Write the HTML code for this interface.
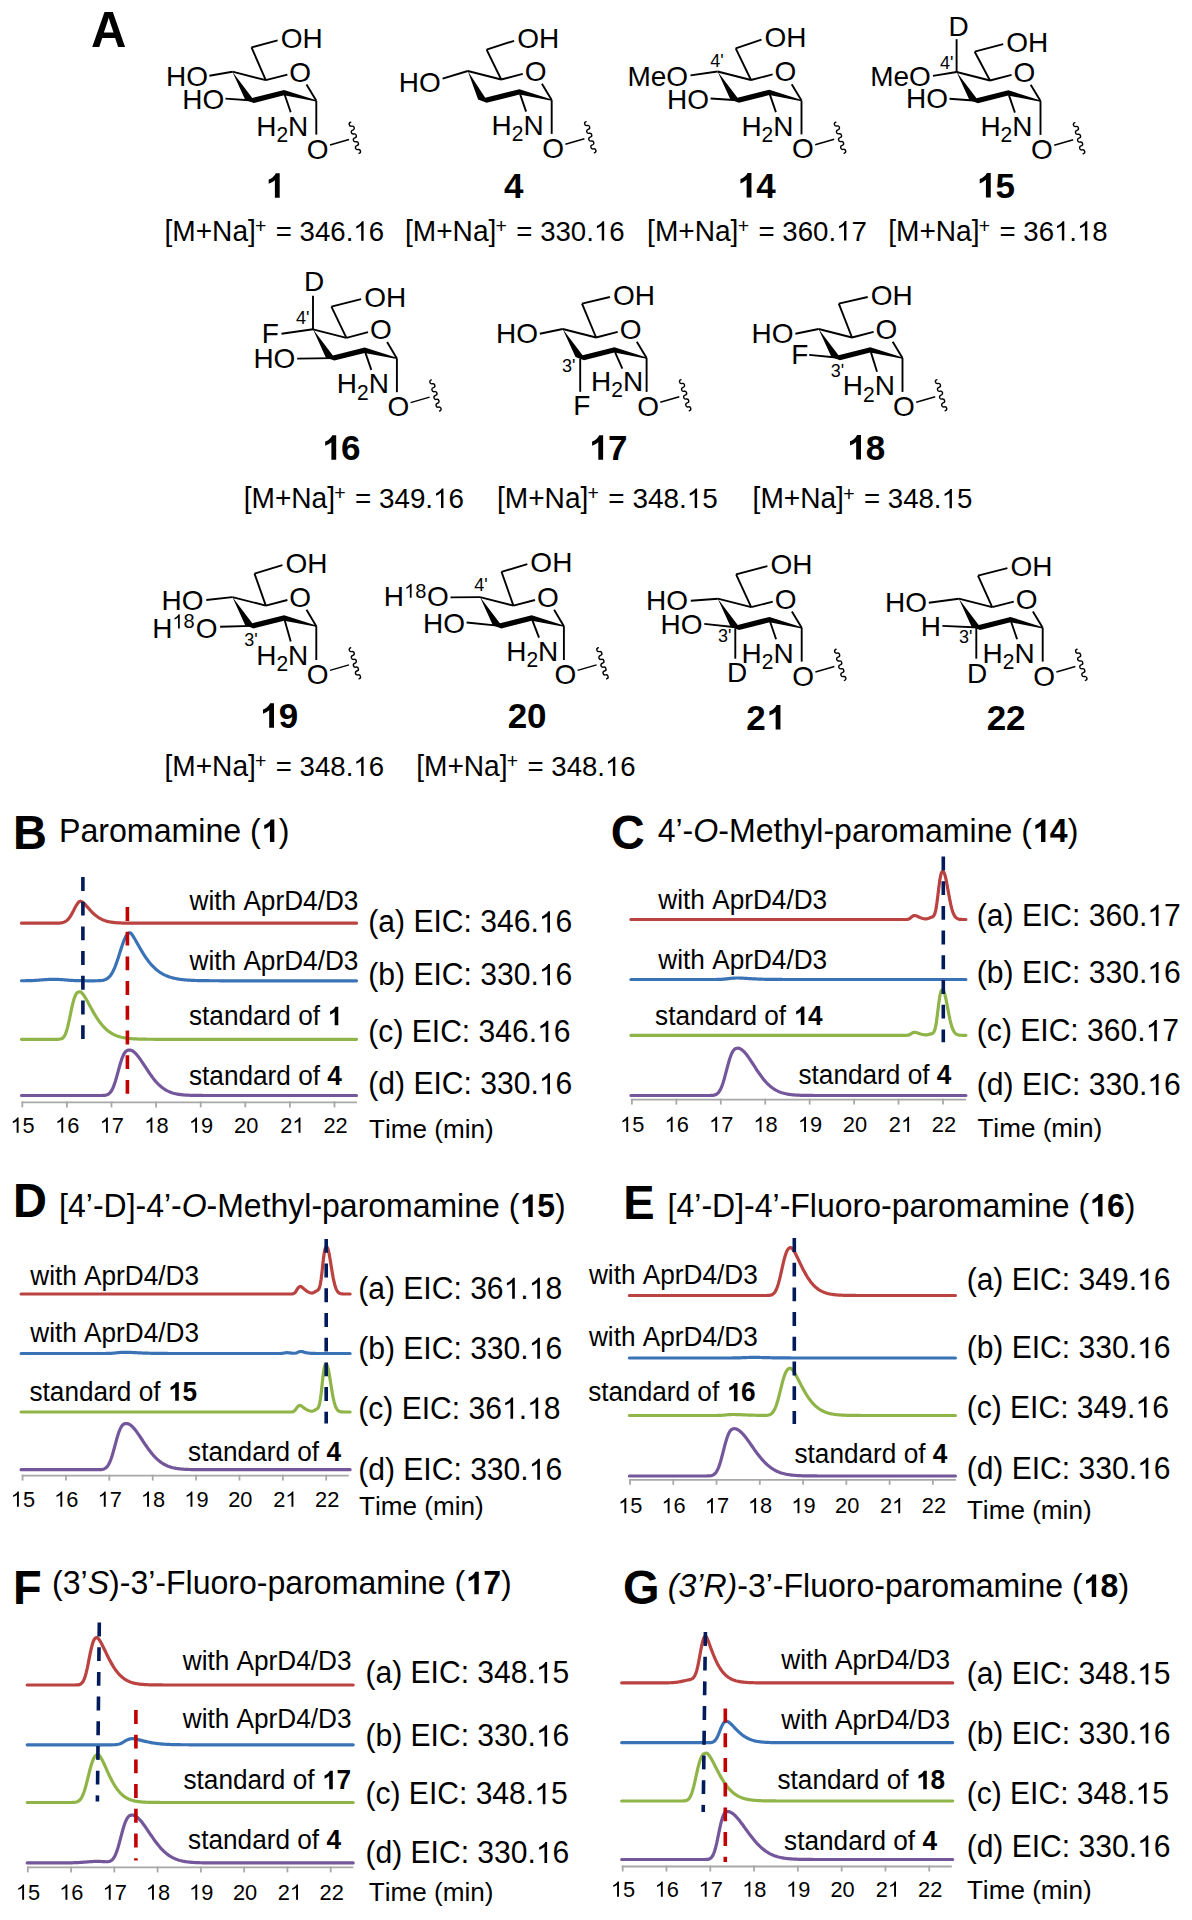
<!DOCTYPE html>
<html><head><meta charset="utf-8"><title>Figure</title>
<style>html,body{margin:0;padding:0;background:#fff;}svg{display:block;}
text{font-family:"Liberation Sans", sans-serif;font-kerning:none;}</style></head>
<body><svg width="1192" height="1920" viewBox="0 0 1192 1920">
<rect width="1192" height="1920" fill="#fff"/>
<text transform="translate(90.88,46.60) scale(1,1.02)" font-size="49.00" font-weight="bold">A</text>
<polygon points="232.40,71.70 245.20,99.80 253.70,103.00 284.10,95.30 316.30,101.40 316.30,100.20 284.10,89.90 252.30,97.90" fill="#000"/>
<line x1="232.40" y1="71.70" x2="265.80" y2="80.20" stroke="#000" stroke-width="1.9" stroke-linecap="butt" />
<line x1="265.80" y1="80.20" x2="251.50" y2="47.40" stroke="#000" stroke-width="1.9" stroke-linecap="butt" />
<line x1="251.50" y1="47.40" x2="277.60" y2="40.30" stroke="#000" stroke-width="1.9" stroke-linecap="butt" />
<line x1="265.80" y1="80.20" x2="287.40" y2="74.60" stroke="#000" stroke-width="1.9" stroke-linecap="butt" />
<line x1="306.50" y1="84.40" x2="316.30" y2="100.80" stroke="#000" stroke-width="1.9" stroke-linecap="butt" />
<line x1="316.30" y1="100.80" x2="316.30" y2="134.60" stroke="#000" stroke-width="1.9" stroke-linecap="butt" />
<line x1="284.70" y1="94.80" x2="290.70" y2="112.30" stroke="#000" stroke-width="1.9" stroke-linecap="butt" />
<line x1="330.00" y1="145.00" x2="349.00" y2="139.50" stroke="#000" stroke-width="1.5" stroke-linecap="butt" />
<path d="M350.70,122.30 a2.01,2.01 0 0 0 1.04,3.89 a2.01,2.01 0 0 1 1.04,3.89 a2.01,2.01 0 0 0 1.04,3.89 a2.01,2.01 0 0 1 1.04,3.89 a2.01,2.01 0 0 0 1.04,3.89 a2.01,2.01 0 0 1 1.04,3.89 a2.01,2.01 0 0 0 1.04,3.89 a2.01,2.01 0 0 1 1.04,3.89" fill="none" stroke="#000" stroke-width="1.4" stroke-linejoin="round" stroke-linecap="round" />
<text transform="translate(280.67,47.90) scale(1,1.02)" font-size="28.00">OH</text>
<text transform="translate(289.37,81.50) scale(1,1.02)" font-size="28.00">O</text>
<text transform="translate(306.87,158.60) scale(1,1.02)" font-size="28.00">O</text>
<text transform="translate(256.20,135.70) scale(1,1.02)" font-size="28.00">H</text>
<text transform="translate(276.42,142.14) scale(1,1.02)" font-size="21.00">2</text>
<text transform="translate(288.10,135.70) scale(1,1.02)" font-size="28.00">N</text>
<line x1="232.40" y1="71.70" x2="209.40" y2="75.80" stroke="#000" stroke-width="1.9" stroke-linecap="butt" />
<text transform="translate(166.00,85.70) scale(1,1.02)" font-size="28.00">HO</text>
<line x1="252.50" y1="100.50" x2="225.50" y2="98.60" stroke="#000" stroke-width="1.9" stroke-linecap="butt" />
<text transform="translate(182.20,108.60) scale(1,1.02)" font-size="28.00">HO</text>
<polygon points="467.80,71.00 478.10,99.60 486.60,102.80 519.50,94.60 551.70,100.70 551.70,99.50 519.50,89.20 485.20,97.70" fill="#000"/>
<line x1="467.80" y1="71.00" x2="501.20" y2="79.50" stroke="#000" stroke-width="1.9" stroke-linecap="butt" />
<line x1="501.20" y1="79.50" x2="486.60" y2="49.60" stroke="#000" stroke-width="1.9" stroke-linecap="butt" />
<line x1="486.60" y1="49.60" x2="514.10" y2="40.80" stroke="#000" stroke-width="1.9" stroke-linecap="butt" />
<line x1="501.20" y1="79.50" x2="522.80" y2="73.90" stroke="#000" stroke-width="1.9" stroke-linecap="butt" />
<line x1="541.90" y1="83.70" x2="551.70" y2="100.10" stroke="#000" stroke-width="1.9" stroke-linecap="butt" />
<line x1="551.70" y1="100.10" x2="551.70" y2="133.90" stroke="#000" stroke-width="1.9" stroke-linecap="butt" />
<line x1="520.10" y1="94.10" x2="526.10" y2="111.60" stroke="#000" stroke-width="1.9" stroke-linecap="butt" />
<line x1="565.40" y1="144.30" x2="584.40" y2="138.80" stroke="#000" stroke-width="1.5" stroke-linecap="butt" />
<path d="M586.10,121.60 a2.01,2.01 0 0 0 1.04,3.89 a2.01,2.01 0 0 1 1.04,3.89 a2.01,2.01 0 0 0 1.04,3.89 a2.01,2.01 0 0 1 1.04,3.89 a2.01,2.01 0 0 0 1.04,3.89 a2.01,2.01 0 0 1 1.04,3.89 a2.01,2.01 0 0 0 1.04,3.89 a2.01,2.01 0 0 1 1.04,3.89" fill="none" stroke="#000" stroke-width="1.4" stroke-linejoin="round" stroke-linecap="round" />
<text transform="translate(517.17,48.40) scale(1,1.02)" font-size="28.00">OH</text>
<text transform="translate(524.77,80.80) scale(1,1.02)" font-size="28.00">O</text>
<text transform="translate(542.27,157.90) scale(1,1.02)" font-size="28.00">O</text>
<text transform="translate(491.60,135.00) scale(1,1.02)" font-size="28.00">H</text>
<text transform="translate(511.82,141.44) scale(1,1.02)" font-size="21.00">2</text>
<text transform="translate(523.50,135.00) scale(1,1.02)" font-size="28.00">N</text>
<line x1="467.80" y1="71.00" x2="442.60" y2="78.70" stroke="#000" stroke-width="1.9" stroke-linecap="butt" />
<text transform="translate(398.70,92.00) scale(1,1.02)" font-size="28.00">HO</text>
<polygon points="717.60,71.50 730.40,99.60 738.90,102.80 769.30,95.10 801.50,101.20 801.50,100.00 769.30,89.70 737.50,97.70" fill="#000"/>
<line x1="717.60" y1="71.50" x2="751.00" y2="80.00" stroke="#000" stroke-width="1.9" stroke-linecap="butt" />
<line x1="751.00" y1="80.00" x2="735.70" y2="48.30" stroke="#000" stroke-width="1.9" stroke-linecap="butt" />
<line x1="735.70" y1="48.30" x2="761.50" y2="39.70" stroke="#000" stroke-width="1.9" stroke-linecap="butt" />
<line x1="751.00" y1="80.00" x2="772.60" y2="74.40" stroke="#000" stroke-width="1.9" stroke-linecap="butt" />
<line x1="791.70" y1="84.20" x2="801.50" y2="100.60" stroke="#000" stroke-width="1.9" stroke-linecap="butt" />
<line x1="801.50" y1="100.60" x2="801.50" y2="134.40" stroke="#000" stroke-width="1.9" stroke-linecap="butt" />
<line x1="769.90" y1="94.60" x2="775.90" y2="112.10" stroke="#000" stroke-width="1.9" stroke-linecap="butt" />
<line x1="815.20" y1="144.80" x2="834.20" y2="139.30" stroke="#000" stroke-width="1.5" stroke-linecap="butt" />
<path d="M835.90,122.10 a2.01,2.01 0 0 0 1.04,3.89 a2.01,2.01 0 0 1 1.04,3.89 a2.01,2.01 0 0 0 1.04,3.89 a2.01,2.01 0 0 1 1.04,3.89 a2.01,2.01 0 0 0 1.04,3.89 a2.01,2.01 0 0 1 1.04,3.89 a2.01,2.01 0 0 0 1.04,3.89 a2.01,2.01 0 0 1 1.04,3.89" fill="none" stroke="#000" stroke-width="1.4" stroke-linejoin="round" stroke-linecap="round" />
<text transform="translate(764.57,47.30) scale(1,1.02)" font-size="28.00">OH</text>
<text transform="translate(774.57,81.30) scale(1,1.02)" font-size="28.00">O</text>
<text transform="translate(792.07,158.40) scale(1,1.02)" font-size="28.00">O</text>
<text transform="translate(741.40,135.50) scale(1,1.02)" font-size="28.00">H</text>
<text transform="translate(761.62,141.94) scale(1,1.02)" font-size="21.00">2</text>
<text transform="translate(773.30,135.50) scale(1,1.02)" font-size="28.00">N</text>
<line x1="717.60" y1="71.50" x2="690.50" y2="75.40" stroke="#000" stroke-width="1.9" stroke-linecap="butt" />
<text transform="translate(627.40,85.50) scale(1,1.02)" font-size="28.00">MeO</text>
<text transform="translate(710.19,67.30) scale(1,1.02)" font-size="18.00">4'</text>
<line x1="737.70" y1="100.30" x2="710.60" y2="98.50" stroke="#000" stroke-width="1.9" stroke-linecap="butt" />
<text transform="translate(667.00,108.60) scale(1,1.02)" font-size="28.00">HO</text>
<polygon points="956.60,72.00 969.40,100.10 977.90,103.30 1008.30,95.60 1040.50,101.70 1040.50,100.50 1008.30,90.20 976.50,98.20" fill="#000"/>
<line x1="956.60" y1="72.00" x2="990.00" y2="80.50" stroke="#000" stroke-width="1.9" stroke-linecap="butt" />
<line x1="990.00" y1="80.50" x2="974.70" y2="51.70" stroke="#000" stroke-width="1.9" stroke-linecap="butt" />
<line x1="974.70" y1="51.70" x2="1003.20" y2="44.10" stroke="#000" stroke-width="1.9" stroke-linecap="butt" />
<line x1="990.00" y1="80.50" x2="1011.60" y2="74.90" stroke="#000" stroke-width="1.9" stroke-linecap="butt" />
<line x1="1030.70" y1="84.70" x2="1040.50" y2="101.10" stroke="#000" stroke-width="1.9" stroke-linecap="butt" />
<line x1="1040.50" y1="101.10" x2="1040.50" y2="134.90" stroke="#000" stroke-width="1.9" stroke-linecap="butt" />
<line x1="1008.90" y1="95.10" x2="1014.90" y2="112.60" stroke="#000" stroke-width="1.9" stroke-linecap="butt" />
<line x1="1054.20" y1="145.30" x2="1073.20" y2="139.80" stroke="#000" stroke-width="1.5" stroke-linecap="butt" />
<path d="M1074.90,122.60 a2.01,2.01 0 0 0 1.04,3.89 a2.01,2.01 0 0 1 1.04,3.89 a2.01,2.01 0 0 0 1.04,3.89 a2.01,2.01 0 0 1 1.04,3.89 a2.01,2.01 0 0 0 1.04,3.89 a2.01,2.01 0 0 1 1.04,3.89 a2.01,2.01 0 0 0 1.04,3.89 a2.01,2.01 0 0 1 1.04,3.89" fill="none" stroke="#000" stroke-width="1.4" stroke-linejoin="round" stroke-linecap="round" />
<text transform="translate(1006.27,51.70) scale(1,1.02)" font-size="28.00">OH</text>
<text transform="translate(1013.57,81.80) scale(1,1.02)" font-size="28.00">O</text>
<text transform="translate(1031.07,158.90) scale(1,1.02)" font-size="28.00">O</text>
<text transform="translate(980.40,136.00) scale(1,1.02)" font-size="28.00">H</text>
<text transform="translate(1000.62,142.44) scale(1,1.02)" font-size="21.00">2</text>
<text transform="translate(1012.30,136.00) scale(1,1.02)" font-size="28.00">N</text>
<line x1="956.60" y1="39.20" x2="956.60" y2="72.00" stroke="#000" stroke-width="1.9" stroke-linecap="butt" />
<text transform="translate(948.40,35.70) scale(1,1.02)" font-size="28.00">D</text>
<text transform="translate(939.99,68.60) scale(1,1.02)" font-size="18.00">4'</text>
<line x1="956.60" y1="72.00" x2="933.00" y2="75.90" stroke="#000" stroke-width="1.9" stroke-linecap="butt" />
<text transform="translate(870.20,85.50) scale(1,1.02)" font-size="28.00">MeO</text>
<line x1="976.70" y1="100.80" x2="949.50" y2="98.80" stroke="#000" stroke-width="1.9" stroke-linecap="butt" />
<text transform="translate(906.00,107.80) scale(1,1.02)" font-size="28.00">HO</text>
<polygon points="313.00,329.30 325.80,357.40 334.30,360.60 364.70,352.90 396.90,359.00 396.90,357.80 364.70,347.50 332.90,355.50" fill="#000"/>
<line x1="313.00" y1="329.30" x2="346.40" y2="337.80" stroke="#000" stroke-width="1.9" stroke-linecap="butt" />
<line x1="346.40" y1="337.80" x2="331.40" y2="306.70" stroke="#000" stroke-width="1.9" stroke-linecap="butt" />
<line x1="331.40" y1="306.70" x2="361.10" y2="299.10" stroke="#000" stroke-width="1.9" stroke-linecap="butt" />
<line x1="346.40" y1="337.80" x2="368.00" y2="332.20" stroke="#000" stroke-width="1.9" stroke-linecap="butt" />
<line x1="387.10" y1="342.00" x2="396.90" y2="358.40" stroke="#000" stroke-width="1.9" stroke-linecap="butt" />
<line x1="396.90" y1="358.40" x2="396.90" y2="392.20" stroke="#000" stroke-width="1.9" stroke-linecap="butt" />
<line x1="365.30" y1="352.40" x2="371.30" y2="369.90" stroke="#000" stroke-width="1.9" stroke-linecap="butt" />
<line x1="410.60" y1="402.60" x2="429.60" y2="397.10" stroke="#000" stroke-width="1.5" stroke-linecap="butt" />
<path d="M431.30,379.90 a2.01,2.01 0 0 0 1.04,3.89 a2.01,2.01 0 0 1 1.04,3.89 a2.01,2.01 0 0 0 1.04,3.89 a2.01,2.01 0 0 1 1.04,3.89 a2.01,2.01 0 0 0 1.04,3.89 a2.01,2.01 0 0 1 1.04,3.89 a2.01,2.01 0 0 0 1.04,3.89 a2.01,2.01 0 0 1 1.04,3.89" fill="none" stroke="#000" stroke-width="1.4" stroke-linejoin="round" stroke-linecap="round" />
<text transform="translate(364.17,306.70) scale(1,1.02)" font-size="28.00">OH</text>
<text transform="translate(369.97,339.10) scale(1,1.02)" font-size="28.00">O</text>
<text transform="translate(387.47,416.20) scale(1,1.02)" font-size="28.00">O</text>
<text transform="translate(336.80,393.30) scale(1,1.02)" font-size="28.00">H</text>
<text transform="translate(357.02,399.74) scale(1,1.02)" font-size="21.00">2</text>
<text transform="translate(368.70,393.30) scale(1,1.02)" font-size="28.00">N</text>
<line x1="313.00" y1="295.80" x2="313.00" y2="329.30" stroke="#000" stroke-width="1.9" stroke-linecap="butt" />
<text transform="translate(304.10,291.20) scale(1,1.02)" font-size="28.00">D</text>
<text transform="translate(295.89,324.40) scale(1,1.02)" font-size="18.00">4'</text>
<line x1="313.00" y1="329.30" x2="281.50" y2="333.70" stroke="#000" stroke-width="1.9" stroke-linecap="butt" />
<text transform="translate(261.70,342.90) scale(1,1.02)" font-size="28.00">F</text>
<line x1="297.20" y1="358.60" x2="333.10" y2="358.10" stroke="#000" stroke-width="1.9" stroke-linecap="butt" />
<text transform="translate(253.40,367.80) scale(1,1.02)" font-size="28.00">HO</text>
<polygon points="562.70,329.00 575.50,357.10 584.00,360.30 614.40,352.60 646.60,358.70 646.60,357.50 614.40,347.20 582.60,355.20" fill="#000"/>
<line x1="562.70" y1="329.00" x2="596.10" y2="337.50" stroke="#000" stroke-width="1.9" stroke-linecap="butt" />
<line x1="596.10" y1="337.50" x2="582.00" y2="303.60" stroke="#000" stroke-width="1.9" stroke-linecap="butt" />
<line x1="582.00" y1="303.60" x2="609.90" y2="297.00" stroke="#000" stroke-width="1.9" stroke-linecap="butt" />
<line x1="596.10" y1="337.50" x2="617.70" y2="331.90" stroke="#000" stroke-width="1.9" stroke-linecap="butt" />
<line x1="636.80" y1="341.70" x2="646.60" y2="358.10" stroke="#000" stroke-width="1.9" stroke-linecap="butt" />
<line x1="646.60" y1="358.10" x2="646.60" y2="391.90" stroke="#000" stroke-width="1.9" stroke-linecap="butt" />
<line x1="615.00" y1="352.10" x2="622.35" y2="368.60" stroke="#000" stroke-width="1.9" stroke-linecap="butt" />
<line x1="660.30" y1="402.30" x2="679.30" y2="396.80" stroke="#000" stroke-width="1.5" stroke-linecap="butt" />
<path d="M681.00,379.60 a2.01,2.01 0 0 0 1.04,3.89 a2.01,2.01 0 0 1 1.04,3.89 a2.01,2.01 0 0 0 1.04,3.89 a2.01,2.01 0 0 1 1.04,3.89 a2.01,2.01 0 0 0 1.04,3.89 a2.01,2.01 0 0 1 1.04,3.89 a2.01,2.01 0 0 0 1.04,3.89 a2.01,2.01 0 0 1 1.04,3.89" fill="none" stroke="#000" stroke-width="1.4" stroke-linejoin="round" stroke-linecap="round" />
<text transform="translate(612.97,304.60) scale(1,1.02)" font-size="28.00">OH</text>
<text transform="translate(619.67,338.80) scale(1,1.02)" font-size="28.00">O</text>
<text transform="translate(637.17,415.90) scale(1,1.02)" font-size="28.00">O</text>
<text transform="translate(591.00,390.80) scale(1,1.02)" font-size="28.00">H</text>
<text transform="translate(611.22,397.24) scale(1,1.02)" font-size="21.00">2</text>
<text transform="translate(622.90,390.80) scale(1,1.02)" font-size="28.00">N</text>
<line x1="562.70" y1="329.00" x2="539.80" y2="333.70" stroke="#000" stroke-width="1.9" stroke-linecap="butt" />
<text transform="translate(496.00,342.90) scale(1,1.02)" font-size="28.00">HO</text>
<line x1="580.20" y1="358.60" x2="580.20" y2="391.80" stroke="#000" stroke-width="1.9" stroke-linecap="butt" />
<text transform="translate(573.30,414.50) scale(1,1.02)" font-size="28.00">F</text>
<text transform="translate(561.91,372.20) scale(1,1.02)" font-size="18.00">3'</text>
<polygon points="818.60,329.00 831.40,357.10 839.90,360.30 870.30,352.60 902.50,358.70 902.50,357.50 870.30,347.20 838.50,355.20" fill="#000"/>
<line x1="818.60" y1="329.00" x2="852.00" y2="337.50" stroke="#000" stroke-width="1.9" stroke-linecap="butt" />
<line x1="852.00" y1="337.50" x2="838.80" y2="303.60" stroke="#000" stroke-width="1.9" stroke-linecap="butt" />
<line x1="838.80" y1="303.60" x2="867.70" y2="297.00" stroke="#000" stroke-width="1.9" stroke-linecap="butt" />
<line x1="852.00" y1="337.50" x2="873.60" y2="331.90" stroke="#000" stroke-width="1.9" stroke-linecap="butt" />
<line x1="892.70" y1="341.70" x2="902.50" y2="358.10" stroke="#000" stroke-width="1.9" stroke-linecap="butt" />
<line x1="902.50" y1="358.10" x2="902.50" y2="391.90" stroke="#000" stroke-width="1.9" stroke-linecap="butt" />
<line x1="870.90" y1="352.10" x2="877.02" y2="371.70" stroke="#000" stroke-width="1.9" stroke-linecap="butt" />
<line x1="916.20" y1="402.30" x2="935.20" y2="396.80" stroke="#000" stroke-width="1.5" stroke-linecap="butt" />
<path d="M936.90,379.60 a2.01,2.01 0 0 0 1.04,3.89 a2.01,2.01 0 0 1 1.04,3.89 a2.01,2.01 0 0 0 1.04,3.89 a2.01,2.01 0 0 1 1.04,3.89 a2.01,2.01 0 0 0 1.04,3.89 a2.01,2.01 0 0 1 1.04,3.89 a2.01,2.01 0 0 0 1.04,3.89 a2.01,2.01 0 0 1 1.04,3.89" fill="none" stroke="#000" stroke-width="1.4" stroke-linejoin="round" stroke-linecap="round" />
<text transform="translate(870.77,304.60) scale(1,1.02)" font-size="28.00">OH</text>
<text transform="translate(875.57,338.80) scale(1,1.02)" font-size="28.00">O</text>
<text transform="translate(893.07,415.90) scale(1,1.02)" font-size="28.00">O</text>
<text transform="translate(842.80,395.40) scale(1,1.02)" font-size="28.00">H</text>
<text transform="translate(863.02,401.84) scale(1,1.02)" font-size="21.00">2</text>
<text transform="translate(874.70,395.40) scale(1,1.02)" font-size="28.00">N</text>
<line x1="818.60" y1="329.00" x2="795.40" y2="333.70" stroke="#000" stroke-width="1.9" stroke-linecap="butt" />
<text transform="translate(751.50,342.90) scale(1,1.02)" font-size="28.00">HO</text>
<line x1="809.20" y1="354.90" x2="838.70" y2="357.80" stroke="#000" stroke-width="1.9" stroke-linecap="butt" />
<text transform="translate(791.20,364.10) scale(1,1.02)" font-size="28.00">F</text>
<text transform="translate(830.81,376.70) scale(1,1.02)" font-size="18.00">3'</text>
<polygon points="232.40,597.10 245.20,625.20 253.70,628.40 284.10,620.70 316.30,626.80 316.30,625.60 284.10,615.30 252.30,623.30" fill="#000"/>
<line x1="232.40" y1="597.10" x2="265.80" y2="605.60" stroke="#000" stroke-width="1.9" stroke-linecap="butt" />
<line x1="265.80" y1="605.60" x2="254.50" y2="573.60" stroke="#000" stroke-width="1.9" stroke-linecap="butt" />
<line x1="254.50" y1="573.60" x2="282.40" y2="565.10" stroke="#000" stroke-width="1.9" stroke-linecap="butt" />
<line x1="265.80" y1="605.60" x2="287.40" y2="600.00" stroke="#000" stroke-width="1.9" stroke-linecap="butt" />
<line x1="306.50" y1="609.80" x2="316.30" y2="626.20" stroke="#000" stroke-width="1.9" stroke-linecap="butt" />
<line x1="316.30" y1="626.20" x2="316.30" y2="660.00" stroke="#000" stroke-width="1.9" stroke-linecap="butt" />
<line x1="284.70" y1="620.20" x2="290.70" y2="641.40" stroke="#000" stroke-width="1.9" stroke-linecap="butt" />
<line x1="330.00" y1="670.40" x2="349.00" y2="664.90" stroke="#000" stroke-width="1.5" stroke-linecap="butt" />
<path d="M350.70,647.70 a2.01,2.01 0 0 0 1.04,3.89 a2.01,2.01 0 0 1 1.04,3.89 a2.01,2.01 0 0 0 1.04,3.89 a2.01,2.01 0 0 1 1.04,3.89 a2.01,2.01 0 0 0 1.04,3.89 a2.01,2.01 0 0 1 1.04,3.89 a2.01,2.01 0 0 0 1.04,3.89 a2.01,2.01 0 0 1 1.04,3.89" fill="none" stroke="#000" stroke-width="1.4" stroke-linejoin="round" stroke-linecap="round" />
<text transform="translate(285.47,572.70) scale(1,1.02)" font-size="28.00">OH</text>
<text transform="translate(289.37,606.90) scale(1,1.02)" font-size="28.00">O</text>
<text transform="translate(306.87,684.00) scale(1,1.02)" font-size="28.00">O</text>
<text transform="translate(256.20,664.90) scale(1,1.02)" font-size="28.00">H</text>
<text transform="translate(276.42,671.34) scale(1,1.02)" font-size="21.00">2</text>
<text transform="translate(288.10,664.90) scale(1,1.02)" font-size="28.00">N</text>
<line x1="232.40" y1="597.10" x2="206.30" y2="600.00" stroke="#000" stroke-width="1.9" stroke-linecap="butt" />
<text transform="translate(161.50,610.10) scale(1,1.02)" font-size="28.00">HO</text>
<line x1="220.10" y1="626.70" x2="252.50" y2="625.90" stroke="#000" stroke-width="1.9" stroke-linecap="butt" />
<text transform="translate(152.30,637.80) scale(1,1.02)" font-size="28.00">H</text>
<path d="M763,0L583,0L583,1147Q518,1085 412,1023Q306,961 221,930L221,1104Q372,1175 485,1276Q598,1377 645,1472L763,1472Z" transform="translate(172.34,628.40) scale(0.00977,-0.00953)"/>
<text transform="translate(183.46,628.40) scale(1,1.02)" font-size="20.00">8</text>
<text transform="translate(195.67,637.80) scale(1,1.02)" font-size="28.00">O</text>
<text transform="translate(244.21,645.80) scale(1,1.02)" font-size="18.00">3'</text>
<polygon points="480.00,597.10 492.80,625.20 501.30,628.40 531.70,620.70 563.90,626.80 563.90,625.60 531.70,615.30 499.90,623.30" fill="#000"/>
<line x1="480.00" y1="597.10" x2="513.40" y2="605.60" stroke="#000" stroke-width="1.9" stroke-linecap="butt" />
<line x1="513.40" y1="605.60" x2="501.50" y2="571.80" stroke="#000" stroke-width="1.9" stroke-linecap="butt" />
<line x1="501.50" y1="571.80" x2="527.30" y2="564.20" stroke="#000" stroke-width="1.9" stroke-linecap="butt" />
<line x1="513.40" y1="605.60" x2="535.00" y2="600.00" stroke="#000" stroke-width="1.9" stroke-linecap="butt" />
<line x1="554.10" y1="609.80" x2="563.90" y2="626.20" stroke="#000" stroke-width="1.9" stroke-linecap="butt" />
<line x1="563.90" y1="626.20" x2="563.90" y2="660.00" stroke="#000" stroke-width="1.9" stroke-linecap="butt" />
<line x1="532.30" y1="620.20" x2="539.02" y2="637.70" stroke="#000" stroke-width="1.9" stroke-linecap="butt" />
<line x1="577.60" y1="670.40" x2="596.60" y2="664.90" stroke="#000" stroke-width="1.5" stroke-linecap="butt" />
<path d="M598.30,647.70 a2.01,2.01 0 0 0 1.04,3.89 a2.01,2.01 0 0 1 1.04,3.89 a2.01,2.01 0 0 0 1.04,3.89 a2.01,2.01 0 0 1 1.04,3.89 a2.01,2.01 0 0 0 1.04,3.89 a2.01,2.01 0 0 1 1.04,3.89 a2.01,2.01 0 0 0 1.04,3.89 a2.01,2.01 0 0 1 1.04,3.89" fill="none" stroke="#000" stroke-width="1.4" stroke-linejoin="round" stroke-linecap="round" />
<text transform="translate(530.37,571.80) scale(1,1.02)" font-size="28.00">OH</text>
<text transform="translate(536.97,606.90) scale(1,1.02)" font-size="28.00">O</text>
<text transform="translate(554.47,684.00) scale(1,1.02)" font-size="28.00">O</text>
<text transform="translate(506.20,660.50) scale(1,1.02)" font-size="28.00">H</text>
<text transform="translate(526.42,666.94) scale(1,1.02)" font-size="21.00">2</text>
<text transform="translate(538.10,660.50) scale(1,1.02)" font-size="28.00">N</text>
<line x1="450.50" y1="597.40" x2="480.00" y2="597.10" stroke="#000" stroke-width="1.9" stroke-linecap="butt" />
<text transform="translate(383.70,606.40) scale(1,1.02)" font-size="28.00">H</text>
<path d="M763,0L583,0L583,1147Q518,1085 412,1023Q306,961 221,930L221,1104Q372,1175 485,1276Q598,1377 645,1472L763,1472Z" transform="translate(404.14,597.70) scale(0.00977,-0.00953)"/>
<text transform="translate(415.26,597.70) scale(1,1.02)" font-size="20.00">8</text>
<text transform="translate(426.97,606.40) scale(1,1.02)" font-size="28.00">O</text>
<text transform="translate(474.19,591.30) scale(1,1.02)" font-size="18.00">4'</text>
<line x1="466.60" y1="622.50" x2="500.10" y2="625.90" stroke="#000" stroke-width="1.9" stroke-linecap="butt" />
<text transform="translate(423.00,632.60) scale(1,1.02)" font-size="28.00">HO</text>
<polygon points="717.80,598.70 730.60,626.80 739.10,630.00 769.50,622.30 801.70,628.40 801.70,627.20 769.50,616.90 737.70,624.90" fill="#000"/>
<line x1="717.80" y1="598.70" x2="751.20" y2="607.20" stroke="#000" stroke-width="1.9" stroke-linecap="butt" />
<line x1="751.20" y1="607.20" x2="736.10" y2="574.30" stroke="#000" stroke-width="1.9" stroke-linecap="butt" />
<line x1="736.10" y1="574.30" x2="767.40" y2="566.20" stroke="#000" stroke-width="1.9" stroke-linecap="butt" />
<line x1="751.20" y1="607.20" x2="772.80" y2="601.60" stroke="#000" stroke-width="1.9" stroke-linecap="butt" />
<line x1="791.90" y1="611.40" x2="801.70" y2="627.80" stroke="#000" stroke-width="1.9" stroke-linecap="butt" />
<line x1="801.70" y1="627.80" x2="801.70" y2="661.60" stroke="#000" stroke-width="1.9" stroke-linecap="butt" />
<line x1="770.10" y1="621.80" x2="776.10" y2="639.30" stroke="#000" stroke-width="1.9" stroke-linecap="butt" />
<line x1="815.40" y1="672.00" x2="834.40" y2="666.50" stroke="#000" stroke-width="1.5" stroke-linecap="butt" />
<path d="M836.10,649.30 a2.01,2.01 0 0 0 1.04,3.89 a2.01,2.01 0 0 1 1.04,3.89 a2.01,2.01 0 0 0 1.04,3.89 a2.01,2.01 0 0 1 1.04,3.89 a2.01,2.01 0 0 0 1.04,3.89 a2.01,2.01 0 0 1 1.04,3.89 a2.01,2.01 0 0 0 1.04,3.89 a2.01,2.01 0 0 1 1.04,3.89" fill="none" stroke="#000" stroke-width="1.4" stroke-linejoin="round" stroke-linecap="round" />
<text transform="translate(770.47,573.80) scale(1,1.02)" font-size="28.00">OH</text>
<text transform="translate(774.77,608.50) scale(1,1.02)" font-size="28.00">O</text>
<text transform="translate(792.27,685.60) scale(1,1.02)" font-size="28.00">O</text>
<text transform="translate(741.60,662.70) scale(1,1.02)" font-size="28.00">H</text>
<text transform="translate(761.82,669.14) scale(1,1.02)" font-size="21.00">2</text>
<text transform="translate(773.50,662.70) scale(1,1.02)" font-size="28.00">N</text>
<line x1="690.80" y1="600.80" x2="717.80" y2="598.70" stroke="#000" stroke-width="1.9" stroke-linecap="butt" />
<text transform="translate(646.00,610.40) scale(1,1.02)" font-size="28.00">HO</text>
<line x1="704.30" y1="623.90" x2="737.90" y2="627.50" stroke="#000" stroke-width="1.9" stroke-linecap="butt" />
<text transform="translate(660.50,633.60) scale(1,1.02)" font-size="28.00">HO</text>
<text transform="translate(718.11,642.30) scale(1,1.02)" font-size="18.00">3'</text>
<line x1="735.30" y1="628.30" x2="735.30" y2="658.70" stroke="#000" stroke-width="1.9" stroke-linecap="butt" />
<text transform="translate(727.10,681.80) scale(1,1.02)" font-size="28.00">D</text>
<polygon points="958.80,598.70 971.60,626.80 980.10,630.00 1010.50,622.30 1042.70,628.40 1042.70,627.20 1010.50,616.90 978.70,624.90" fill="#000"/>
<line x1="958.80" y1="598.70" x2="992.20" y2="607.20" stroke="#000" stroke-width="1.9" stroke-linecap="butt" />
<line x1="992.20" y1="607.20" x2="978.00" y2="575.70" stroke="#000" stroke-width="1.9" stroke-linecap="butt" />
<line x1="978.00" y1="575.70" x2="1007.40" y2="568.10" stroke="#000" stroke-width="1.9" stroke-linecap="butt" />
<line x1="992.20" y1="607.20" x2="1013.80" y2="601.60" stroke="#000" stroke-width="1.9" stroke-linecap="butt" />
<line x1="1032.90" y1="611.40" x2="1042.70" y2="627.80" stroke="#000" stroke-width="1.9" stroke-linecap="butt" />
<line x1="1042.70" y1="627.80" x2="1042.70" y2="661.60" stroke="#000" stroke-width="1.9" stroke-linecap="butt" />
<line x1="1011.10" y1="621.80" x2="1017.10" y2="639.30" stroke="#000" stroke-width="1.9" stroke-linecap="butt" />
<line x1="1056.40" y1="672.00" x2="1075.40" y2="666.50" stroke="#000" stroke-width="1.5" stroke-linecap="butt" />
<path d="M1077.10,649.30 a2.01,2.01 0 0 0 1.04,3.89 a2.01,2.01 0 0 1 1.04,3.89 a2.01,2.01 0 0 0 1.04,3.89 a2.01,2.01 0 0 1 1.04,3.89 a2.01,2.01 0 0 0 1.04,3.89 a2.01,2.01 0 0 1 1.04,3.89 a2.01,2.01 0 0 0 1.04,3.89 a2.01,2.01 0 0 1 1.04,3.89" fill="none" stroke="#000" stroke-width="1.4" stroke-linejoin="round" stroke-linecap="round" />
<text transform="translate(1010.47,575.70) scale(1,1.02)" font-size="28.00">OH</text>
<text transform="translate(1015.77,608.50) scale(1,1.02)" font-size="28.00">O</text>
<text transform="translate(1033.27,685.60) scale(1,1.02)" font-size="28.00">O</text>
<text transform="translate(982.60,662.70) scale(1,1.02)" font-size="28.00">H</text>
<text transform="translate(1002.82,669.14) scale(1,1.02)" font-size="21.00">2</text>
<text transform="translate(1014.50,662.70) scale(1,1.02)" font-size="28.00">N</text>
<line x1="928.80" y1="602.70" x2="958.80" y2="598.70" stroke="#000" stroke-width="1.9" stroke-linecap="butt" />
<text transform="translate(885.10,612.40) scale(1,1.02)" font-size="28.00">HO</text>
<line x1="942.40" y1="625.90" x2="978.90" y2="627.50" stroke="#000" stroke-width="1.9" stroke-linecap="butt" />
<text transform="translate(920.70,635.50) scale(1,1.02)" font-size="28.00">H</text>
<text transform="translate(959.01,643.20) scale(1,1.02)" font-size="18.00">3'</text>
<line x1="976.30" y1="628.30" x2="976.30" y2="658.70" stroke="#000" stroke-width="1.9" stroke-linecap="butt" />
<text transform="translate(967.10,682.80) scale(1,1.02)" font-size="28.00">D</text>
<path d="M856,0L575,0L575,1059Q421,915 212,846L212,1101Q322,1137 451,1238Q580,1339 628,1472L856,1472Z" transform="translate(265.07,197.80) scale(0.01709,-0.01669)"/>
<text transform="translate(503.90,197.50) scale(1,1.02)" font-size="35.00" font-weight="bold">4</text>
<path d="M856,0L575,0L575,1059Q421,915 212,846L212,1101Q322,1137 451,1238Q580,1339 628,1472L856,1472Z" transform="translate(736.82,197.50) scale(0.01709,-0.01669)"/>
<text transform="translate(756.28,197.50) scale(1,1.02)" font-size="35.00" font-weight="bold">4</text>
<path d="M856,0L575,0L575,1059Q421,915 212,846L212,1101Q322,1137 451,1238Q580,1339 628,1472L856,1472Z" transform="translate(976.11,197.50) scale(0.01709,-0.01669)"/>
<text transform="translate(995.58,197.50) scale(1,1.02)" font-size="35.00" font-weight="bold">5</text>
<path d="M856,0L575,0L575,1059Q421,915 212,846L212,1101Q322,1137 451,1238Q580,1339 628,1472L856,1472Z" transform="translate(321.56,459.80) scale(0.01709,-0.01669)"/>
<text transform="translate(341.02,459.80) scale(1,1.02)" font-size="35.00" font-weight="bold">6</text>
<path d="M856,0L575,0L575,1059Q421,915 212,846L212,1101Q322,1137 451,1238Q580,1339 628,1472L856,1472Z" transform="translate(588.49,459.80) scale(0.01709,-0.01669)"/>
<text transform="translate(607.96,459.80) scale(1,1.02)" font-size="35.00" font-weight="bold">7</text>
<path d="M856,0L575,0L575,1059Q421,915 212,846L212,1101Q322,1137 451,1238Q580,1339 628,1472L856,1472Z" transform="translate(846.36,459.60) scale(0.01709,-0.01669)"/>
<text transform="translate(865.83,459.60) scale(1,1.02)" font-size="35.00" font-weight="bold">8</text>
<path d="M856,0L575,0L575,1059Q421,915 212,846L212,1101Q322,1137 451,1238Q580,1339 628,1472L856,1472Z" transform="translate(259.37,727.80) scale(0.01709,-0.01669)"/>
<text transform="translate(278.84,727.80) scale(1,1.02)" font-size="35.00" font-weight="bold">9</text>
<text transform="translate(507.65,727.80) scale(1,1.02)" font-size="35.00" font-weight="bold">20</text>
<text transform="translate(746.35,729.60) scale(1,1.02)" font-size="35.00" font-weight="bold">2</text>
<path d="M856,0L575,0L575,1059Q421,915 212,846L212,1101Q322,1137 451,1238Q580,1339 628,1472L856,1472Z" transform="translate(765.81,729.60) scale(0.01709,-0.01669)"/>
<text transform="translate(986.63,729.60) scale(1,1.02)" font-size="35.00" font-weight="bold">22</text>
<text transform="translate(164.50,240.70) scale(1,1.02)" font-size="28.10">[M+Na]</text>
<text transform="translate(255.05,233.00) scale(1,1.02)" font-size="19.50">+</text>
<text transform="translate(275.85,240.70) scale(1,1.02)" font-size="27.59">= 346.</text>
<path d="M763,0L583,0L583,1147Q518,1085 412,1023Q306,961 221,930L221,1104Q372,1175 485,1276Q598,1377 645,1472L763,1472Z" transform="translate(353.33,240.70) scale(0.01347,-0.01315)"/>
<text transform="translate(368.67,240.70) scale(1,1.02)" font-size="27.59">6</text>
<text transform="translate(405.00,240.50) scale(1,1.02)" font-size="28.10">[M+Na]</text>
<text transform="translate(495.55,232.80) scale(1,1.02)" font-size="19.50">+</text>
<text transform="translate(516.35,240.50) scale(1,1.02)" font-size="27.61">= 330.</text>
<path d="M763,0L583,0L583,1147Q518,1085 412,1023Q306,961 221,930L221,1104Q372,1175 485,1276Q598,1377 645,1472L763,1472Z" transform="translate(593.90,240.50) scale(0.01348,-0.01316)"/>
<text transform="translate(609.26,240.50) scale(1,1.02)" font-size="27.61">6</text>
<text transform="translate(647.10,240.50) scale(1,1.02)" font-size="28.10">[M+Na]</text>
<text transform="translate(737.65,232.80) scale(1,1.02)" font-size="19.50">+</text>
<text transform="translate(758.45,240.50) scale(1,1.02)" font-size="27.66">= 360.</text>
<path d="M763,0L583,0L583,1147Q518,1085 412,1023Q306,961 221,930L221,1104Q372,1175 485,1276Q598,1377 645,1472L763,1472Z" transform="translate(836.12,240.50) scale(0.01351,-0.01319)"/>
<text transform="translate(851.51,240.50) scale(1,1.02)" font-size="27.66">7</text>
<text transform="translate(888.20,240.50) scale(1,1.02)" font-size="28.10">[M+Na]</text>
<text transform="translate(978.75,232.80) scale(1,1.02)" font-size="19.50">+</text>
<text transform="translate(999.55,240.50) scale(1,1.02)" font-size="27.59">= 36</text>
<path d="M763,0L583,0L583,1147Q518,1085 412,1023Q306,961 221,930L221,1104Q372,1175 485,1276Q598,1377 645,1472L763,1472Z" transform="translate(1054.01,240.50) scale(0.01347,-0.01315)"/>
<text transform="translate(1069.35,240.50) scale(1,1.02)" font-size="27.59">.</text>
<path d="M763,0L583,0L583,1147Q518,1085 412,1023Q306,961 221,930L221,1104Q372,1175 485,1276Q598,1377 645,1472L763,1472Z" transform="translate(1077.02,240.50) scale(0.01347,-0.01315)"/>
<text transform="translate(1092.36,240.50) scale(1,1.02)" font-size="27.59">8</text>
<text transform="translate(243.70,508.00) scale(1,1.02)" font-size="28.10">[M+Na]</text>
<text transform="translate(334.25,500.30) scale(1,1.02)" font-size="19.50">+</text>
<text transform="translate(355.04,508.00) scale(1,1.02)" font-size="27.80">= 349.</text>
<path d="M763,0L583,0L583,1147Q518,1085 412,1023Q306,961 221,930L221,1104Q372,1175 485,1276Q598,1377 645,1472L763,1472Z" transform="translate(433.10,508.00) scale(0.01357,-0.01325)"/>
<text transform="translate(448.56,508.00) scale(1,1.02)" font-size="27.80">6</text>
<text transform="translate(497.00,508.00) scale(1,1.02)" font-size="28.10">[M+Na]</text>
<text transform="translate(587.55,500.30) scale(1,1.02)" font-size="19.50">+</text>
<text transform="translate(608.34,508.00) scale(1,1.02)" font-size="27.91">= 348.</text>
<path d="M763,0L583,0L583,1147Q518,1085 412,1023Q306,961 221,930L221,1104Q372,1175 485,1276Q598,1377 645,1472L763,1472Z" transform="translate(686.72,508.00) scale(0.01363,-0.01331)"/>
<text transform="translate(702.25,508.00) scale(1,1.02)" font-size="27.91">5</text>
<text transform="translate(752.60,508.30) scale(1,1.02)" font-size="28.10">[M+Na]</text>
<text transform="translate(843.15,500.60) scale(1,1.02)" font-size="19.50">+</text>
<text transform="translate(863.95,508.30) scale(1,1.02)" font-size="27.65">= 348.</text>
<path d="M763,0L583,0L583,1147Q518,1085 412,1023Q306,961 221,930L221,1104Q372,1175 485,1276Q598,1377 645,1472L763,1472Z" transform="translate(941.60,508.30) scale(0.01350,-0.01318)"/>
<text transform="translate(956.98,508.30) scale(1,1.02)" font-size="27.65">5</text>
<text transform="translate(164.50,776.00) scale(1,1.02)" font-size="28.10">[M+Na]</text>
<text transform="translate(255.05,768.30) scale(1,1.02)" font-size="19.50">+</text>
<text transform="translate(275.85,776.00) scale(1,1.02)" font-size="27.59">= 348.</text>
<path d="M763,0L583,0L583,1147Q518,1085 412,1023Q306,961 221,930L221,1104Q372,1175 485,1276Q598,1377 645,1472L763,1472Z" transform="translate(353.33,776.00) scale(0.01347,-0.01315)"/>
<text transform="translate(368.67,776.00) scale(1,1.02)" font-size="27.59">6</text>
<text transform="translate(416.20,776.00) scale(1,1.02)" font-size="28.10">[M+Na]</text>
<text transform="translate(506.75,768.30) scale(1,1.02)" font-size="19.50">+</text>
<text transform="translate(527.55,776.00) scale(1,1.02)" font-size="27.59">= 348.</text>
<path d="M763,0L583,0L583,1147Q518,1085 412,1023Q306,961 221,930L221,1104Q372,1175 485,1276Q598,1377 645,1472L763,1472Z" transform="translate(605.03,776.00) scale(0.01347,-0.01315)"/>
<text transform="translate(620.37,776.00) scale(1,1.02)" font-size="27.59">6</text>
<line x1="21.70" y1="1102.40" x2="357.00" y2="1102.40" stroke="#A8A8A8" stroke-width="1.8" stroke-linecap="butt" />
<line x1="22.30" y1="1101.50" x2="22.30" y2="1107.40" stroke="#A8A8A8" stroke-width="1.8" stroke-linecap="butt" />
<path d="M763,0L583,0L583,1147Q518,1085 412,1023Q306,961 221,930L221,1104Q372,1175 485,1276Q598,1377 645,1472L763,1472Z" transform="translate(10.46,1132.80) scale(0.01064,-0.01039)"/>
<text transform="translate(22.58,1132.80) scale(1,1.02)" font-size="21.80">5</text>
<line x1="66.90" y1="1101.50" x2="66.90" y2="1107.40" stroke="#A8A8A8" stroke-width="1.8" stroke-linecap="butt" />
<path d="M763,0L583,0L583,1147Q518,1085 412,1023Q306,961 221,930L221,1104Q372,1175 485,1276Q598,1377 645,1472L763,1472Z" transform="translate(55.08,1132.80) scale(0.01064,-0.01039)"/>
<text transform="translate(67.20,1132.80) scale(1,1.02)" font-size="21.80">6</text>
<line x1="111.50" y1="1101.50" x2="111.50" y2="1107.40" stroke="#A8A8A8" stroke-width="1.8" stroke-linecap="butt" />
<path d="M763,0L583,0L583,1147Q518,1085 412,1023Q306,961 221,930L221,1104Q372,1175 485,1276Q598,1377 645,1472L763,1472Z" transform="translate(99.75,1132.80) scale(0.01064,-0.01039)"/>
<text transform="translate(111.87,1132.80) scale(1,1.02)" font-size="21.80">7</text>
<line x1="156.10" y1="1101.50" x2="156.10" y2="1107.40" stroke="#A8A8A8" stroke-width="1.8" stroke-linecap="butt" />
<path d="M763,0L583,0L583,1147Q518,1085 412,1023Q306,961 221,930L221,1104Q372,1175 485,1276Q598,1377 645,1472L763,1472Z" transform="translate(144.27,1132.80) scale(0.01064,-0.01039)"/>
<text transform="translate(156.40,1132.80) scale(1,1.02)" font-size="21.80">8</text>
<line x1="200.70" y1="1101.50" x2="200.70" y2="1107.40" stroke="#A8A8A8" stroke-width="1.8" stroke-linecap="butt" />
<path d="M763,0L583,0L583,1147Q518,1085 412,1023Q306,961 221,930L221,1104Q372,1175 485,1276Q598,1377 645,1472L763,1472Z" transform="translate(188.92,1132.80) scale(0.01064,-0.01039)"/>
<text transform="translate(201.04,1132.80) scale(1,1.02)" font-size="21.80">9</text>
<line x1="245.30" y1="1101.50" x2="245.30" y2="1107.40" stroke="#A8A8A8" stroke-width="1.8" stroke-linecap="butt" />
<text transform="translate(234.05,1132.80) scale(1,1.02)" font-size="21.80">20</text>
<line x1="289.90" y1="1101.50" x2="289.90" y2="1107.40" stroke="#A8A8A8" stroke-width="1.8" stroke-linecap="butt" />
<text transform="translate(280.23,1132.80) scale(1,1.02)" font-size="21.80">2</text>
<path d="M763,0L583,0L583,1147Q518,1085 412,1023Q306,961 221,930L221,1104Q372,1175 485,1276Q598,1377 645,1472L763,1472Z" transform="translate(292.35,1132.80) scale(0.01064,-0.01039)"/>
<line x1="334.50" y1="1101.50" x2="334.50" y2="1107.40" stroke="#A8A8A8" stroke-width="1.8" stroke-linecap="butt" />
<text transform="translate(323.38,1132.80) scale(1,1.02)" font-size="21.80">22</text>
<path d="M21.5,923.20 L22.5,923.20 L23.5,923.20 L24.5,923.20 L25.5,923.20 L26.5,923.20 L27.5,923.20 L28.5,923.20 L29.5,923.20 L30.5,923.20 L31.5,923.20 L32.5,923.20 L33.5,923.20 L34.5,923.20 L35.5,923.20 L36.5,923.20 L37.5,923.20 L38.5,923.20 L39.5,923.20 L40.5,923.20 L41.5,923.20 L42.5,923.20 L43.5,923.20 L44.5,923.20 L45.5,923.20 L46.5,923.20 L47.5,923.20 L48.5,923.20 L49.5,923.20 L50.5,923.20 L51.5,923.20 L52.5,923.20 L53.5,923.19 L54.5,923.19 L55.5,923.18 L56.5,923.16 L57.5,923.14 L58.5,923.10 L59.5,923.03 L60.5,922.94 L61.5,922.80 L62.5,922.60 L63.5,922.32 L64.5,921.93 L65.5,921.41 L66.5,920.74 L67.5,919.89 L68.5,918.84 L69.5,917.58 L70.5,916.11 L71.5,914.45 L72.5,912.63 L73.5,910.70 L74.5,908.74 L75.5,906.83 L76.5,905.07 L77.5,903.54 L78.5,902.35 L79.5,901.56 L80.5,901.21 L81.5,901.47 L82.5,902.12 L83.5,902.96 L84.5,903.92 L85.5,904.97 L86.5,906.06 L87.5,907.18 L88.5,908.31 L89.5,909.42 L90.5,910.51 L91.5,911.56 L92.5,912.57 L93.5,913.53 L94.5,914.44 L95.5,915.29 L96.5,916.08 L97.5,916.81 L98.5,917.49 L99.5,918.12 L100.5,918.68 L101.5,919.20 L102.5,919.67 L103.5,920.09 L104.5,920.47 L105.5,920.81 L106.5,921.11 L107.5,921.38 L108.5,921.62 L109.5,921.83 L110.5,922.02 L111.5,922.18 L112.5,922.33 L113.5,922.45 L114.5,922.56 L115.5,922.65 L116.5,922.73 L117.5,922.80 L118.5,922.86 L119.5,922.92 L120.5,922.96 L121.5,923.00 L122.5,923.03 L123.5,923.06 L124.5,923.08 L125.5,923.10 L126.5,923.12 L127.5,923.13 L128.5,923.14 L129.5,923.15 L130.5,923.16 L131.5,923.17 L132.5,923.17 L133.5,923.18 L134.5,923.18 L135.5,923.19 L136.5,923.19 L137.5,923.19 L138.5,923.19 L139.5,923.19 L140.5,923.19 L141.5,923.20 L142.5,923.20 L143.5,923.20 L144.5,923.20 L145.5,923.20 L146.5,923.20 L147.5,923.20 L148.5,923.20 L149.5,923.20 L150.5,923.20 L151.5,923.20 L152.5,923.20 L153.5,923.20 L154.5,923.20 L155.5,923.20 L156.5,923.20 L157.5,923.20 L158.5,923.20 L159.5,923.20 L160.5,923.20 L161.5,923.20 L162.5,923.20 L163.5,923.20 L164.5,923.20 L165.5,923.20 L166.5,923.20 L167.5,923.20 L168.5,923.20 L169.5,923.20 L170.5,923.20 L171.5,923.20 L172.5,923.20 L173.5,923.20 L174.5,923.20 L175.5,923.20 L176.5,923.20 L177.5,923.20 L178.5,923.20 L179.5,923.20 L180.5,923.20 L181.5,923.20 L182.5,923.20 L183.5,923.20 L184.5,923.20 L185.5,923.20 L186.5,923.20 L187.5,923.20 L188.5,923.20 L189.5,923.20 L190.5,923.20 L191.5,923.20 L192.5,923.20 L193.5,923.20 L194.5,923.20 L195.5,923.20 L196.5,923.20 L197.5,923.20 L198.5,923.20 L199.5,923.20 L200.5,923.20 L201.5,923.20 L202.5,923.20 L203.5,923.20 L204.5,923.20 L205.5,923.20 L206.5,923.20 L207.5,923.20 L208.5,923.20 L209.5,923.20 L210.5,923.20 L211.5,923.20 L212.5,923.20 L213.5,923.20 L214.5,923.20 L215.5,923.20 L216.5,923.20 L217.5,923.20 L218.5,923.20 L219.5,923.20 L220.5,923.20 L221.5,923.20 L222.5,923.20 L223.5,923.20 L224.5,923.20 L225.5,923.20 L226.5,923.20 L227.5,923.20 L228.5,923.20 L229.5,923.20 L230.5,923.20 L231.5,923.20 L232.5,923.20 L233.5,923.20 L234.5,923.20 L235.5,923.20 L236.5,923.20 L237.5,923.20 L238.5,923.20 L239.5,923.20 L240.5,923.20 L241.5,923.20 L242.5,923.20 L243.5,923.20 L244.5,923.20 L245.5,923.20 L246.5,923.20 L247.5,923.20 L248.5,923.20 L249.5,923.20 L250.5,923.20 L251.5,923.20 L252.5,923.20 L253.5,923.20 L254.5,923.20 L255.5,923.20 L256.5,923.20 L257.5,923.20 L258.5,923.20 L259.5,923.20 L260.5,923.20 L261.5,923.20 L262.5,923.20 L263.5,923.20 L264.5,923.20 L265.5,923.20 L266.5,923.20 L267.5,923.20 L268.5,923.20 L269.5,923.20 L270.5,923.20 L271.5,923.20 L272.5,923.20 L273.5,923.20 L274.5,923.20 L275.5,923.20 L276.5,923.20 L277.5,923.20 L278.5,923.20 L279.5,923.20 L280.5,923.20 L281.5,923.20 L282.5,923.20 L283.5,923.20 L284.5,923.20 L285.5,923.20 L286.5,923.20 L287.5,923.20 L288.5,923.20 L289.5,923.20 L290.5,923.20 L291.5,923.20 L292.5,923.20 L293.5,923.20 L294.5,923.20 L295.5,923.20 L296.5,923.20 L297.5,923.20 L298.5,923.20 L299.5,923.20 L300.5,923.20 L301.5,923.20 L302.5,923.20 L303.5,923.20 L304.5,923.20 L305.5,923.20 L306.5,923.20 L307.5,923.20 L308.5,923.20 L309.5,923.20 L310.5,923.20 L311.5,923.20 L312.5,923.20 L313.5,923.20 L314.5,923.20 L315.5,923.20 L316.5,923.20 L317.5,923.20 L318.5,923.20 L319.5,923.20 L320.5,923.20 L321.5,923.20 L322.5,923.20 L323.5,923.20 L324.5,923.20 L325.5,923.20 L326.5,923.20 L327.5,923.20 L328.5,923.20 L329.5,923.20 L330.5,923.20 L331.5,923.20 L332.5,923.20 L333.5,923.20 L334.5,923.20 L335.5,923.20 L336.5,923.20 L337.5,923.20 L338.5,923.20 L339.5,923.20 L340.5,923.20 L341.5,923.20 L342.5,923.20 L343.5,923.20 L344.5,923.20 L345.5,923.20 L346.5,923.20 L347.5,923.20 L348.5,923.20 L349.5,923.20 L350.5,923.20 L351.5,923.20 L352.5,923.20 L353.5,923.20 L354.5,923.20 L355.5,923.20 L356.5,923.20" fill="none" stroke="#BA4240" stroke-width="3.2" stroke-linejoin="round" stroke-linecap="round" />
<path d="M21.5,980.77 L22.5,980.76 L23.5,980.75 L24.5,980.74 L25.5,980.73 L26.5,980.71 L27.5,980.69 L28.5,980.67 L29.5,980.64 L30.5,980.61 L31.5,980.57 L32.5,980.53 L33.5,980.48 L34.5,980.43 L35.5,980.37 L36.5,980.31 L37.5,980.24 L38.5,980.17 L39.5,980.10 L40.5,980.02 L41.5,979.94 L42.5,979.86 L43.5,979.78 L44.5,979.71 L45.5,979.63 L46.5,979.56 L47.5,979.50 L48.5,979.44 L49.5,979.39 L50.5,979.35 L51.5,979.32 L52.5,979.31 L53.5,979.30 L54.5,979.31 L55.5,979.32 L56.5,979.35 L57.5,979.39 L58.5,979.44 L59.5,979.49 L60.5,979.56 L61.5,979.63 L62.5,979.70 L63.5,979.78 L64.5,979.86 L65.5,979.94 L66.5,980.02 L67.5,980.10 L68.5,980.17 L69.5,980.24 L70.5,980.31 L71.5,980.37 L72.5,980.43 L73.5,980.48 L74.5,980.53 L75.5,980.57 L76.5,980.61 L77.5,980.64 L78.5,980.67 L79.5,980.69 L80.5,980.71 L81.5,980.73 L82.5,980.74 L83.5,980.75 L84.5,980.76 L85.5,980.77 L86.5,980.78 L87.5,980.78 L88.5,980.79 L89.5,980.79 L90.5,980.79 L91.5,980.79 L92.5,980.79 L93.5,980.79 L94.5,980.78 L95.5,980.77 L96.5,980.76 L97.5,980.74 L98.5,980.70 L99.5,980.65 L100.5,980.58 L101.5,980.48 L102.5,980.33 L103.5,980.13 L104.5,979.85 L105.5,979.48 L106.5,979.00 L107.5,978.38 L108.5,977.59 L109.5,976.62 L110.5,975.42 L111.5,973.98 L112.5,972.29 L113.5,970.33 L114.5,968.10 L115.5,965.61 L116.5,962.89 L117.5,959.97 L118.5,956.90 L119.5,953.74 L120.5,950.57 L121.5,947.45 L122.5,944.47 L123.5,941.71 L124.5,939.25 L125.5,937.13 L126.5,935.42 L127.5,934.14 L128.5,933.29 L129.5,932.87 L130.5,932.94 L131.5,933.96 L132.5,935.31 L133.5,936.83 L134.5,938.48 L135.5,940.19 L136.5,941.95 L137.5,943.73 L138.5,945.50 L139.5,947.26 L140.5,949.00 L141.5,950.71 L142.5,952.37 L143.5,953.98 L144.5,955.54 L145.5,957.05 L146.5,958.50 L147.5,959.88 L148.5,961.21 L149.5,962.48 L150.5,963.69 L151.5,964.83 L152.5,965.92 L153.5,966.94 L154.5,967.92 L155.5,968.83 L156.5,969.69 L157.5,970.50 L158.5,971.26 L159.5,971.97 L160.5,972.64 L161.5,973.27 L162.5,973.85 L163.5,974.39 L164.5,974.90 L165.5,975.37 L166.5,975.80 L167.5,976.21 L168.5,976.58 L169.5,976.93 L170.5,977.25 L171.5,977.55 L172.5,977.83 L173.5,978.08 L174.5,978.31 L175.5,978.53 L176.5,978.73 L177.5,978.91 L178.5,979.08 L179.5,979.23 L180.5,979.37 L181.5,979.50 L182.5,979.62 L183.5,979.73 L184.5,979.83 L185.5,979.92 L186.5,980.00 L187.5,980.07 L188.5,980.14 L189.5,980.20 L190.5,980.26 L191.5,980.31 L192.5,980.36 L193.5,980.40 L194.5,980.44 L195.5,980.48 L196.5,980.51 L197.5,980.54 L198.5,980.56 L199.5,980.59 L200.5,980.61 L201.5,980.63 L202.5,980.65 L203.5,980.66 L204.5,980.68 L205.5,980.69 L206.5,980.70 L207.5,980.71 L208.5,980.72 L209.5,980.73 L210.5,980.74 L211.5,980.74 L212.5,980.75 L213.5,980.75 L214.5,980.76 L215.5,980.76 L216.5,980.77 L217.5,980.77 L218.5,980.77 L219.5,980.78 L220.5,980.78 L221.5,980.78 L222.5,980.78 L223.5,980.79 L224.5,980.79 L225.5,980.79 L226.5,980.79 L227.5,980.79 L228.5,980.79 L229.5,980.79 L230.5,980.79 L231.5,980.79 L232.5,980.79 L233.5,980.80 L234.5,980.80 L235.5,980.80 L236.5,980.80 L237.5,980.80 L238.5,980.80 L239.5,980.80 L240.5,980.80 L241.5,980.80 L242.5,980.80 L243.5,980.80 L244.5,980.80 L245.5,980.80 L246.5,980.80 L247.5,980.80 L248.5,980.80 L249.5,980.80 L250.5,980.80 L251.5,980.80 L252.5,980.80 L253.5,980.80 L254.5,980.80 L255.5,980.80 L256.5,980.80 L257.5,980.80 L258.5,980.80 L259.5,980.80 L260.5,980.80 L261.5,980.80 L262.5,980.80 L263.5,980.80 L264.5,980.80 L265.5,980.80 L266.5,980.80 L267.5,980.80 L268.5,980.80 L269.5,980.80 L270.5,980.80 L271.5,980.80 L272.5,980.80 L273.5,980.80 L274.5,980.80 L275.5,980.80 L276.5,980.80 L277.5,980.80 L278.5,980.80 L279.5,980.80 L280.5,980.80 L281.5,980.80 L282.5,980.80 L283.5,980.80 L284.5,980.80 L285.5,980.80 L286.5,980.80 L287.5,980.80 L288.5,980.80 L289.5,980.80 L290.5,980.80 L291.5,980.80 L292.5,980.80 L293.5,980.80 L294.5,980.80 L295.5,980.80 L296.5,980.80 L297.5,980.80 L298.5,980.80 L299.5,980.80 L300.5,980.80 L301.5,980.80 L302.5,980.80 L303.5,980.80 L304.5,980.80 L305.5,980.80 L306.5,980.80 L307.5,980.80 L308.5,980.80 L309.5,980.80 L310.5,980.80 L311.5,980.80 L312.5,980.80 L313.5,980.80 L314.5,980.80 L315.5,980.80 L316.5,980.80 L317.5,980.80 L318.5,980.80 L319.5,980.80 L320.5,980.80 L321.5,980.80 L322.5,980.80 L323.5,980.80 L324.5,980.80 L325.5,980.80 L326.5,980.80 L327.5,980.80 L328.5,980.80 L329.5,980.80 L330.5,980.80 L331.5,980.80 L332.5,980.80 L333.5,980.80 L334.5,980.80 L335.5,980.80 L336.5,980.80 L337.5,980.80 L338.5,980.80 L339.5,980.80 L340.5,980.80 L341.5,980.80 L342.5,980.80 L343.5,980.80 L344.5,980.80 L345.5,980.80 L346.5,980.80 L347.5,980.80 L348.5,980.80 L349.5,980.80 L350.5,980.80 L351.5,980.80 L352.5,980.80 L353.5,980.80 L354.5,980.80 L355.5,980.80 L356.5,980.80" fill="none" stroke="#3A72B6" stroke-width="3.2" stroke-linejoin="round" stroke-linecap="round" />
<path d="M21.5,1039.30 L22.5,1039.30 L23.5,1039.30 L24.5,1039.30 L25.5,1039.30 L26.5,1039.30 L27.5,1039.30 L28.5,1039.30 L29.5,1039.30 L30.5,1039.30 L31.5,1039.30 L32.5,1039.30 L33.5,1039.30 L34.5,1039.30 L35.5,1039.30 L36.5,1039.30 L37.5,1039.30 L38.5,1039.30 L39.5,1039.30 L40.5,1039.30 L41.5,1039.30 L42.5,1039.30 L43.5,1039.30 L44.5,1039.30 L45.5,1039.30 L46.5,1039.30 L47.5,1039.30 L48.5,1039.30 L49.5,1039.30 L50.5,1039.30 L51.5,1039.30 L52.5,1039.30 L53.5,1039.30 L54.5,1039.30 L55.5,1039.30 L56.5,1039.29 L57.5,1039.28 L58.5,1039.25 L59.5,1039.19 L60.5,1039.04 L61.5,1038.75 L62.5,1038.22 L63.5,1037.32 L64.5,1035.92 L65.5,1033.89 L66.5,1031.13 L67.5,1027.64 L68.5,1023.48 L69.5,1018.85 L70.5,1013.98 L71.5,1009.17 L72.5,1004.70 L73.5,1000.78 L74.5,997.59 L75.5,995.16 L76.5,993.49 L77.5,992.48 L78.5,991.98 L79.5,991.82 L80.5,991.86 L81.5,992.55 L82.5,993.62 L83.5,994.93 L84.5,996.42 L85.5,998.04 L86.5,999.75 L87.5,1001.53 L88.5,1003.34 L89.5,1005.17 L90.5,1007.01 L91.5,1008.83 L92.5,1010.62 L93.5,1012.38 L94.5,1014.09 L95.5,1015.74 L96.5,1017.34 L97.5,1018.88 L98.5,1020.34 L99.5,1021.74 L100.5,1023.07 L101.5,1024.33 L102.5,1025.52 L103.5,1026.63 L104.5,1027.68 L105.5,1028.66 L106.5,1029.57 L107.5,1030.43 L108.5,1031.22 L109.5,1031.95 L110.5,1032.62 L111.5,1033.25 L112.5,1033.82 L113.5,1034.35 L114.5,1034.84 L115.5,1035.28 L116.5,1035.68 L117.5,1036.05 L118.5,1036.39 L119.5,1036.69 L120.5,1036.97 L121.5,1037.22 L122.5,1037.44 L123.5,1037.64 L124.5,1037.83 L125.5,1037.99 L126.5,1038.14 L127.5,1038.27 L128.5,1038.39 L129.5,1038.50 L130.5,1038.59 L131.5,1038.67 L132.5,1038.75 L133.5,1038.82 L134.5,1038.87 L135.5,1038.93 L136.5,1038.97 L137.5,1039.01 L138.5,1039.05 L139.5,1039.08 L140.5,1039.11 L141.5,1039.13 L142.5,1039.16 L143.5,1039.17 L144.5,1039.19 L145.5,1039.21 L146.5,1039.22 L147.5,1039.23 L148.5,1039.24 L149.5,1039.25 L150.5,1039.25 L151.5,1039.26 L152.5,1039.27 L153.5,1039.27 L154.5,1039.28 L155.5,1039.28 L156.5,1039.28 L157.5,1039.28 L158.5,1039.29 L159.5,1039.29 L160.5,1039.29 L161.5,1039.29 L162.5,1039.29 L163.5,1039.29 L164.5,1039.29 L165.5,1039.30 L166.5,1039.30 L167.5,1039.30 L168.5,1039.30 L169.5,1039.30 L170.5,1039.30 L171.5,1039.30 L172.5,1039.30 L173.5,1039.30 L174.5,1039.30 L175.5,1039.30 L176.5,1039.30 L177.5,1039.30 L178.5,1039.30 L179.5,1039.30 L180.5,1039.30 L181.5,1039.30 L182.5,1039.30 L183.5,1039.30 L184.5,1039.30 L185.5,1039.30 L186.5,1039.30 L187.5,1039.30 L188.5,1039.30 L189.5,1039.30 L190.5,1039.30 L191.5,1039.30 L192.5,1039.30 L193.5,1039.30 L194.5,1039.30 L195.5,1039.30 L196.5,1039.30 L197.5,1039.30 L198.5,1039.30 L199.5,1039.30 L200.5,1039.30 L201.5,1039.30 L202.5,1039.30 L203.5,1039.30 L204.5,1039.30 L205.5,1039.30 L206.5,1039.30 L207.5,1039.30 L208.5,1039.30 L209.5,1039.30 L210.5,1039.30 L211.5,1039.30 L212.5,1039.30 L213.5,1039.30 L214.5,1039.30 L215.5,1039.30 L216.5,1039.30 L217.5,1039.30 L218.5,1039.30 L219.5,1039.30 L220.5,1039.30 L221.5,1039.30 L222.5,1039.30 L223.5,1039.30 L224.5,1039.30 L225.5,1039.30 L226.5,1039.30 L227.5,1039.30 L228.5,1039.30 L229.5,1039.30 L230.5,1039.30 L231.5,1039.30 L232.5,1039.30 L233.5,1039.30 L234.5,1039.30 L235.5,1039.30 L236.5,1039.30 L237.5,1039.30 L238.5,1039.30 L239.5,1039.30 L240.5,1039.30 L241.5,1039.30 L242.5,1039.30 L243.5,1039.30 L244.5,1039.30 L245.5,1039.30 L246.5,1039.30 L247.5,1039.30 L248.5,1039.30 L249.5,1039.30 L250.5,1039.30 L251.5,1039.30 L252.5,1039.30 L253.5,1039.30 L254.5,1039.30 L255.5,1039.30 L256.5,1039.30 L257.5,1039.30 L258.5,1039.30 L259.5,1039.30 L260.5,1039.30 L261.5,1039.30 L262.5,1039.30 L263.5,1039.30 L264.5,1039.30 L265.5,1039.30 L266.5,1039.30 L267.5,1039.30 L268.5,1039.30 L269.5,1039.30 L270.5,1039.30 L271.5,1039.30 L272.5,1039.30 L273.5,1039.30 L274.5,1039.30 L275.5,1039.30 L276.5,1039.30 L277.5,1039.30 L278.5,1039.30 L279.5,1039.30 L280.5,1039.30 L281.5,1039.30 L282.5,1039.30 L283.5,1039.30 L284.5,1039.30 L285.5,1039.30 L286.5,1039.30 L287.5,1039.30 L288.5,1039.30 L289.5,1039.30 L290.5,1039.30 L291.5,1039.30 L292.5,1039.30 L293.5,1039.30 L294.5,1039.30 L295.5,1039.30 L296.5,1039.30 L297.5,1039.30 L298.5,1039.30 L299.5,1039.30 L300.5,1039.30 L301.5,1039.30 L302.5,1039.30 L303.5,1039.30 L304.5,1039.30 L305.5,1039.30 L306.5,1039.30 L307.5,1039.30 L308.5,1039.30 L309.5,1039.30 L310.5,1039.30 L311.5,1039.30 L312.5,1039.30 L313.5,1039.30 L314.5,1039.30 L315.5,1039.30 L316.5,1039.30 L317.5,1039.30 L318.5,1039.30 L319.5,1039.30 L320.5,1039.30 L321.5,1039.30 L322.5,1039.30 L323.5,1039.30 L324.5,1039.30 L325.5,1039.30 L326.5,1039.30 L327.5,1039.30 L328.5,1039.30 L329.5,1039.30 L330.5,1039.30 L331.5,1039.30 L332.5,1039.30 L333.5,1039.30 L334.5,1039.30 L335.5,1039.30 L336.5,1039.30 L337.5,1039.30 L338.5,1039.30 L339.5,1039.30 L340.5,1039.30 L341.5,1039.30 L342.5,1039.30 L343.5,1039.30 L344.5,1039.30 L345.5,1039.30 L346.5,1039.30 L347.5,1039.30 L348.5,1039.30 L349.5,1039.30 L350.5,1039.30 L351.5,1039.30 L352.5,1039.30 L353.5,1039.30 L354.5,1039.30 L355.5,1039.30 L356.5,1039.30" fill="none" stroke="#8FB447" stroke-width="3.2" stroke-linejoin="round" stroke-linecap="round" />
<path d="M21.5,1095.50 L22.5,1095.50 L23.5,1095.50 L24.5,1095.50 L25.5,1095.50 L26.5,1095.50 L27.5,1095.50 L28.5,1095.50 L29.5,1095.50 L30.5,1095.50 L31.5,1095.50 L32.5,1095.50 L33.5,1095.50 L34.5,1095.50 L35.5,1095.50 L36.5,1095.50 L37.5,1095.50 L38.5,1095.50 L39.5,1095.50 L40.5,1095.50 L41.5,1095.50 L42.5,1095.50 L43.5,1095.50 L44.5,1095.50 L45.5,1095.50 L46.5,1095.50 L47.5,1095.50 L48.5,1095.50 L49.5,1095.50 L50.5,1095.50 L51.5,1095.50 L52.5,1095.50 L53.5,1095.50 L54.5,1095.50 L55.5,1095.50 L56.5,1095.50 L57.5,1095.50 L58.5,1095.50 L59.5,1095.50 L60.5,1095.50 L61.5,1095.50 L62.5,1095.50 L63.5,1095.50 L64.5,1095.50 L65.5,1095.50 L66.5,1095.50 L67.5,1095.50 L68.5,1095.50 L69.5,1095.50 L70.5,1095.50 L71.5,1095.50 L72.5,1095.50 L73.5,1095.50 L74.5,1095.50 L75.5,1095.50 L76.5,1095.50 L77.5,1095.50 L78.5,1095.50 L79.5,1095.50 L80.5,1095.50 L81.5,1095.50 L82.5,1095.50 L83.5,1095.50 L84.5,1095.50 L85.5,1095.50 L86.5,1095.50 L87.5,1095.50 L88.5,1095.50 L89.5,1095.50 L90.5,1095.50 L91.5,1095.50 L92.5,1095.50 L93.5,1095.50 L94.5,1095.50 L95.5,1095.50 L96.5,1095.50 L97.5,1095.50 L98.5,1095.50 L99.5,1095.50 L100.5,1095.49 L101.5,1095.48 L102.5,1095.45 L103.5,1095.41 L104.5,1095.33 L105.5,1095.19 L106.5,1094.96 L107.5,1094.60 L108.5,1094.05 L109.5,1093.27 L110.5,1092.18 L111.5,1090.73 L112.5,1088.87 L113.5,1086.58 L114.5,1083.88 L115.5,1080.79 L116.5,1077.40 L117.5,1073.80 L118.5,1070.12 L119.5,1066.49 L120.5,1063.05 L121.5,1059.91 L122.5,1057.17 L123.5,1054.88 L124.5,1053.07 L125.5,1051.73 L126.5,1050.83 L127.5,1050.30 L128.5,1050.06 L129.5,1050.00 L130.5,1050.08 L131.5,1050.40 L132.5,1050.91 L133.5,1051.58 L134.5,1052.41 L135.5,1053.36 L136.5,1054.44 L137.5,1055.62 L138.5,1056.89 L139.5,1058.23 L140.5,1059.64 L141.5,1061.10 L142.5,1062.59 L143.5,1064.11 L144.5,1065.65 L145.5,1067.18 L146.5,1068.72 L147.5,1070.24 L148.5,1071.74 L149.5,1073.21 L150.5,1074.64 L151.5,1076.03 L152.5,1077.38 L153.5,1078.68 L154.5,1079.92 L155.5,1081.11 L156.5,1082.24 L157.5,1083.31 L158.5,1084.32 L159.5,1085.28 L160.5,1086.17 L161.5,1087.01 L162.5,1087.79 L163.5,1088.52 L164.5,1089.19 L165.5,1089.81 L166.5,1090.38 L167.5,1090.91 L168.5,1091.39 L169.5,1091.83 L170.5,1092.23 L171.5,1092.59 L172.5,1092.92 L173.5,1093.22 L174.5,1093.48 L175.5,1093.72 L176.5,1093.94 L177.5,1094.13 L178.5,1094.30 L179.5,1094.45 L180.5,1094.59 L181.5,1094.71 L182.5,1094.81 L183.5,1094.90 L184.5,1094.98 L185.5,1095.06 L186.5,1095.12 L187.5,1095.17 L188.5,1095.22 L189.5,1095.26 L190.5,1095.30 L191.5,1095.33 L192.5,1095.35 L193.5,1095.37 L194.5,1095.39 L195.5,1095.41 L196.5,1095.42 L197.5,1095.44 L198.5,1095.45 L199.5,1095.46 L200.5,1095.46 L201.5,1095.47 L202.5,1095.47 L203.5,1095.48 L204.5,1095.48 L205.5,1095.49 L206.5,1095.49 L207.5,1095.49 L208.5,1095.49 L209.5,1095.49 L210.5,1095.49 L211.5,1095.50 L212.5,1095.50 L213.5,1095.50 L214.5,1095.50 L215.5,1095.50 L216.5,1095.50 L217.5,1095.50 L218.5,1095.50 L219.5,1095.50 L220.5,1095.50 L221.5,1095.50 L222.5,1095.50 L223.5,1095.50 L224.5,1095.50 L225.5,1095.50 L226.5,1095.50 L227.5,1095.50 L228.5,1095.50 L229.5,1095.50 L230.5,1095.50 L231.5,1095.50 L232.5,1095.50 L233.5,1095.50 L234.5,1095.50 L235.5,1095.50 L236.5,1095.50 L237.5,1095.50 L238.5,1095.50 L239.5,1095.50 L240.5,1095.50 L241.5,1095.50 L242.5,1095.50 L243.5,1095.50 L244.5,1095.50 L245.5,1095.50 L246.5,1095.50 L247.5,1095.50 L248.5,1095.50 L249.5,1095.50 L250.5,1095.50 L251.5,1095.50 L252.5,1095.50 L253.5,1095.50 L254.5,1095.50 L255.5,1095.50 L256.5,1095.50 L257.5,1095.50 L258.5,1095.50 L259.5,1095.50 L260.5,1095.50 L261.5,1095.50 L262.5,1095.50 L263.5,1095.50 L264.5,1095.50 L265.5,1095.50 L266.5,1095.50 L267.5,1095.50 L268.5,1095.50 L269.5,1095.50 L270.5,1095.50 L271.5,1095.50 L272.5,1095.50 L273.5,1095.50 L274.5,1095.50 L275.5,1095.50 L276.5,1095.50 L277.5,1095.50 L278.5,1095.50 L279.5,1095.50 L280.5,1095.50 L281.5,1095.50 L282.5,1095.50 L283.5,1095.50 L284.5,1095.50 L285.5,1095.50 L286.5,1095.50 L287.5,1095.50 L288.5,1095.50 L289.5,1095.50 L290.5,1095.50 L291.5,1095.50 L292.5,1095.50 L293.5,1095.50 L294.5,1095.50 L295.5,1095.50 L296.5,1095.50 L297.5,1095.50 L298.5,1095.50 L299.5,1095.50 L300.5,1095.50 L301.5,1095.50 L302.5,1095.50 L303.5,1095.50 L304.5,1095.50 L305.5,1095.50 L306.5,1095.50 L307.5,1095.50 L308.5,1095.50 L309.5,1095.50 L310.5,1095.50 L311.5,1095.50 L312.5,1095.50 L313.5,1095.50 L314.5,1095.50 L315.5,1095.50 L316.5,1095.50 L317.5,1095.50 L318.5,1095.50 L319.5,1095.50 L320.5,1095.50 L321.5,1095.50 L322.5,1095.50 L323.5,1095.50 L324.5,1095.50 L325.5,1095.50 L326.5,1095.50 L327.5,1095.50 L328.5,1095.50 L329.5,1095.50 L330.5,1095.50 L331.5,1095.50 L332.5,1095.50 L333.5,1095.50 L334.5,1095.50 L335.5,1095.50 L336.5,1095.50 L337.5,1095.50 L338.5,1095.50 L339.5,1095.50 L340.5,1095.50 L341.5,1095.50 L342.5,1095.50 L343.5,1095.50 L344.5,1095.50 L345.5,1095.50 L346.5,1095.50 L347.5,1095.50 L348.5,1095.50 L349.5,1095.50 L350.5,1095.50 L351.5,1095.50 L352.5,1095.50 L353.5,1095.50 L354.5,1095.50 L355.5,1095.50 L356.5,1095.50" fill="none" stroke="#74569B" stroke-width="3.2" stroke-linejoin="round" stroke-linecap="round" />
<line x1="82.90" y1="877.00" x2="82.90" y2="1040.00" stroke="#001A5A" stroke-width="3.6" stroke-linecap="butt" stroke-dasharray="13.9 10.8"/>
<line x1="127.40" y1="907.00" x2="127.40" y2="1101.00" stroke="#C20000" stroke-width="3.6" stroke-linecap="butt" stroke-dasharray="13.9 10.8"/>
<text transform="translate(12.96,849.00) scale(1,1.02)" font-size="47.00" font-weight="bold">B</text>
<text transform="translate(58.96,842.00) scale(1,1.02)" font-size="32.16">Paromamine (</text>
<path d="M856,0L575,0L575,1059Q421,915 212,846L212,1101Q322,1137 451,1238Q580,1339 628,1472L856,1472Z" transform="translate(260.90,842.00) scale(0.01570,-0.01533)"/>
<text transform="translate(278.79,842.00) scale(1,1.02)" font-size="32.16">)</text>
<text transform="translate(189.54,910.20) scale(1,1.02)" font-size="26.20">with AprD4/D3</text>
<text transform="translate(189.54,969.90) scale(1,1.02)" font-size="26.20">with AprD4/D3</text>
<text transform="translate(188.97,1025.20) scale(1,1.02)" font-size="26.20">standard of </text>
<path d="M856,0L575,0L575,1059Q421,915 212,846L212,1101Q322,1137 451,1238Q580,1339 628,1472L856,1472Z" transform="translate(327.34,1025.20) scale(0.01279,-0.01249)"/>
<text transform="translate(188.97,1084.70) scale(1,1.02)" font-size="26.20">standard of </text>
<text transform="translate(327.34,1084.70) scale(1,1.02)" font-size="26.20" font-weight="bold">4</text>
<text transform="translate(368.34,932.40) scale(1,1.02)" font-size="30.07">(a) EIC: 346.</text>
<path d="M763,0L583,0L583,1147Q518,1085 412,1023Q306,961 221,930L221,1104Q372,1175 485,1276Q598,1377 645,1472L763,1472Z" transform="translate(538.80,932.40) scale(0.01468,-0.01434)"/>
<text transform="translate(555.52,932.40) scale(1,1.02)" font-size="30.07">6</text>
<text transform="translate(368.34,985.20) scale(1,1.02)" font-size="30.07">(b) EIC: 330.</text>
<path d="M763,0L583,0L583,1147Q518,1085 412,1023Q306,961 221,930L221,1104Q372,1175 485,1276Q598,1377 645,1472L763,1472Z" transform="translate(538.80,985.20) scale(0.01468,-0.01434)"/>
<text transform="translate(555.52,985.20) scale(1,1.02)" font-size="30.07">6</text>
<text transform="translate(368.34,1041.90) scale(1,1.02)" font-size="30.07">(c) EIC: 346.</text>
<path d="M763,0L583,0L583,1147Q518,1085 412,1023Q306,961 221,930L221,1104Q372,1175 485,1276Q598,1377 645,1472L763,1472Z" transform="translate(537.11,1041.90) scale(0.01468,-0.01434)"/>
<text transform="translate(553.84,1041.90) scale(1,1.02)" font-size="30.07">6</text>
<text transform="translate(368.34,1094.30) scale(1,1.02)" font-size="30.07">(d) EIC: 330.</text>
<path d="M763,0L583,0L583,1147Q518,1085 412,1023Q306,961 221,930L221,1104Q372,1175 485,1276Q598,1377 645,1472L763,1472Z" transform="translate(538.80,1094.30) scale(0.01468,-0.01434)"/>
<text transform="translate(555.52,1094.30) scale(1,1.02)" font-size="30.07">6</text>
<text transform="translate(369.01,1138.20) scale(1,1.02)" font-size="26.10">Time (min)</text>
<line x1="630.90" y1="1099.60" x2="966.00" y2="1099.60" stroke="#A8A8A8" stroke-width="1.8" stroke-linecap="butt" />
<line x1="631.90" y1="1098.70" x2="631.90" y2="1104.60" stroke="#A8A8A8" stroke-width="1.8" stroke-linecap="butt" />
<path d="M763,0L583,0L583,1147Q518,1085 412,1023Q306,961 221,930L221,1104Q372,1175 485,1276Q598,1377 645,1472L763,1472Z" transform="translate(620.06,1132.10) scale(0.01064,-0.01039)"/>
<text transform="translate(632.18,1132.10) scale(1,1.02)" font-size="21.80">5</text>
<line x1="676.34" y1="1098.70" x2="676.34" y2="1104.60" stroke="#A8A8A8" stroke-width="1.8" stroke-linecap="butt" />
<path d="M763,0L583,0L583,1147Q518,1085 412,1023Q306,961 221,930L221,1104Q372,1175 485,1276Q598,1377 645,1472L763,1472Z" transform="translate(664.52,1132.10) scale(0.01064,-0.01039)"/>
<text transform="translate(676.64,1132.10) scale(1,1.02)" font-size="21.80">6</text>
<line x1="720.78" y1="1098.70" x2="720.78" y2="1104.60" stroke="#A8A8A8" stroke-width="1.8" stroke-linecap="butt" />
<path d="M763,0L583,0L583,1147Q518,1085 412,1023Q306,961 221,930L221,1104Q372,1175 485,1276Q598,1377 645,1472L763,1472Z" transform="translate(709.03,1132.10) scale(0.01064,-0.01039)"/>
<text transform="translate(721.15,1132.10) scale(1,1.02)" font-size="21.80">7</text>
<line x1="765.22" y1="1098.70" x2="765.22" y2="1104.60" stroke="#A8A8A8" stroke-width="1.8" stroke-linecap="butt" />
<path d="M763,0L583,0L583,1147Q518,1085 412,1023Q306,961 221,930L221,1104Q372,1175 485,1276Q598,1377 645,1472L763,1472Z" transform="translate(753.39,1132.10) scale(0.01064,-0.01039)"/>
<text transform="translate(765.52,1132.10) scale(1,1.02)" font-size="21.80">8</text>
<line x1="809.66" y1="1098.70" x2="809.66" y2="1104.60" stroke="#A8A8A8" stroke-width="1.8" stroke-linecap="butt" />
<path d="M763,0L583,0L583,1147Q518,1085 412,1023Q306,961 221,930L221,1104Q372,1175 485,1276Q598,1377 645,1472L763,1472Z" transform="translate(797.88,1132.10) scale(0.01064,-0.01039)"/>
<text transform="translate(810.00,1132.10) scale(1,1.02)" font-size="21.80">9</text>
<line x1="854.10" y1="1098.70" x2="854.10" y2="1104.60" stroke="#A8A8A8" stroke-width="1.8" stroke-linecap="butt" />
<text transform="translate(842.85,1132.10) scale(1,1.02)" font-size="21.80">20</text>
<line x1="898.54" y1="1098.70" x2="898.54" y2="1104.60" stroke="#A8A8A8" stroke-width="1.8" stroke-linecap="butt" />
<text transform="translate(888.87,1132.10) scale(1,1.02)" font-size="21.80">2</text>
<path d="M763,0L583,0L583,1147Q518,1085 412,1023Q306,961 221,930L221,1104Q372,1175 485,1276Q598,1377 645,1472L763,1472Z" transform="translate(900.99,1132.10) scale(0.01064,-0.01039)"/>
<line x1="942.98" y1="1098.70" x2="942.98" y2="1104.60" stroke="#A8A8A8" stroke-width="1.8" stroke-linecap="butt" />
<text transform="translate(931.86,1132.10) scale(1,1.02)" font-size="21.80">22</text>
<path d="M630.9,919.50 L631.9,919.50 L632.9,919.50 L633.9,919.50 L634.9,919.50 L635.9,919.50 L636.9,919.50 L637.9,919.50 L638.9,919.50 L639.9,919.50 L640.9,919.50 L641.9,919.50 L642.9,919.50 L643.9,919.50 L644.9,919.50 L645.9,919.50 L646.9,919.50 L647.9,919.50 L648.9,919.50 L649.9,919.50 L650.9,919.50 L651.9,919.50 L652.9,919.50 L653.9,919.50 L654.9,919.50 L655.9,919.50 L656.9,919.50 L657.9,919.50 L658.9,919.50 L659.9,919.50 L660.9,919.50 L661.9,919.50 L662.9,919.50 L663.9,919.50 L664.9,919.50 L665.9,919.50 L666.9,919.50 L667.9,919.50 L668.9,919.50 L669.9,919.50 L670.9,919.50 L671.9,919.50 L672.9,919.50 L673.9,919.50 L674.9,919.50 L675.9,919.50 L676.9,919.50 L677.9,919.50 L678.9,919.50 L679.9,919.50 L680.9,919.50 L681.9,919.50 L682.9,919.50 L683.9,919.50 L684.9,919.50 L685.9,919.50 L686.9,919.50 L687.9,919.50 L688.9,919.50 L689.9,919.50 L690.9,919.50 L691.9,919.50 L692.9,919.50 L693.9,919.50 L694.9,919.50 L695.9,919.50 L696.9,919.50 L697.9,919.50 L698.9,919.50 L699.9,919.50 L700.9,919.50 L701.9,919.50 L702.9,919.50 L703.9,919.50 L704.9,919.50 L705.9,919.50 L706.9,919.50 L707.9,919.50 L708.9,919.50 L709.9,919.50 L710.9,919.50 L711.9,919.50 L712.9,919.50 L713.9,919.50 L714.9,919.50 L715.9,919.50 L716.9,919.50 L717.9,919.50 L718.9,919.50 L719.9,919.50 L720.9,919.50 L721.9,919.50 L722.9,919.50 L723.9,919.50 L724.9,919.50 L725.9,919.50 L726.9,919.50 L727.9,919.50 L728.9,919.50 L729.9,919.50 L730.9,919.50 L731.9,919.50 L732.9,919.50 L733.9,919.50 L734.9,919.50 L735.9,919.50 L736.9,919.50 L737.9,919.50 L738.9,919.50 L739.9,919.50 L740.9,919.50 L741.9,919.50 L742.9,919.50 L743.9,919.50 L744.9,919.50 L745.9,919.50 L746.9,919.50 L747.9,919.50 L748.9,919.50 L749.9,919.50 L750.9,919.50 L751.9,919.50 L752.9,919.50 L753.9,919.50 L754.9,919.50 L755.9,919.50 L756.9,919.50 L757.9,919.50 L758.9,919.50 L759.9,919.50 L760.9,919.50 L761.9,919.50 L762.9,919.50 L763.9,919.50 L764.9,919.50 L765.9,919.50 L766.9,919.50 L767.9,919.50 L768.9,919.50 L769.9,919.50 L770.9,919.50 L771.9,919.50 L772.9,919.50 L773.9,919.50 L774.9,919.50 L775.9,919.50 L776.9,919.50 L777.9,919.50 L778.9,919.50 L779.9,919.50 L780.9,919.50 L781.9,919.50 L782.9,919.50 L783.9,919.50 L784.9,919.50 L785.9,919.50 L786.9,919.50 L787.9,919.50 L788.9,919.50 L789.9,919.50 L790.9,919.50 L791.9,919.50 L792.9,919.50 L793.9,919.50 L794.9,919.50 L795.9,919.50 L796.9,919.50 L797.9,919.50 L798.9,919.50 L799.9,919.50 L800.9,919.50 L801.9,919.50 L802.9,919.50 L803.9,919.50 L804.9,919.50 L805.9,919.50 L806.9,919.50 L807.9,919.50 L808.9,919.50 L809.9,919.50 L810.9,919.50 L811.9,919.50 L812.9,919.50 L813.9,919.50 L814.9,919.50 L815.9,919.50 L816.9,919.50 L817.9,919.50 L818.9,919.50 L819.9,919.50 L820.9,919.50 L821.9,919.50 L822.9,919.50 L823.9,919.50 L824.9,919.50 L825.9,919.50 L826.9,919.50 L827.9,919.50 L828.9,919.50 L829.9,919.50 L830.9,919.50 L831.9,919.50 L832.9,919.50 L833.9,919.50 L834.9,919.50 L835.9,919.50 L836.9,919.50 L837.9,919.50 L838.9,919.50 L839.9,919.50 L840.9,919.50 L841.9,919.50 L842.9,919.50 L843.9,919.50 L844.9,919.50 L845.9,919.50 L846.9,919.50 L847.9,919.50 L848.9,919.50 L849.9,919.50 L850.9,919.50 L851.9,919.50 L852.9,919.50 L853.9,919.50 L854.9,919.50 L855.9,919.50 L856.9,919.50 L857.9,919.50 L858.9,919.50 L859.9,919.50 L860.9,919.50 L861.9,919.50 L862.9,919.50 L863.9,919.50 L864.9,919.50 L865.9,919.50 L866.9,919.50 L867.9,919.50 L868.9,919.50 L869.9,919.50 L870.9,919.50 L871.9,919.50 L872.9,919.50 L873.9,919.50 L874.9,919.50 L875.9,919.50 L876.9,919.50 L877.9,919.50 L878.9,919.50 L879.9,919.50 L880.9,919.50 L881.9,919.50 L882.9,919.50 L883.9,919.50 L884.9,919.50 L885.9,919.50 L886.9,919.50 L887.9,919.50 L888.9,919.50 L889.9,919.50 L890.9,919.50 L891.9,919.50 L892.9,919.50 L893.9,919.50 L894.9,919.50 L895.9,919.50 L896.9,919.50 L897.9,919.50 L898.9,919.50 L899.9,919.50 L900.9,919.50 L901.9,919.50 L902.9,919.50 L903.9,919.50 L904.9,919.50 L905.9,919.49 L906.9,919.45 L907.9,919.31 L908.9,918.99 L909.9,918.40 L910.9,917.57 L911.9,916.69 L912.9,915.98 L913.9,915.59 L914.9,915.50 L915.9,915.71 L916.9,916.11 L917.9,916.56 L918.9,917.03 L919.9,917.47 L920.9,917.86 L921.9,918.20 L922.9,918.49 L923.9,918.71 L924.9,918.86 L925.9,918.90 L926.9,918.79 L927.9,918.54 L928.9,918.18 L929.9,917.78 L930.9,917.43 L931.9,917.11 L932.9,916.61 L933.9,915.55 L934.9,913.33 L935.9,909.26 L936.9,903.06 L937.9,895.20 L938.9,886.86 L939.9,879.54 L940.9,874.42 L941.9,871.88 L942.9,871.36 L943.9,872.21 L944.9,874.77 L945.9,878.77 L946.9,883.82 L947.9,889.41 L948.9,895.08 L949.9,900.43 L950.9,905.17 L951.9,909.14 L952.9,912.29 L953.9,914.68 L954.9,916.39 L955.9,917.57 L956.9,918.35 L957.9,918.84 L958.9,919.14 L959.9,919.31 L960.9,919.40 L961.9,919.45 L962.9,919.48 L963.9,919.49 L964.9,919.50 L965.9,919.50" fill="none" stroke="#BA4240" stroke-width="3.2" stroke-linejoin="round" stroke-linecap="round" />
<path d="M630.9,979.50 L631.9,979.50 L632.9,979.50 L633.9,979.50 L634.9,979.50 L635.9,979.50 L636.9,979.50 L637.9,979.50 L638.9,979.50 L639.9,979.50 L640.9,979.50 L641.9,979.50 L642.9,979.50 L643.9,979.50 L644.9,979.50 L645.9,979.50 L646.9,979.50 L647.9,979.50 L648.9,979.50 L649.9,979.50 L650.9,979.50 L651.9,979.50 L652.9,979.50 L653.9,979.50 L654.9,979.50 L655.9,979.50 L656.9,979.50 L657.9,979.50 L658.9,979.50 L659.9,979.50 L660.9,979.50 L661.9,979.50 L662.9,979.50 L663.9,979.50 L664.9,979.50 L665.9,979.50 L666.9,979.50 L667.9,979.50 L668.9,979.50 L669.9,979.50 L670.9,979.50 L671.9,979.50 L672.9,979.50 L673.9,979.50 L674.9,979.50 L675.9,979.50 L676.9,979.50 L677.9,979.50 L678.9,979.50 L679.9,979.50 L680.9,979.50 L681.9,979.50 L682.9,979.50 L683.9,979.50 L684.9,979.50 L685.9,979.50 L686.9,979.50 L687.9,979.50 L688.9,979.50 L689.9,979.50 L690.9,979.50 L691.9,979.50 L692.9,979.50 L693.9,979.50 L694.9,979.50 L695.9,979.50 L696.9,979.50 L697.9,979.50 L698.9,979.50 L699.9,979.50 L700.9,979.50 L701.9,979.50 L702.9,979.50 L703.9,979.50 L704.9,979.50 L705.9,979.50 L706.9,979.50 L707.9,979.50 L708.9,979.50 L709.9,979.50 L710.9,979.50 L711.9,979.50 L712.9,979.50 L713.9,979.49 L714.9,979.49 L715.9,979.48 L716.9,979.47 L717.9,979.45 L718.9,979.43 L719.9,979.40 L720.9,979.35 L721.9,979.29 L722.9,979.22 L723.9,979.14 L724.9,979.04 L725.9,978.93 L726.9,978.82 L727.9,978.69 L728.9,978.57 L729.9,978.46 L730.9,978.35 L731.9,978.25 L732.9,978.17 L733.9,978.10 L734.9,978.06 L735.9,978.02 L736.9,978.01 L737.9,978.00 L738.9,978.00 L739.9,978.03 L740.9,978.07 L741.9,978.13 L742.9,978.18 L743.9,978.24 L744.9,978.31 L745.9,978.37 L746.9,978.44 L747.9,978.50 L748.9,978.57 L749.9,978.63 L750.9,978.69 L751.9,978.75 L752.9,978.81 L753.9,978.86 L754.9,978.91 L755.9,978.96 L756.9,979.01 L757.9,979.05 L758.9,979.09 L759.9,979.13 L760.9,979.17 L761.9,979.20 L762.9,979.23 L763.9,979.26 L764.9,979.28 L765.9,979.30 L766.9,979.33 L767.9,979.34 L768.9,979.36 L769.9,979.38 L770.9,979.39 L771.9,979.40 L772.9,979.41 L773.9,979.42 L774.9,979.43 L775.9,979.44 L776.9,979.45 L777.9,979.46 L778.9,979.46 L779.9,979.47 L780.9,979.47 L781.9,979.47 L782.9,979.48 L783.9,979.48 L784.9,979.48 L785.9,979.49 L786.9,979.49 L787.9,979.49 L788.9,979.49 L789.9,979.49 L790.9,979.49 L791.9,979.49 L792.9,979.50 L793.9,979.50 L794.9,979.50 L795.9,979.50 L796.9,979.50 L797.9,979.50 L798.9,979.50 L799.9,979.50 L800.9,979.50 L801.9,979.50 L802.9,979.50 L803.9,979.50 L804.9,979.50 L805.9,979.50 L806.9,979.50 L807.9,979.50 L808.9,979.50 L809.9,979.50 L810.9,979.50 L811.9,979.50 L812.9,979.50 L813.9,979.50 L814.9,979.50 L815.9,979.50 L816.9,979.50 L817.9,979.50 L818.9,979.50 L819.9,979.50 L820.9,979.50 L821.9,979.50 L822.9,979.50 L823.9,979.50 L824.9,979.50 L825.9,979.50 L826.9,979.50 L827.9,979.50 L828.9,979.50 L829.9,979.50 L830.9,979.50 L831.9,979.50 L832.9,979.50 L833.9,979.50 L834.9,979.50 L835.9,979.50 L836.9,979.50 L837.9,979.50 L838.9,979.50 L839.9,979.50 L840.9,979.50 L841.9,979.50 L842.9,979.50 L843.9,979.50 L844.9,979.50 L845.9,979.50 L846.9,979.50 L847.9,979.50 L848.9,979.50 L849.9,979.50 L850.9,979.50 L851.9,979.50 L852.9,979.50 L853.9,979.50 L854.9,979.50 L855.9,979.50 L856.9,979.50 L857.9,979.50 L858.9,979.50 L859.9,979.50 L860.9,979.50 L861.9,979.50 L862.9,979.50 L863.9,979.50 L864.9,979.50 L865.9,979.50 L866.9,979.50 L867.9,979.50 L868.9,979.50 L869.9,979.50 L870.9,979.50 L871.9,979.50 L872.9,979.50 L873.9,979.50 L874.9,979.50 L875.9,979.50 L876.9,979.50 L877.9,979.50 L878.9,979.50 L879.9,979.50 L880.9,979.50 L881.9,979.50 L882.9,979.50 L883.9,979.50 L884.9,979.50 L885.9,979.50 L886.9,979.50 L887.9,979.50 L888.9,979.50 L889.9,979.50 L890.9,979.50 L891.9,979.50 L892.9,979.50 L893.9,979.50 L894.9,979.50 L895.9,979.50 L896.9,979.50 L897.9,979.50 L898.9,979.50 L899.9,979.50 L900.9,979.50 L901.9,979.50 L902.9,979.50 L903.9,979.50 L904.9,979.50 L905.9,979.50 L906.9,979.50 L907.9,979.50 L908.9,979.50 L909.9,979.50 L910.9,979.50 L911.9,979.50 L912.9,979.50 L913.9,979.50 L914.9,979.50 L915.9,979.50 L916.9,979.50 L917.9,979.50 L918.9,979.50 L919.9,979.50 L920.9,979.50 L921.9,979.50 L922.9,979.50 L923.9,979.50 L924.9,979.50 L925.9,979.50 L926.9,979.50 L927.9,979.50 L928.9,979.50 L929.9,979.50 L930.9,979.50 L931.9,979.50 L932.9,979.50 L933.9,979.50 L934.9,979.50 L935.9,979.50 L936.9,979.50 L937.9,979.50 L938.9,979.50 L939.9,979.50 L940.9,979.50 L941.9,979.50 L942.9,979.50 L943.9,979.50 L944.9,979.50 L945.9,979.50 L946.9,979.50 L947.9,979.50 L948.9,979.50 L949.9,979.50 L950.9,979.50 L951.9,979.50 L952.9,979.50 L953.9,979.50 L954.9,979.50 L955.9,979.50 L956.9,979.50 L957.9,979.50 L958.9,979.50 L959.9,979.50 L960.9,979.50 L961.9,979.50 L962.9,979.50 L963.9,979.50 L964.9,979.50 L965.9,979.50" fill="none" stroke="#3A72B6" stroke-width="3.2" stroke-linejoin="round" stroke-linecap="round" />
<path d="M630.9,1035.30 L631.9,1035.30 L632.9,1035.30 L633.9,1035.30 L634.9,1035.30 L635.9,1035.30 L636.9,1035.30 L637.9,1035.30 L638.9,1035.30 L639.9,1035.30 L640.9,1035.30 L641.9,1035.30 L642.9,1035.30 L643.9,1035.30 L644.9,1035.30 L645.9,1035.30 L646.9,1035.30 L647.9,1035.30 L648.9,1035.30 L649.9,1035.30 L650.9,1035.30 L651.9,1035.30 L652.9,1035.30 L653.9,1035.30 L654.9,1035.30 L655.9,1035.30 L656.9,1035.30 L657.9,1035.30 L658.9,1035.30 L659.9,1035.30 L660.9,1035.30 L661.9,1035.30 L662.9,1035.30 L663.9,1035.30 L664.9,1035.30 L665.9,1035.30 L666.9,1035.30 L667.9,1035.30 L668.9,1035.30 L669.9,1035.30 L670.9,1035.30 L671.9,1035.30 L672.9,1035.30 L673.9,1035.30 L674.9,1035.30 L675.9,1035.30 L676.9,1035.30 L677.9,1035.30 L678.9,1035.30 L679.9,1035.30 L680.9,1035.30 L681.9,1035.30 L682.9,1035.30 L683.9,1035.30 L684.9,1035.30 L685.9,1035.30 L686.9,1035.30 L687.9,1035.30 L688.9,1035.30 L689.9,1035.30 L690.9,1035.30 L691.9,1035.30 L692.9,1035.30 L693.9,1035.30 L694.9,1035.30 L695.9,1035.30 L696.9,1035.30 L697.9,1035.30 L698.9,1035.30 L699.9,1035.30 L700.9,1035.30 L701.9,1035.30 L702.9,1035.30 L703.9,1035.30 L704.9,1035.30 L705.9,1035.30 L706.9,1035.30 L707.9,1035.30 L708.9,1035.30 L709.9,1035.30 L710.9,1035.30 L711.9,1035.30 L712.9,1035.30 L713.9,1035.30 L714.9,1035.30 L715.9,1035.30 L716.9,1035.30 L717.9,1035.30 L718.9,1035.30 L719.9,1035.30 L720.9,1035.30 L721.9,1035.30 L722.9,1035.30 L723.9,1035.30 L724.9,1035.30 L725.9,1035.30 L726.9,1035.30 L727.9,1035.30 L728.9,1035.30 L729.9,1035.30 L730.9,1035.30 L731.9,1035.30 L732.9,1035.30 L733.9,1035.30 L734.9,1035.30 L735.9,1035.30 L736.9,1035.30 L737.9,1035.30 L738.9,1035.30 L739.9,1035.30 L740.9,1035.30 L741.9,1035.30 L742.9,1035.30 L743.9,1035.30 L744.9,1035.30 L745.9,1035.30 L746.9,1035.30 L747.9,1035.30 L748.9,1035.30 L749.9,1035.30 L750.9,1035.30 L751.9,1035.30 L752.9,1035.30 L753.9,1035.30 L754.9,1035.30 L755.9,1035.30 L756.9,1035.30 L757.9,1035.30 L758.9,1035.30 L759.9,1035.30 L760.9,1035.30 L761.9,1035.30 L762.9,1035.30 L763.9,1035.30 L764.9,1035.30 L765.9,1035.30 L766.9,1035.30 L767.9,1035.30 L768.9,1035.30 L769.9,1035.30 L770.9,1035.30 L771.9,1035.30 L772.9,1035.30 L773.9,1035.30 L774.9,1035.30 L775.9,1035.30 L776.9,1035.30 L777.9,1035.30 L778.9,1035.30 L779.9,1035.30 L780.9,1035.30 L781.9,1035.30 L782.9,1035.30 L783.9,1035.30 L784.9,1035.30 L785.9,1035.30 L786.9,1035.30 L787.9,1035.30 L788.9,1035.30 L789.9,1035.30 L790.9,1035.30 L791.9,1035.30 L792.9,1035.30 L793.9,1035.30 L794.9,1035.30 L795.9,1035.30 L796.9,1035.30 L797.9,1035.30 L798.9,1035.30 L799.9,1035.30 L800.9,1035.30 L801.9,1035.30 L802.9,1035.30 L803.9,1035.30 L804.9,1035.30 L805.9,1035.30 L806.9,1035.30 L807.9,1035.30 L808.9,1035.30 L809.9,1035.30 L810.9,1035.30 L811.9,1035.30 L812.9,1035.30 L813.9,1035.30 L814.9,1035.30 L815.9,1035.30 L816.9,1035.30 L817.9,1035.30 L818.9,1035.30 L819.9,1035.30 L820.9,1035.30 L821.9,1035.30 L822.9,1035.30 L823.9,1035.30 L824.9,1035.30 L825.9,1035.30 L826.9,1035.30 L827.9,1035.30 L828.9,1035.30 L829.9,1035.30 L830.9,1035.30 L831.9,1035.30 L832.9,1035.30 L833.9,1035.30 L834.9,1035.30 L835.9,1035.30 L836.9,1035.30 L837.9,1035.30 L838.9,1035.30 L839.9,1035.30 L840.9,1035.30 L841.9,1035.30 L842.9,1035.30 L843.9,1035.30 L844.9,1035.30 L845.9,1035.30 L846.9,1035.30 L847.9,1035.30 L848.9,1035.30 L849.9,1035.30 L850.9,1035.30 L851.9,1035.30 L852.9,1035.30 L853.9,1035.30 L854.9,1035.30 L855.9,1035.30 L856.9,1035.30 L857.9,1035.30 L858.9,1035.30 L859.9,1035.30 L860.9,1035.30 L861.9,1035.30 L862.9,1035.30 L863.9,1035.30 L864.9,1035.30 L865.9,1035.30 L866.9,1035.30 L867.9,1035.30 L868.9,1035.30 L869.9,1035.30 L870.9,1035.30 L871.9,1035.30 L872.9,1035.30 L873.9,1035.30 L874.9,1035.30 L875.9,1035.30 L876.9,1035.30 L877.9,1035.30 L878.9,1035.30 L879.9,1035.30 L880.9,1035.30 L881.9,1035.30 L882.9,1035.30 L883.9,1035.30 L884.9,1035.30 L885.9,1035.30 L886.9,1035.30 L887.9,1035.30 L888.9,1035.30 L889.9,1035.30 L890.9,1035.30 L891.9,1035.30 L892.9,1035.30 L893.9,1035.30 L894.9,1035.30 L895.9,1035.30 L896.9,1035.30 L897.9,1035.30 L898.9,1035.30 L899.9,1035.30 L900.9,1035.30 L901.9,1035.30 L902.9,1035.30 L903.9,1035.30 L904.9,1035.30 L905.9,1035.29 L906.9,1035.26 L907.9,1035.16 L908.9,1034.92 L909.9,1034.48 L910.9,1033.86 L911.9,1033.19 L912.9,1032.66 L913.9,1032.37 L914.9,1032.30 L915.9,1032.46 L916.9,1032.76 L917.9,1033.10 L918.9,1033.44 L919.9,1033.77 L920.9,1034.07 L921.9,1034.33 L922.9,1034.54 L923.9,1034.71 L924.9,1034.82 L925.9,1034.86 L926.9,1034.80 L927.9,1034.63 L928.9,1034.39 L929.9,1034.12 L930.9,1033.87 L931.9,1033.61 L932.9,1033.12 L933.9,1031.98 L934.9,1029.55 L935.9,1025.14 L936.9,1018.59 L937.9,1010.54 L938.9,1002.40 L939.9,995.73 L940.9,991.56 L941.9,989.94 L942.9,989.95 L943.9,991.48 L944.9,994.54 L945.9,998.82 L946.9,1003.87 L947.9,1009.25 L948.9,1014.52 L949.9,1019.35 L950.9,1023.51 L951.9,1026.92 L952.9,1029.57 L953.9,1031.53 L954.9,1032.91 L955.9,1033.85 L956.9,1034.45 L957.9,1034.82 L958.9,1035.04 L959.9,1035.16 L960.9,1035.23 L961.9,1035.27 L962.9,1035.28 L963.9,1035.29 L964.9,1035.30 L965.9,1035.30" fill="none" stroke="#8FB447" stroke-width="3.2" stroke-linejoin="round" stroke-linecap="round" />
<path d="M630.9,1095.50 L631.9,1095.50 L632.9,1095.50 L633.9,1095.50 L634.9,1095.50 L635.9,1095.50 L636.9,1095.50 L637.9,1095.50 L638.9,1095.50 L639.9,1095.50 L640.9,1095.50 L641.9,1095.50 L642.9,1095.50 L643.9,1095.50 L644.9,1095.50 L645.9,1095.50 L646.9,1095.50 L647.9,1095.50 L648.9,1095.50 L649.9,1095.50 L650.9,1095.50 L651.9,1095.50 L652.9,1095.50 L653.9,1095.50 L654.9,1095.50 L655.9,1095.50 L656.9,1095.50 L657.9,1095.50 L658.9,1095.50 L659.9,1095.50 L660.9,1095.50 L661.9,1095.50 L662.9,1095.50 L663.9,1095.50 L664.9,1095.50 L665.9,1095.50 L666.9,1095.50 L667.9,1095.50 L668.9,1095.50 L669.9,1095.50 L670.9,1095.50 L671.9,1095.50 L672.9,1095.50 L673.9,1095.50 L674.9,1095.50 L675.9,1095.50 L676.9,1095.50 L677.9,1095.50 L678.9,1095.50 L679.9,1095.50 L680.9,1095.50 L681.9,1095.50 L682.9,1095.50 L683.9,1095.50 L684.9,1095.50 L685.9,1095.50 L686.9,1095.50 L687.9,1095.50 L688.9,1095.50 L689.9,1095.50 L690.9,1095.50 L691.9,1095.50 L692.9,1095.50 L693.9,1095.50 L694.9,1095.50 L695.9,1095.50 L696.9,1095.50 L697.9,1095.50 L698.9,1095.50 L699.9,1095.50 L700.9,1095.50 L701.9,1095.50 L702.9,1095.50 L703.9,1095.50 L704.9,1095.50 L705.9,1095.50 L706.9,1095.50 L707.9,1095.50 L708.9,1095.49 L709.9,1095.48 L710.9,1095.45 L711.9,1095.40 L712.9,1095.31 L713.9,1095.16 L714.9,1094.92 L715.9,1094.53 L716.9,1093.95 L717.9,1093.11 L718.9,1091.95 L719.9,1090.41 L720.9,1088.45 L721.9,1086.04 L722.9,1083.19 L723.9,1079.96 L724.9,1076.41 L725.9,1072.66 L726.9,1068.83 L727.9,1065.07 L728.9,1061.51 L729.9,1058.28 L730.9,1055.46 L731.9,1053.11 L732.9,1051.27 L733.9,1049.92 L734.9,1049.01 L735.9,1048.49 L736.9,1048.25 L737.9,1048.20 L738.9,1048.30 L739.9,1048.62 L740.9,1049.14 L741.9,1049.81 L742.9,1050.64 L743.9,1051.59 L744.9,1052.66 L745.9,1053.84 L746.9,1055.10 L747.9,1056.44 L748.9,1057.85 L749.9,1059.31 L750.9,1060.80 L751.9,1062.33 L752.9,1063.87 L753.9,1065.43 L754.9,1066.98 L755.9,1068.52 L756.9,1070.04 L757.9,1071.54 L758.9,1073.00 L759.9,1074.43 L760.9,1075.81 L761.9,1077.15 L762.9,1078.44 L763.9,1079.68 L764.9,1080.86 L765.9,1081.99 L766.9,1083.05 L767.9,1084.06 L768.9,1085.02 L769.9,1085.91 L770.9,1086.75 L771.9,1087.53 L772.9,1088.26 L773.9,1088.94 L774.9,1089.57 L775.9,1090.15 L776.9,1090.68 L777.9,1091.17 L778.9,1091.62 L779.9,1092.03 L780.9,1092.40 L781.9,1092.74 L782.9,1093.04 L783.9,1093.32 L784.9,1093.57 L785.9,1093.80 L786.9,1094.00 L787.9,1094.18 L788.9,1094.34 L789.9,1094.49 L790.9,1094.61 L791.9,1094.73 L792.9,1094.83 L793.9,1094.91 L794.9,1094.99 L795.9,1095.06 L796.9,1095.12 L797.9,1095.17 L798.9,1095.22 L799.9,1095.26 L800.9,1095.29 L801.9,1095.32 L802.9,1095.35 L803.9,1095.37 L804.9,1095.39 L805.9,1095.41 L806.9,1095.42 L807.9,1095.43 L808.9,1095.44 L809.9,1095.45 L810.9,1095.46 L811.9,1095.47 L812.9,1095.47 L813.9,1095.48 L814.9,1095.48 L815.9,1095.48 L816.9,1095.49 L817.9,1095.49 L818.9,1095.49 L819.9,1095.49 L820.9,1095.49 L821.9,1095.49 L822.9,1095.50 L823.9,1095.50 L824.9,1095.50 L825.9,1095.50 L826.9,1095.50 L827.9,1095.50 L828.9,1095.50 L829.9,1095.50 L830.9,1095.50 L831.9,1095.50 L832.9,1095.50 L833.9,1095.50 L834.9,1095.50 L835.9,1095.50 L836.9,1095.50 L837.9,1095.50 L838.9,1095.50 L839.9,1095.50 L840.9,1095.50 L841.9,1095.50 L842.9,1095.50 L843.9,1095.50 L844.9,1095.50 L845.9,1095.50 L846.9,1095.50 L847.9,1095.50 L848.9,1095.50 L849.9,1095.50 L850.9,1095.50 L851.9,1095.50 L852.9,1095.50 L853.9,1095.50 L854.9,1095.50 L855.9,1095.50 L856.9,1095.50 L857.9,1095.50 L858.9,1095.50 L859.9,1095.50 L860.9,1095.50 L861.9,1095.50 L862.9,1095.50 L863.9,1095.50 L864.9,1095.50 L865.9,1095.50 L866.9,1095.50 L867.9,1095.50 L868.9,1095.50 L869.9,1095.50 L870.9,1095.50 L871.9,1095.50 L872.9,1095.50 L873.9,1095.50 L874.9,1095.50 L875.9,1095.50 L876.9,1095.50 L877.9,1095.50 L878.9,1095.50 L879.9,1095.50 L880.9,1095.50 L881.9,1095.50 L882.9,1095.50 L883.9,1095.50 L884.9,1095.50 L885.9,1095.50 L886.9,1095.50 L887.9,1095.50 L888.9,1095.50 L889.9,1095.50 L890.9,1095.50 L891.9,1095.50 L892.9,1095.50 L893.9,1095.50 L894.9,1095.50 L895.9,1095.50 L896.9,1095.50 L897.9,1095.50 L898.9,1095.50 L899.9,1095.50 L900.9,1095.50 L901.9,1095.50 L902.9,1095.50 L903.9,1095.50 L904.9,1095.50 L905.9,1095.50 L906.9,1095.50 L907.9,1095.50 L908.9,1095.50 L909.9,1095.50 L910.9,1095.50 L911.9,1095.50 L912.9,1095.50 L913.9,1095.50 L914.9,1095.50 L915.9,1095.50 L916.9,1095.50 L917.9,1095.50 L918.9,1095.50 L919.9,1095.50 L920.9,1095.50 L921.9,1095.50 L922.9,1095.50 L923.9,1095.50 L924.9,1095.50 L925.9,1095.50 L926.9,1095.50 L927.9,1095.50 L928.9,1095.50 L929.9,1095.50 L930.9,1095.50 L931.9,1095.50 L932.9,1095.50 L933.9,1095.50 L934.9,1095.50 L935.9,1095.50 L936.9,1095.50 L937.9,1095.50 L938.9,1095.50 L939.9,1095.50 L940.9,1095.50 L941.9,1095.50 L942.9,1095.50 L943.9,1095.50 L944.9,1095.50 L945.9,1095.50 L946.9,1095.50 L947.9,1095.50 L948.9,1095.50 L949.9,1095.50 L950.9,1095.50 L951.9,1095.50 L952.9,1095.50 L953.9,1095.50 L954.9,1095.50 L955.9,1095.50 L956.9,1095.50 L957.9,1095.50 L958.9,1095.50 L959.9,1095.50 L960.9,1095.50 L961.9,1095.50 L962.9,1095.50 L963.9,1095.50 L964.9,1095.50 L965.9,1095.50" fill="none" stroke="#74569B" stroke-width="3.2" stroke-linejoin="round" stroke-linecap="round" />
<line x1="943.30" y1="856.50" x2="943.30" y2="1042.20" stroke="#001A5A" stroke-width="3.6" stroke-linecap="butt" stroke-dasharray="13.9 10.8"/>
<text transform="translate(610.87,848.80) scale(1,1.02)" font-size="47.00" font-weight="bold">C</text>
<text transform="translate(657.66,841.90) scale(1,1.02)" font-size="32.08">4’-</text>
<text transform="translate(693.32,841.90) scale(1,1.02)" font-size="32.08" font-style="italic">O</text>
<text transform="translate(718.27,841.90) scale(1,1.02)" font-size="32.08">-Methyl-paromamine (</text>
<path d="M856,0L575,0L575,1059Q421,915 212,846L212,1101Q322,1137 451,1238Q580,1339 628,1472L856,1472Z" transform="translate(1032.02,841.90) scale(0.01566,-0.01529)"/>
<text transform="translate(1049.86,841.90) scale(1,1.02)" font-size="32.08" font-weight="bold">4</text>
<text transform="translate(1067.71,841.90) scale(1,1.02)" font-size="32.08">)</text>
<text transform="translate(658.34,908.90) scale(1,1.02)" font-size="26.20">with AprD4/D3</text>
<text transform="translate(658.34,968.60) scale(1,1.02)" font-size="26.20">with AprD4/D3</text>
<text transform="translate(655.07,1025.00) scale(1,1.02)" font-size="26.20">standard of </text>
<path d="M856,0L575,0L575,1059Q421,915 212,846L212,1101Q322,1137 451,1238Q580,1339 628,1472L856,1472Z" transform="translate(793.44,1025.00) scale(0.01279,-0.01249)"/>
<text transform="translate(808.01,1025.00) scale(1,1.02)" font-size="26.20" font-weight="bold">4</text>
<text transform="translate(798.47,1083.90) scale(1,1.02)" font-size="26.20">standard of </text>
<text transform="translate(936.84,1083.90) scale(1,1.02)" font-size="26.20" font-weight="bold">4</text>
<text transform="translate(976.84,925.90) scale(1,1.02)" font-size="30.07">(a) EIC: 360.</text>
<path d="M763,0L583,0L583,1147Q518,1085 412,1023Q306,961 221,930L221,1104Q372,1175 485,1276Q598,1377 645,1472L763,1472Z" transform="translate(1147.30,925.90) scale(0.01468,-0.01434)"/>
<text transform="translate(1164.02,925.90) scale(1,1.02)" font-size="30.07">7</text>
<text transform="translate(976.84,983.00) scale(1,1.02)" font-size="30.07">(b) EIC: 330.</text>
<path d="M763,0L583,0L583,1147Q518,1085 412,1023Q306,961 221,930L221,1104Q372,1175 485,1276Q598,1377 645,1472L763,1472Z" transform="translate(1147.30,983.00) scale(0.01468,-0.01434)"/>
<text transform="translate(1164.02,983.00) scale(1,1.02)" font-size="30.07">6</text>
<text transform="translate(976.84,1041.20) scale(1,1.02)" font-size="30.07">(c) EIC: 360.</text>
<path d="M763,0L583,0L583,1147Q518,1085 412,1023Q306,961 221,930L221,1104Q372,1175 485,1276Q598,1377 645,1472L763,1472Z" transform="translate(1145.61,1041.20) scale(0.01468,-0.01434)"/>
<text transform="translate(1162.34,1041.20) scale(1,1.02)" font-size="30.07">7</text>
<text transform="translate(976.84,1095.10) scale(1,1.02)" font-size="30.07">(d) EIC: 330.</text>
<path d="M763,0L583,0L583,1147Q518,1085 412,1023Q306,961 221,930L221,1104Q372,1175 485,1276Q598,1377 645,1472L763,1472Z" transform="translate(1147.30,1095.10) scale(0.01468,-0.01434)"/>
<text transform="translate(1164.02,1095.10) scale(1,1.02)" font-size="30.07">6</text>
<text transform="translate(977.41,1137.40) scale(1,1.02)" font-size="26.10">Time (min)</text>
<line x1="21.70" y1="1475.60" x2="348.80" y2="1475.60" stroke="#A8A8A8" stroke-width="1.8" stroke-linecap="butt" />
<line x1="22.60" y1="1474.70" x2="22.60" y2="1480.60" stroke="#A8A8A8" stroke-width="1.8" stroke-linecap="butt" />
<path d="M763,0L583,0L583,1147Q518,1085 412,1023Q306,961 221,930L221,1104Q372,1175 485,1276Q598,1377 645,1472L763,1472Z" transform="translate(10.76,1506.70) scale(0.01064,-0.01039)"/>
<text transform="translate(22.88,1506.70) scale(1,1.02)" font-size="21.80">5</text>
<line x1="65.97" y1="1474.70" x2="65.97" y2="1480.60" stroke="#A8A8A8" stroke-width="1.8" stroke-linecap="butt" />
<path d="M763,0L583,0L583,1147Q518,1085 412,1023Q306,961 221,930L221,1104Q372,1175 485,1276Q598,1377 645,1472L763,1472Z" transform="translate(54.15,1506.70) scale(0.01064,-0.01039)"/>
<text transform="translate(66.27,1506.70) scale(1,1.02)" font-size="21.80">6</text>
<line x1="109.34" y1="1474.70" x2="109.34" y2="1480.60" stroke="#A8A8A8" stroke-width="1.8" stroke-linecap="butt" />
<path d="M763,0L583,0L583,1147Q518,1085 412,1023Q306,961 221,930L221,1104Q372,1175 485,1276Q598,1377 645,1472L763,1472Z" transform="translate(97.59,1506.70) scale(0.01064,-0.01039)"/>
<text transform="translate(109.71,1506.70) scale(1,1.02)" font-size="21.80">7</text>
<line x1="152.71" y1="1474.70" x2="152.71" y2="1480.60" stroke="#A8A8A8" stroke-width="1.8" stroke-linecap="butt" />
<path d="M763,0L583,0L583,1147Q518,1085 412,1023Q306,961 221,930L221,1104Q372,1175 485,1276Q598,1377 645,1472L763,1472Z" transform="translate(140.88,1506.70) scale(0.01064,-0.01039)"/>
<text transform="translate(153.01,1506.70) scale(1,1.02)" font-size="21.80">8</text>
<line x1="196.08" y1="1474.70" x2="196.08" y2="1480.60" stroke="#A8A8A8" stroke-width="1.8" stroke-linecap="butt" />
<path d="M763,0L583,0L583,1147Q518,1085 412,1023Q306,961 221,930L221,1104Q372,1175 485,1276Q598,1377 645,1472L763,1472Z" transform="translate(184.30,1506.70) scale(0.01064,-0.01039)"/>
<text transform="translate(196.42,1506.70) scale(1,1.02)" font-size="21.80">9</text>
<line x1="239.45" y1="1474.70" x2="239.45" y2="1480.60" stroke="#A8A8A8" stroke-width="1.8" stroke-linecap="butt" />
<text transform="translate(228.20,1506.70) scale(1,1.02)" font-size="21.80">20</text>
<line x1="282.82" y1="1474.70" x2="282.82" y2="1480.60" stroke="#A8A8A8" stroke-width="1.8" stroke-linecap="butt" />
<text transform="translate(273.15,1506.70) scale(1,1.02)" font-size="21.80">2</text>
<path d="M763,0L583,0L583,1147Q518,1085 412,1023Q306,961 221,930L221,1104Q372,1175 485,1276Q598,1377 645,1472L763,1472Z" transform="translate(285.27,1506.70) scale(0.01064,-0.01039)"/>
<line x1="326.19" y1="1474.70" x2="326.19" y2="1480.60" stroke="#A8A8A8" stroke-width="1.8" stroke-linecap="butt" />
<text transform="translate(315.07,1506.70) scale(1,1.02)" font-size="21.80">22</text>
<path d="M21.1,1294.00 L22.1,1294.00 L23.1,1294.00 L24.1,1294.00 L25.1,1294.00 L26.1,1294.00 L27.1,1294.00 L28.1,1294.00 L29.1,1294.00 L30.1,1294.00 L31.1,1294.00 L32.1,1294.00 L33.1,1294.00 L34.1,1294.00 L35.1,1294.00 L36.1,1294.00 L37.1,1294.00 L38.1,1294.00 L39.1,1294.00 L40.1,1294.00 L41.1,1294.00 L42.1,1294.00 L43.1,1294.00 L44.1,1294.00 L45.1,1294.00 L46.1,1294.00 L47.1,1294.00 L48.1,1294.00 L49.1,1294.00 L50.1,1294.00 L51.1,1294.00 L52.1,1294.00 L53.1,1294.00 L54.1,1294.00 L55.1,1294.00 L56.1,1294.00 L57.1,1294.00 L58.1,1294.00 L59.1,1294.00 L60.1,1294.00 L61.1,1294.00 L62.1,1294.00 L63.1,1294.00 L64.1,1294.00 L65.1,1294.00 L66.1,1294.00 L67.1,1294.00 L68.1,1294.00 L69.1,1294.00 L70.1,1294.00 L71.1,1294.00 L72.1,1294.00 L73.1,1294.00 L74.1,1294.00 L75.1,1294.00 L76.1,1294.00 L77.1,1294.00 L78.1,1294.00 L79.1,1294.00 L80.1,1294.00 L81.1,1294.00 L82.1,1294.00 L83.1,1294.00 L84.1,1294.00 L85.1,1294.00 L86.1,1294.00 L87.1,1294.00 L88.1,1294.00 L89.1,1294.00 L90.1,1294.00 L91.1,1294.00 L92.1,1294.00 L93.1,1294.00 L94.1,1294.00 L95.1,1294.00 L96.1,1294.00 L97.1,1294.00 L98.1,1294.00 L99.1,1294.00 L100.1,1294.00 L101.1,1294.00 L102.1,1294.00 L103.1,1294.00 L104.1,1294.00 L105.1,1294.00 L106.1,1294.00 L107.1,1294.00 L108.1,1294.00 L109.1,1294.00 L110.1,1294.00 L111.1,1294.00 L112.1,1294.00 L113.1,1294.00 L114.1,1294.00 L115.1,1294.00 L116.1,1294.00 L117.1,1294.00 L118.1,1294.00 L119.1,1294.00 L120.1,1294.00 L121.1,1294.00 L122.1,1294.00 L123.1,1294.00 L124.1,1294.00 L125.1,1294.00 L126.1,1294.00 L127.1,1294.00 L128.1,1294.00 L129.1,1294.00 L130.1,1294.00 L131.1,1294.00 L132.1,1294.00 L133.1,1294.00 L134.1,1294.00 L135.1,1294.00 L136.1,1294.00 L137.1,1294.00 L138.1,1294.00 L139.1,1294.00 L140.1,1294.00 L141.1,1294.00 L142.1,1294.00 L143.1,1294.00 L144.1,1294.00 L145.1,1294.00 L146.1,1294.00 L147.1,1294.00 L148.1,1294.00 L149.1,1294.00 L150.1,1294.00 L151.1,1294.00 L152.1,1294.00 L153.1,1294.00 L154.1,1294.00 L155.1,1294.00 L156.1,1294.00 L157.1,1294.00 L158.1,1294.00 L159.1,1294.00 L160.1,1294.00 L161.1,1294.00 L162.1,1294.00 L163.1,1294.00 L164.1,1294.00 L165.1,1294.00 L166.1,1294.00 L167.1,1294.00 L168.1,1294.00 L169.1,1294.00 L170.1,1294.00 L171.1,1294.00 L172.1,1294.00 L173.1,1294.00 L174.1,1294.00 L175.1,1294.00 L176.1,1294.00 L177.1,1294.00 L178.1,1294.00 L179.1,1294.00 L180.1,1294.00 L181.1,1294.00 L182.1,1294.00 L183.1,1294.00 L184.1,1294.00 L185.1,1294.00 L186.1,1294.00 L187.1,1294.00 L188.1,1294.00 L189.1,1294.00 L190.1,1294.00 L191.1,1294.00 L192.1,1294.00 L193.1,1294.00 L194.1,1294.00 L195.1,1294.00 L196.1,1294.00 L197.1,1294.00 L198.1,1294.00 L199.1,1294.00 L200.1,1294.00 L201.1,1294.00 L202.1,1294.00 L203.1,1294.00 L204.1,1294.00 L205.1,1294.00 L206.1,1294.00 L207.1,1294.00 L208.1,1294.00 L209.1,1294.00 L210.1,1294.00 L211.1,1294.00 L212.1,1294.00 L213.1,1294.00 L214.1,1294.00 L215.1,1294.00 L216.1,1294.00 L217.1,1294.00 L218.1,1294.00 L219.1,1294.00 L220.1,1294.00 L221.1,1294.00 L222.1,1294.00 L223.1,1294.00 L224.1,1294.00 L225.1,1294.00 L226.1,1294.00 L227.1,1294.00 L228.1,1294.00 L229.1,1294.00 L230.1,1294.00 L231.1,1294.00 L232.1,1294.00 L233.1,1294.00 L234.1,1294.00 L235.1,1294.00 L236.1,1294.00 L237.1,1294.00 L238.1,1294.00 L239.1,1294.00 L240.1,1294.00 L241.1,1294.00 L242.1,1294.00 L243.1,1294.00 L244.1,1294.00 L245.1,1294.00 L246.1,1294.00 L247.1,1294.00 L248.1,1294.00 L249.1,1294.00 L250.1,1294.00 L251.1,1294.00 L252.1,1294.00 L253.1,1294.00 L254.1,1294.00 L255.1,1294.00 L256.1,1294.00 L257.1,1294.00 L258.1,1294.00 L259.1,1294.00 L260.1,1294.00 L261.1,1294.00 L262.1,1294.00 L263.1,1294.00 L264.1,1294.00 L265.1,1294.00 L266.1,1294.00 L267.1,1294.00 L268.1,1294.00 L269.1,1294.00 L270.1,1294.00 L271.1,1294.00 L272.1,1294.00 L273.1,1294.00 L274.1,1294.00 L275.1,1294.00 L276.1,1294.00 L277.1,1294.00 L278.1,1294.00 L279.1,1294.00 L280.1,1294.00 L281.1,1294.00 L282.1,1294.00 L283.1,1294.00 L284.1,1294.00 L285.1,1294.00 L286.1,1294.00 L287.1,1294.00 L288.1,1294.00 L289.1,1294.00 L290.1,1294.00 L291.1,1293.99 L292.1,1293.95 L293.1,1293.79 L294.1,1293.35 L295.1,1292.47 L296.1,1291.08 L297.1,1289.41 L298.1,1287.89 L299.1,1286.90 L300.1,1286.52 L301.1,1286.66 L302.1,1287.31 L303.1,1288.13 L304.1,1289.00 L305.1,1289.85 L306.1,1290.63 L307.1,1291.31 L308.1,1291.90 L309.1,1292.38 L310.1,1292.75 L311.1,1292.99 L312.1,1293.04 L313.1,1292.82 L314.1,1292.33 L315.1,1291.69 L316.1,1291.10 L317.1,1290.61 L318.1,1289.95 L319.1,1288.51 L320.1,1285.32 L321.1,1279.45 L322.1,1271.08 L323.1,1261.75 L324.1,1253.71 L325.1,1248.66 L326.1,1246.87 L327.1,1247.14 L328.1,1249.44 L329.1,1253.63 L330.1,1259.18 L331.1,1265.40 L332.1,1271.64 L333.1,1277.35 L334.1,1282.20 L335.1,1286.04 L336.1,1288.89 L337.1,1290.88 L338.1,1292.18 L339.1,1292.99 L340.1,1293.47 L341.1,1293.73 L342.1,1293.87 L343.1,1293.94 L344.1,1293.98 L345.1,1293.99 L346.1,1294.00 L347.1,1294.00 L348.1,1294.00 L349.1,1294.00 L350.1,1294.00" fill="none" stroke="#BA4240" stroke-width="3.2" stroke-linejoin="round" stroke-linecap="round" />
<path d="M21.1,1353.50 L22.1,1353.50 L23.1,1353.50 L24.1,1353.50 L25.1,1353.50 L26.1,1353.50 L27.1,1353.50 L28.1,1353.50 L29.1,1353.50 L30.1,1353.50 L31.1,1353.50 L32.1,1353.50 L33.1,1353.50 L34.1,1353.50 L35.1,1353.50 L36.1,1353.50 L37.1,1353.50 L38.1,1353.50 L39.1,1353.50 L40.1,1353.50 L41.1,1353.50 L42.1,1353.50 L43.1,1353.50 L44.1,1353.50 L45.1,1353.50 L46.1,1353.50 L47.1,1353.50 L48.1,1353.50 L49.1,1353.50 L50.1,1353.50 L51.1,1353.50 L52.1,1353.50 L53.1,1353.50 L54.1,1353.50 L55.1,1353.50 L56.1,1353.50 L57.1,1353.50 L58.1,1353.50 L59.1,1353.50 L60.1,1353.50 L61.1,1353.50 L62.1,1353.50 L63.1,1353.50 L64.1,1353.50 L65.1,1353.50 L66.1,1353.50 L67.1,1353.50 L68.1,1353.50 L69.1,1353.50 L70.1,1353.50 L71.1,1353.50 L72.1,1353.50 L73.1,1353.50 L74.1,1353.50 L75.1,1353.50 L76.1,1353.50 L77.1,1353.50 L78.1,1353.50 L79.1,1353.50 L80.1,1353.50 L81.1,1353.50 L82.1,1353.50 L83.1,1353.50 L84.1,1353.50 L85.1,1353.50 L86.1,1353.50 L87.1,1353.50 L88.1,1353.50 L89.1,1353.50 L90.1,1353.50 L91.1,1353.50 L92.1,1353.50 L93.1,1353.50 L94.1,1353.50 L95.1,1353.50 L96.1,1353.50 L97.1,1353.50 L98.1,1353.50 L99.1,1353.50 L100.1,1353.50 L101.1,1353.50 L102.1,1353.50 L103.1,1353.49 L104.1,1353.49 L105.1,1353.48 L106.1,1353.47 L107.1,1353.45 L108.1,1353.43 L109.1,1353.40 L110.1,1353.35 L111.1,1353.30 L112.1,1353.23 L113.1,1353.15 L114.1,1353.07 L115.1,1352.97 L116.1,1352.87 L117.1,1352.77 L118.1,1352.68 L119.1,1352.59 L120.1,1352.51 L121.1,1352.44 L122.1,1352.39 L123.1,1352.35 L124.1,1352.32 L125.1,1352.31 L126.1,1352.30 L127.1,1352.30 L128.1,1352.33 L129.1,1352.36 L130.1,1352.41 L131.1,1352.45 L132.1,1352.50 L133.1,1352.56 L134.1,1352.61 L135.1,1352.66 L136.1,1352.72 L137.1,1352.77 L138.1,1352.82 L139.1,1352.87 L140.1,1352.92 L141.1,1352.97 L142.1,1353.01 L143.1,1353.05 L144.1,1353.09 L145.1,1353.13 L146.1,1353.16 L147.1,1353.19 L148.1,1353.22 L149.1,1353.25 L150.1,1353.27 L151.1,1353.30 L152.1,1353.32 L153.1,1353.34 L154.1,1353.36 L155.1,1353.37 L156.1,1353.39 L157.1,1353.40 L158.1,1353.41 L159.1,1353.42 L160.1,1353.43 L161.1,1353.44 L162.1,1353.45 L163.1,1353.45 L164.1,1353.46 L165.1,1353.46 L166.1,1353.47 L167.1,1353.47 L168.1,1353.48 L169.1,1353.48 L170.1,1353.48 L171.1,1353.48 L172.1,1353.49 L173.1,1353.49 L174.1,1353.49 L175.1,1353.49 L176.1,1353.49 L177.1,1353.49 L178.1,1353.49 L179.1,1353.50 L180.1,1353.50 L181.1,1353.50 L182.1,1353.50 L183.1,1353.50 L184.1,1353.50 L185.1,1353.50 L186.1,1353.50 L187.1,1353.50 L188.1,1353.50 L189.1,1353.50 L190.1,1353.50 L191.1,1353.50 L192.1,1353.50 L193.1,1353.50 L194.1,1353.50 L195.1,1353.50 L196.1,1353.50 L197.1,1353.50 L198.1,1353.50 L199.1,1353.50 L200.1,1353.50 L201.1,1353.50 L202.1,1353.50 L203.1,1353.50 L204.1,1353.50 L205.1,1353.50 L206.1,1353.50 L207.1,1353.50 L208.1,1353.50 L209.1,1353.50 L210.1,1353.50 L211.1,1353.50 L212.1,1353.50 L213.1,1353.50 L214.1,1353.50 L215.1,1353.50 L216.1,1353.50 L217.1,1353.50 L218.1,1353.50 L219.1,1353.50 L220.1,1353.50 L221.1,1353.50 L222.1,1353.50 L223.1,1353.50 L224.1,1353.50 L225.1,1353.50 L226.1,1353.50 L227.1,1353.50 L228.1,1353.50 L229.1,1353.50 L230.1,1353.50 L231.1,1353.50 L232.1,1353.50 L233.1,1353.50 L234.1,1353.50 L235.1,1353.50 L236.1,1353.50 L237.1,1353.50 L238.1,1353.50 L239.1,1353.50 L240.1,1353.50 L241.1,1353.50 L242.1,1353.50 L243.1,1353.50 L244.1,1353.50 L245.1,1353.50 L246.1,1353.50 L247.1,1353.50 L248.1,1353.50 L249.1,1353.50 L250.1,1353.50 L251.1,1353.50 L252.1,1353.50 L253.1,1353.50 L254.1,1353.50 L255.1,1353.50 L256.1,1353.50 L257.1,1353.50 L258.1,1353.50 L259.1,1353.50 L260.1,1353.50 L261.1,1353.50 L262.1,1353.50 L263.1,1353.50 L264.1,1353.50 L265.1,1353.50 L266.1,1353.50 L267.1,1353.50 L268.1,1353.50 L269.1,1353.50 L270.1,1353.50 L271.1,1353.50 L272.1,1353.50 L273.1,1353.50 L274.1,1353.50 L275.1,1353.50 L276.1,1353.50 L277.1,1353.50 L278.1,1353.50 L279.1,1353.50 L280.1,1353.49 L281.1,1353.46 L282.1,1353.37 L283.1,1353.22 L284.1,1353.01 L285.1,1352.83 L286.1,1352.72 L287.1,1352.70 L288.1,1352.75 L289.1,1352.85 L290.1,1352.96 L291.1,1353.06 L292.1,1353.16 L293.1,1353.23 L294.1,1353.27 L295.1,1353.23 L296.1,1353.04 L297.1,1352.66 L298.1,1352.17 L299.1,1351.75 L300.1,1351.52 L301.1,1351.49 L302.1,1351.65 L303.1,1351.90 L304.1,1352.17 L305.1,1352.43 L306.1,1352.66 L307.1,1352.86 L308.1,1353.03 L309.1,1353.15 L310.1,1353.25 L311.1,1353.33 L312.1,1353.38 L313.1,1353.42 L314.1,1353.45 L315.1,1353.47 L316.1,1353.48 L317.1,1353.49 L318.1,1353.49 L319.1,1353.49 L320.1,1353.50 L321.1,1353.50 L322.1,1353.50 L323.1,1353.50 L324.1,1353.50 L325.1,1353.50 L326.1,1353.50 L327.1,1353.50 L328.1,1353.50 L329.1,1353.50 L330.1,1353.50 L331.1,1353.50 L332.1,1353.50 L333.1,1353.50 L334.1,1353.50 L335.1,1353.50 L336.1,1353.50 L337.1,1353.50 L338.1,1353.50 L339.1,1353.50 L340.1,1353.50 L341.1,1353.50 L342.1,1353.50 L343.1,1353.50 L344.1,1353.50 L345.1,1353.50 L346.1,1353.50 L347.1,1353.50 L348.1,1353.50 L349.1,1353.50 L350.1,1353.50" fill="none" stroke="#3A72B6" stroke-width="3.2" stroke-linejoin="round" stroke-linecap="round" />
<path d="M21.1,1412.00 L22.1,1412.00 L23.1,1412.00 L24.1,1412.00 L25.1,1412.00 L26.1,1412.00 L27.1,1412.00 L28.1,1412.00 L29.1,1412.00 L30.1,1412.00 L31.1,1412.00 L32.1,1412.00 L33.1,1412.00 L34.1,1412.00 L35.1,1412.00 L36.1,1412.00 L37.1,1412.00 L38.1,1412.00 L39.1,1412.00 L40.1,1412.00 L41.1,1412.00 L42.1,1412.00 L43.1,1412.00 L44.1,1412.00 L45.1,1412.00 L46.1,1412.00 L47.1,1412.00 L48.1,1412.00 L49.1,1412.00 L50.1,1412.00 L51.1,1412.00 L52.1,1412.00 L53.1,1412.00 L54.1,1412.00 L55.1,1412.00 L56.1,1412.00 L57.1,1412.00 L58.1,1412.00 L59.1,1412.00 L60.1,1412.00 L61.1,1412.00 L62.1,1412.00 L63.1,1412.00 L64.1,1412.00 L65.1,1412.00 L66.1,1412.00 L67.1,1412.00 L68.1,1412.00 L69.1,1412.00 L70.1,1412.00 L71.1,1412.00 L72.1,1412.00 L73.1,1412.00 L74.1,1412.00 L75.1,1412.00 L76.1,1412.00 L77.1,1412.00 L78.1,1412.00 L79.1,1412.00 L80.1,1412.00 L81.1,1412.00 L82.1,1412.00 L83.1,1412.00 L84.1,1412.00 L85.1,1412.00 L86.1,1412.00 L87.1,1412.00 L88.1,1412.00 L89.1,1412.00 L90.1,1412.00 L91.1,1412.00 L92.1,1412.00 L93.1,1412.00 L94.1,1412.00 L95.1,1412.00 L96.1,1412.00 L97.1,1412.00 L98.1,1412.00 L99.1,1412.00 L100.1,1412.00 L101.1,1412.00 L102.1,1412.00 L103.1,1412.00 L104.1,1412.00 L105.1,1412.00 L106.1,1412.00 L107.1,1412.00 L108.1,1412.00 L109.1,1412.00 L110.1,1412.00 L111.1,1412.00 L112.1,1412.00 L113.1,1412.00 L114.1,1412.00 L115.1,1412.00 L116.1,1412.00 L117.1,1412.00 L118.1,1412.00 L119.1,1412.00 L120.1,1412.00 L121.1,1412.00 L122.1,1412.00 L123.1,1412.00 L124.1,1412.00 L125.1,1412.00 L126.1,1412.00 L127.1,1412.00 L128.1,1412.00 L129.1,1412.00 L130.1,1412.00 L131.1,1412.00 L132.1,1412.00 L133.1,1412.00 L134.1,1412.00 L135.1,1412.00 L136.1,1412.00 L137.1,1412.00 L138.1,1412.00 L139.1,1412.00 L140.1,1412.00 L141.1,1412.00 L142.1,1412.00 L143.1,1412.00 L144.1,1412.00 L145.1,1412.00 L146.1,1412.00 L147.1,1412.00 L148.1,1412.00 L149.1,1412.00 L150.1,1412.00 L151.1,1412.00 L152.1,1412.00 L153.1,1412.00 L154.1,1412.00 L155.1,1412.00 L156.1,1412.00 L157.1,1412.00 L158.1,1412.00 L159.1,1412.00 L160.1,1412.00 L161.1,1412.00 L162.1,1412.00 L163.1,1412.00 L164.1,1412.00 L165.1,1412.00 L166.1,1412.00 L167.1,1412.00 L168.1,1412.00 L169.1,1412.00 L170.1,1412.00 L171.1,1412.00 L172.1,1412.00 L173.1,1412.00 L174.1,1412.00 L175.1,1412.00 L176.1,1412.00 L177.1,1412.00 L178.1,1412.00 L179.1,1412.00 L180.1,1412.00 L181.1,1412.00 L182.1,1412.00 L183.1,1412.00 L184.1,1412.00 L185.1,1412.00 L186.1,1412.00 L187.1,1412.00 L188.1,1412.00 L189.1,1412.00 L190.1,1412.00 L191.1,1412.00 L192.1,1412.00 L193.1,1412.00 L194.1,1412.00 L195.1,1412.00 L196.1,1412.00 L197.1,1412.00 L198.1,1412.00 L199.1,1412.00 L200.1,1412.00 L201.1,1412.00 L202.1,1412.00 L203.1,1412.00 L204.1,1412.00 L205.1,1412.00 L206.1,1412.00 L207.1,1412.00 L208.1,1412.00 L209.1,1412.00 L210.1,1412.00 L211.1,1412.00 L212.1,1412.00 L213.1,1412.00 L214.1,1412.00 L215.1,1412.00 L216.1,1412.00 L217.1,1412.00 L218.1,1412.00 L219.1,1412.00 L220.1,1412.00 L221.1,1412.00 L222.1,1412.00 L223.1,1412.00 L224.1,1412.00 L225.1,1412.00 L226.1,1412.00 L227.1,1412.00 L228.1,1412.00 L229.1,1412.00 L230.1,1412.00 L231.1,1412.00 L232.1,1412.00 L233.1,1412.00 L234.1,1412.00 L235.1,1412.00 L236.1,1412.00 L237.1,1412.00 L238.1,1412.00 L239.1,1412.00 L240.1,1412.00 L241.1,1412.00 L242.1,1412.00 L243.1,1412.00 L244.1,1412.00 L245.1,1412.00 L246.1,1412.00 L247.1,1412.00 L248.1,1412.00 L249.1,1412.00 L250.1,1412.00 L251.1,1412.00 L252.1,1412.00 L253.1,1412.00 L254.1,1412.00 L255.1,1412.00 L256.1,1412.00 L257.1,1412.00 L258.1,1412.00 L259.1,1412.00 L260.1,1412.00 L261.1,1412.00 L262.1,1412.00 L263.1,1412.00 L264.1,1412.00 L265.1,1412.00 L266.1,1412.00 L267.1,1412.00 L268.1,1412.00 L269.1,1412.00 L270.1,1412.00 L271.1,1412.00 L272.1,1412.00 L273.1,1412.00 L274.1,1412.00 L275.1,1412.00 L276.1,1412.00 L277.1,1412.00 L278.1,1412.00 L279.1,1412.00 L280.1,1412.00 L281.1,1412.00 L282.1,1412.00 L283.1,1412.00 L284.1,1412.00 L285.1,1412.00 L286.1,1412.00 L287.1,1412.00 L288.1,1412.00 L289.1,1412.00 L290.1,1412.00 L291.1,1411.98 L292.1,1411.91 L293.1,1411.69 L294.1,1411.15 L295.1,1410.17 L296.1,1408.80 L297.1,1407.34 L298.1,1406.17 L299.1,1405.55 L300.1,1405.40 L301.1,1405.76 L302.1,1406.41 L303.1,1407.17 L304.1,1407.93 L305.1,1408.65 L306.1,1409.30 L307.1,1409.87 L308.1,1410.35 L309.1,1410.73 L310.1,1411.03 L311.1,1411.21 L312.1,1411.23 L313.1,1411.02 L314.1,1410.58 L315.1,1410.00 L316.1,1409.43 L317.1,1408.85 L318.1,1407.83 L319.1,1405.58 L320.1,1401.14 L321.1,1393.93 L322.1,1384.72 L323.1,1375.54 L324.1,1368.55 L325.1,1364.93 L326.1,1364.19 L327.1,1365.28 L328.1,1368.50 L329.1,1373.42 L330.1,1379.42 L331.1,1385.80 L332.1,1391.95 L333.1,1397.39 L334.1,1401.87 L335.1,1405.31 L336.1,1407.80 L337.1,1409.48 L338.1,1410.57 L339.1,1411.22 L340.1,1411.60 L341.1,1411.80 L342.1,1411.91 L343.1,1411.96 L344.1,1411.98 L345.1,1411.99 L346.1,1412.00 L347.1,1412.00 L348.1,1412.00 L349.1,1412.00 L350.1,1412.00" fill="none" stroke="#8FB447" stroke-width="3.2" stroke-linejoin="round" stroke-linecap="round" />
<path d="M21.1,1469.70 L22.1,1469.70 L23.1,1469.70 L24.1,1469.70 L25.1,1469.70 L26.1,1469.70 L27.1,1469.70 L28.1,1469.70 L29.1,1469.70 L30.1,1469.70 L31.1,1469.70 L32.1,1469.70 L33.1,1469.70 L34.1,1469.70 L35.1,1469.70 L36.1,1469.70 L37.1,1469.70 L38.1,1469.70 L39.1,1469.70 L40.1,1469.70 L41.1,1469.70 L42.1,1469.70 L43.1,1469.70 L44.1,1469.70 L45.1,1469.70 L46.1,1469.70 L47.1,1469.70 L48.1,1469.70 L49.1,1469.70 L50.1,1469.70 L51.1,1469.70 L52.1,1469.70 L53.1,1469.70 L54.1,1469.70 L55.1,1469.70 L56.1,1469.70 L57.1,1469.70 L58.1,1469.70 L59.1,1469.70 L60.1,1469.70 L61.1,1469.70 L62.1,1469.70 L63.1,1469.70 L64.1,1469.70 L65.1,1469.70 L66.1,1469.70 L67.1,1469.70 L68.1,1469.70 L69.1,1469.70 L70.1,1469.70 L71.1,1469.70 L72.1,1469.70 L73.1,1469.70 L74.1,1469.70 L75.1,1469.70 L76.1,1469.70 L77.1,1469.70 L78.1,1469.70 L79.1,1469.70 L80.1,1469.70 L81.1,1469.70 L82.1,1469.70 L83.1,1469.70 L84.1,1469.70 L85.1,1469.70 L86.1,1469.70 L87.1,1469.70 L88.1,1469.70 L89.1,1469.70 L90.1,1469.70 L91.1,1469.70 L92.1,1469.70 L93.1,1469.70 L94.1,1469.70 L95.1,1469.70 L96.1,1469.70 L97.1,1469.69 L98.1,1469.68 L99.1,1469.66 L100.1,1469.63 L101.1,1469.56 L102.1,1469.44 L103.1,1469.23 L104.1,1468.91 L105.1,1468.42 L106.1,1467.70 L107.1,1466.70 L108.1,1465.34 L109.1,1463.58 L110.1,1461.39 L111.1,1458.77 L112.1,1455.75 L113.1,1452.39 L114.1,1448.78 L115.1,1445.06 L116.1,1441.34 L117.1,1437.78 L118.1,1434.49 L119.1,1431.57 L120.1,1429.10 L121.1,1427.12 L122.1,1425.62 L123.1,1424.58 L124.1,1423.93 L125.1,1423.61 L126.1,1423.51 L127.1,1423.53 L128.1,1423.77 L129.1,1424.21 L130.1,1424.81 L131.1,1425.56 L132.1,1426.45 L133.1,1427.45 L134.1,1428.56 L135.1,1429.77 L136.1,1431.05 L137.1,1432.40 L138.1,1433.81 L139.1,1435.26 L140.1,1436.74 L141.1,1438.24 L142.1,1439.75 L143.1,1441.27 L144.1,1442.78 L145.1,1444.27 L146.1,1445.75 L147.1,1447.19 L148.1,1448.60 L149.1,1449.97 L150.1,1451.29 L151.1,1452.57 L152.1,1453.80 L153.1,1454.97 L154.1,1456.09 L155.1,1457.16 L156.1,1458.17 L157.1,1459.12 L158.1,1460.01 L159.1,1460.85 L160.1,1461.64 L161.1,1462.37 L162.1,1463.05 L163.1,1463.68 L164.1,1464.26 L165.1,1464.80 L166.1,1465.29 L167.1,1465.75 L168.1,1466.16 L169.1,1466.54 L170.1,1466.88 L171.1,1467.19 L172.1,1467.47 L173.1,1467.73 L174.1,1467.96 L175.1,1468.16 L176.1,1468.35 L177.1,1468.51 L178.1,1468.66 L179.1,1468.79 L180.1,1468.90 L181.1,1469.01 L182.1,1469.10 L183.1,1469.18 L184.1,1469.25 L185.1,1469.31 L186.1,1469.36 L187.1,1469.41 L188.1,1469.45 L189.1,1469.49 L190.1,1469.52 L191.1,1469.54 L192.1,1469.57 L193.1,1469.59 L194.1,1469.60 L195.1,1469.62 L196.1,1469.63 L197.1,1469.64 L198.1,1469.65 L199.1,1469.66 L200.1,1469.67 L201.1,1469.67 L202.1,1469.68 L203.1,1469.68 L204.1,1469.68 L205.1,1469.69 L206.1,1469.69 L207.1,1469.69 L208.1,1469.69 L209.1,1469.69 L210.1,1469.69 L211.1,1469.70 L212.1,1469.70 L213.1,1469.70 L214.1,1469.70 L215.1,1469.70 L216.1,1469.70 L217.1,1469.70 L218.1,1469.70 L219.1,1469.70 L220.1,1469.70 L221.1,1469.70 L222.1,1469.70 L223.1,1469.70 L224.1,1469.70 L225.1,1469.70 L226.1,1469.70 L227.1,1469.70 L228.1,1469.70 L229.1,1469.70 L230.1,1469.70 L231.1,1469.70 L232.1,1469.70 L233.1,1469.70 L234.1,1469.70 L235.1,1469.70 L236.1,1469.70 L237.1,1469.70 L238.1,1469.70 L239.1,1469.70 L240.1,1469.70 L241.1,1469.70 L242.1,1469.70 L243.1,1469.70 L244.1,1469.70 L245.1,1469.70 L246.1,1469.70 L247.1,1469.70 L248.1,1469.70 L249.1,1469.70 L250.1,1469.70 L251.1,1469.70 L252.1,1469.70 L253.1,1469.70 L254.1,1469.70 L255.1,1469.70 L256.1,1469.70 L257.1,1469.70 L258.1,1469.70 L259.1,1469.70 L260.1,1469.70 L261.1,1469.70 L262.1,1469.70 L263.1,1469.70 L264.1,1469.70 L265.1,1469.70 L266.1,1469.70 L267.1,1469.70 L268.1,1469.70 L269.1,1469.70 L270.1,1469.70 L271.1,1469.70 L272.1,1469.70 L273.1,1469.70 L274.1,1469.70 L275.1,1469.70 L276.1,1469.70 L277.1,1469.70 L278.1,1469.70 L279.1,1469.70 L280.1,1469.70 L281.1,1469.70 L282.1,1469.70 L283.1,1469.70 L284.1,1469.70 L285.1,1469.70 L286.1,1469.70 L287.1,1469.70 L288.1,1469.70 L289.1,1469.70 L290.1,1469.70 L291.1,1469.70 L292.1,1469.70 L293.1,1469.70 L294.1,1469.70 L295.1,1469.70 L296.1,1469.70 L297.1,1469.70 L298.1,1469.70 L299.1,1469.70 L300.1,1469.70 L301.1,1469.70 L302.1,1469.70 L303.1,1469.70 L304.1,1469.70 L305.1,1469.70 L306.1,1469.70 L307.1,1469.70 L308.1,1469.70 L309.1,1469.70 L310.1,1469.70 L311.1,1469.70 L312.1,1469.70 L313.1,1469.70 L314.1,1469.70 L315.1,1469.70 L316.1,1469.70 L317.1,1469.70 L318.1,1469.70 L319.1,1469.70 L320.1,1469.70 L321.1,1469.70 L322.1,1469.70 L323.1,1469.70 L324.1,1469.70 L325.1,1469.70 L326.1,1469.70 L327.1,1469.70 L328.1,1469.70 L329.1,1469.70 L330.1,1469.70 L331.1,1469.70 L332.1,1469.70 L333.1,1469.70 L334.1,1469.70 L335.1,1469.70 L336.1,1469.70 L337.1,1469.70 L338.1,1469.70 L339.1,1469.70 L340.1,1469.70 L341.1,1469.70 L342.1,1469.70 L343.1,1469.70 L344.1,1469.70 L345.1,1469.70 L346.1,1469.70 L347.1,1469.70 L348.1,1469.70 L349.1,1469.70 L350.1,1469.70" fill="none" stroke="#74569B" stroke-width="3.2" stroke-linejoin="round" stroke-linecap="round" />
<line x1="326.20" y1="1238.90" x2="326.20" y2="1423.60" stroke="#001A5A" stroke-width="3.6" stroke-linecap="butt" stroke-dasharray="13.9 10.8"/>
<text transform="translate(13.06,1217.30) scale(1,1.02)" font-size="47.00" font-weight="bold">D</text>
<text transform="translate(59.12,1216.90) scale(1,1.02)" font-size="31.98">[4’-D]-4’-</text>
<text transform="translate(181.72,1216.90) scale(1,1.02)" font-size="31.98" font-style="italic">O</text>
<text transform="translate(206.59,1216.90) scale(1,1.02)" font-size="31.98">-Methyl-paromamine (</text>
<path d="M856,0L575,0L575,1059Q421,915 212,846L212,1101Q322,1137 451,1238Q580,1339 628,1472L856,1472Z" transform="translate(519.36,1216.90) scale(0.01562,-0.01525)"/>
<text transform="translate(537.15,1216.90) scale(1,1.02)" font-size="31.98" font-weight="bold">5</text>
<text transform="translate(554.93,1216.90) scale(1,1.02)" font-size="31.98">)</text>
<text transform="translate(30.24,1284.50) scale(1,1.02)" font-size="26.20">with AprD4/D3</text>
<text transform="translate(30.24,1342.40) scale(1,1.02)" font-size="26.20">with AprD4/D3</text>
<text transform="translate(29.47,1400.70) scale(1,1.02)" font-size="26.20">standard of </text>
<path d="M856,0L575,0L575,1059Q421,915 212,846L212,1101Q322,1137 451,1238Q580,1339 628,1472L856,1472Z" transform="translate(167.84,1400.70) scale(0.01279,-0.01249)"/>
<text transform="translate(182.41,1400.70) scale(1,1.02)" font-size="26.20" font-weight="bold">5</text>
<text transform="translate(188.07,1460.50) scale(1,1.02)" font-size="26.20">standard of </text>
<text transform="translate(326.44,1460.50) scale(1,1.02)" font-size="26.20" font-weight="bold">4</text>
<text transform="translate(358.24,1298.80) scale(1,1.02)" font-size="30.07">(a) EIC: 36</text>
<path d="M763,0L583,0L583,1147Q518,1085 412,1023Q306,961 221,930L221,1104Q372,1175 485,1276Q598,1377 645,1472L763,1472Z" transform="translate(503.62,1298.80) scale(0.01468,-0.01434)"/>
<text transform="translate(520.35,1298.80) scale(1,1.02)" font-size="30.07">.</text>
<path d="M763,0L583,0L583,1147Q518,1085 412,1023Q306,961 221,930L221,1104Q372,1175 485,1276Q598,1377 645,1472L763,1472Z" transform="translate(528.70,1298.80) scale(0.01468,-0.01434)"/>
<text transform="translate(545.42,1298.80) scale(1,1.02)" font-size="30.07">8</text>
<text transform="translate(358.24,1358.80) scale(1,1.02)" font-size="30.07">(b) EIC: 330.</text>
<path d="M763,0L583,0L583,1147Q518,1085 412,1023Q306,961 221,930L221,1104Q372,1175 485,1276Q598,1377 645,1472L763,1472Z" transform="translate(528.70,1358.80) scale(0.01468,-0.01434)"/>
<text transform="translate(545.42,1358.80) scale(1,1.02)" font-size="30.07">6</text>
<text transform="translate(358.24,1418.70) scale(1,1.02)" font-size="30.07">(c) EIC: 36</text>
<path d="M763,0L583,0L583,1147Q518,1085 412,1023Q306,961 221,930L221,1104Q372,1175 485,1276Q598,1377 645,1472L763,1472Z" transform="translate(501.93,1418.70) scale(0.01468,-0.01434)"/>
<text transform="translate(518.66,1418.70) scale(1,1.02)" font-size="30.07">.</text>
<path d="M763,0L583,0L583,1147Q518,1085 412,1023Q306,961 221,930L221,1104Q372,1175 485,1276Q598,1377 645,1472L763,1472Z" transform="translate(527.01,1418.70) scale(0.01468,-0.01434)"/>
<text transform="translate(543.74,1418.70) scale(1,1.02)" font-size="30.07">8</text>
<text transform="translate(358.24,1479.80) scale(1,1.02)" font-size="30.07">(d) EIC: 330.</text>
<path d="M763,0L583,0L583,1147Q518,1085 412,1023Q306,961 221,930L221,1104Q372,1175 485,1276Q598,1377 645,1472L763,1472Z" transform="translate(528.70,1479.80) scale(0.01468,-0.01434)"/>
<text transform="translate(545.42,1479.80) scale(1,1.02)" font-size="30.07">6</text>
<text transform="translate(359.01,1514.70) scale(1,1.02)" font-size="26.10">Time (min)</text>
<line x1="629.40" y1="1479.80" x2="956.00" y2="1479.80" stroke="#A8A8A8" stroke-width="1.8" stroke-linecap="butt" />
<line x1="630.00" y1="1478.90" x2="630.00" y2="1484.80" stroke="#A8A8A8" stroke-width="1.8" stroke-linecap="butt" />
<path d="M763,0L583,0L583,1147Q518,1085 412,1023Q306,961 221,930L221,1104Q372,1175 485,1276Q598,1377 645,1472L763,1472Z" transform="translate(618.16,1513.30) scale(0.01064,-0.01039)"/>
<text transform="translate(630.28,1513.30) scale(1,1.02)" font-size="21.80">5</text>
<line x1="673.27" y1="1478.90" x2="673.27" y2="1484.80" stroke="#A8A8A8" stroke-width="1.8" stroke-linecap="butt" />
<path d="M763,0L583,0L583,1147Q518,1085 412,1023Q306,961 221,930L221,1104Q372,1175 485,1276Q598,1377 645,1472L763,1472Z" transform="translate(661.45,1513.30) scale(0.01064,-0.01039)"/>
<text transform="translate(673.57,1513.30) scale(1,1.02)" font-size="21.80">6</text>
<line x1="716.54" y1="1478.90" x2="716.54" y2="1484.80" stroke="#A8A8A8" stroke-width="1.8" stroke-linecap="butt" />
<path d="M763,0L583,0L583,1147Q518,1085 412,1023Q306,961 221,930L221,1104Q372,1175 485,1276Q598,1377 645,1472L763,1472Z" transform="translate(704.79,1513.30) scale(0.01064,-0.01039)"/>
<text transform="translate(716.91,1513.30) scale(1,1.02)" font-size="21.80">7</text>
<line x1="759.81" y1="1478.90" x2="759.81" y2="1484.80" stroke="#A8A8A8" stroke-width="1.8" stroke-linecap="butt" />
<path d="M763,0L583,0L583,1147Q518,1085 412,1023Q306,961 221,930L221,1104Q372,1175 485,1276Q598,1377 645,1472L763,1472Z" transform="translate(747.98,1513.30) scale(0.01064,-0.01039)"/>
<text transform="translate(760.11,1513.30) scale(1,1.02)" font-size="21.80">8</text>
<line x1="803.08" y1="1478.90" x2="803.08" y2="1484.80" stroke="#A8A8A8" stroke-width="1.8" stroke-linecap="butt" />
<path d="M763,0L583,0L583,1147Q518,1085 412,1023Q306,961 221,930L221,1104Q372,1175 485,1276Q598,1377 645,1472L763,1472Z" transform="translate(791.30,1513.30) scale(0.01064,-0.01039)"/>
<text transform="translate(803.42,1513.30) scale(1,1.02)" font-size="21.80">9</text>
<line x1="846.35" y1="1478.90" x2="846.35" y2="1484.80" stroke="#A8A8A8" stroke-width="1.8" stroke-linecap="butt" />
<text transform="translate(835.10,1513.30) scale(1,1.02)" font-size="21.80">20</text>
<line x1="889.62" y1="1478.90" x2="889.62" y2="1484.80" stroke="#A8A8A8" stroke-width="1.8" stroke-linecap="butt" />
<text transform="translate(879.95,1513.30) scale(1,1.02)" font-size="21.80">2</text>
<path d="M763,0L583,0L583,1147Q518,1085 412,1023Q306,961 221,930L221,1104Q372,1175 485,1276Q598,1377 645,1472L763,1472Z" transform="translate(892.07,1513.30) scale(0.01064,-0.01039)"/>
<line x1="932.89" y1="1478.90" x2="932.89" y2="1484.80" stroke="#A8A8A8" stroke-width="1.8" stroke-linecap="butt" />
<text transform="translate(921.77,1513.30) scale(1,1.02)" font-size="21.80">22</text>
<path d="M629.4,1295.50 L630.4,1295.50 L631.4,1295.50 L632.4,1295.50 L633.4,1295.50 L634.4,1295.50 L635.4,1295.50 L636.4,1295.50 L637.4,1295.50 L638.4,1295.50 L639.4,1295.50 L640.4,1295.50 L641.4,1295.50 L642.4,1295.50 L643.4,1295.50 L644.4,1295.50 L645.4,1295.50 L646.4,1295.50 L647.4,1295.50 L648.4,1295.50 L649.4,1295.50 L650.4,1295.50 L651.4,1295.50 L652.4,1295.50 L653.4,1295.50 L654.4,1295.50 L655.4,1295.50 L656.4,1295.50 L657.4,1295.50 L658.4,1295.50 L659.4,1295.50 L660.4,1295.50 L661.4,1295.50 L662.4,1295.50 L663.4,1295.50 L664.4,1295.50 L665.4,1295.50 L666.4,1295.50 L667.4,1295.50 L668.4,1295.50 L669.4,1295.50 L670.4,1295.50 L671.4,1295.50 L672.4,1295.50 L673.4,1295.50 L674.4,1295.50 L675.4,1295.50 L676.4,1295.50 L677.4,1295.50 L678.4,1295.50 L679.4,1295.50 L680.4,1295.50 L681.4,1295.50 L682.4,1295.50 L683.4,1295.50 L684.4,1295.50 L685.4,1295.50 L686.4,1295.50 L687.4,1295.50 L688.4,1295.50 L689.4,1295.50 L690.4,1295.50 L691.4,1295.50 L692.4,1295.50 L693.4,1295.50 L694.4,1295.50 L695.4,1295.50 L696.4,1295.50 L697.4,1295.50 L698.4,1295.50 L699.4,1295.50 L700.4,1295.50 L701.4,1295.50 L702.4,1295.50 L703.4,1295.50 L704.4,1295.50 L705.4,1295.50 L706.4,1295.50 L707.4,1295.50 L708.4,1295.50 L709.4,1295.50 L710.4,1295.50 L711.4,1295.50 L712.4,1295.50 L713.4,1295.50 L714.4,1295.50 L715.4,1295.50 L716.4,1295.50 L717.4,1295.50 L718.4,1295.50 L719.4,1295.50 L720.4,1295.50 L721.4,1295.50 L722.4,1295.50 L723.4,1295.50 L724.4,1295.50 L725.4,1295.50 L726.4,1295.50 L727.4,1295.50 L728.4,1295.50 L729.4,1295.50 L730.4,1295.50 L731.4,1295.50 L732.4,1295.50 L733.4,1295.50 L734.4,1295.50 L735.4,1295.50 L736.4,1295.50 L737.4,1295.50 L738.4,1295.50 L739.4,1295.50 L740.4,1295.50 L741.4,1295.50 L742.4,1295.50 L743.4,1295.50 L744.4,1295.50 L745.4,1295.50 L746.4,1295.50 L747.4,1295.50 L748.4,1295.50 L749.4,1295.50 L750.4,1295.50 L751.4,1295.50 L752.4,1295.50 L753.4,1295.50 L754.4,1295.50 L755.4,1295.50 L756.4,1295.50 L757.4,1295.50 L758.4,1295.50 L759.4,1295.50 L760.4,1295.50 L761.4,1295.50 L762.4,1295.50 L763.4,1295.50 L764.4,1295.50 L765.4,1295.49 L766.4,1295.48 L767.4,1295.46 L768.4,1295.42 L769.4,1295.34 L770.4,1295.18 L771.4,1294.92 L772.4,1294.48 L773.4,1293.79 L774.4,1292.76 L775.4,1291.30 L776.4,1289.32 L777.4,1286.77 L778.4,1283.63 L779.4,1279.94 L780.4,1275.81 L781.4,1271.39 L782.4,1266.88 L783.4,1262.51 L784.4,1258.49 L785.4,1255.00 L786.4,1252.17 L787.4,1250.06 L788.4,1248.66 L789.4,1247.90 L790.4,1247.62 L791.4,1247.80 L792.4,1248.76 L793.4,1250.13 L794.4,1251.77 L795.4,1253.59 L796.4,1255.53 L797.4,1257.57 L798.4,1259.65 L799.4,1261.75 L800.4,1263.84 L801.4,1265.91 L802.4,1267.94 L803.4,1269.90 L804.4,1271.80 L805.4,1273.62 L806.4,1275.36 L807.4,1277.01 L808.4,1278.58 L809.4,1280.04 L810.4,1281.42 L811.4,1282.71 L812.4,1283.90 L813.4,1285.01 L814.4,1286.03 L815.4,1286.97 L816.4,1287.84 L817.4,1288.63 L818.4,1289.36 L819.4,1290.01 L820.4,1290.61 L821.4,1291.15 L822.4,1291.64 L823.4,1292.08 L824.4,1292.48 L825.4,1292.83 L826.4,1293.15 L827.4,1293.43 L828.4,1293.68 L829.4,1293.91 L830.4,1294.11 L831.4,1294.28 L832.4,1294.44 L833.4,1294.58 L834.4,1294.70 L835.4,1294.80 L836.4,1294.90 L837.4,1294.98 L838.4,1295.05 L839.4,1295.11 L840.4,1295.17 L841.4,1295.21 L842.4,1295.25 L843.4,1295.29 L844.4,1295.32 L845.4,1295.35 L846.4,1295.37 L847.4,1295.39 L848.4,1295.40 L849.4,1295.42 L850.4,1295.43 L851.4,1295.44 L852.4,1295.45 L853.4,1295.46 L854.4,1295.46 L855.4,1295.47 L856.4,1295.48 L857.4,1295.48 L858.4,1295.48 L859.4,1295.49 L860.4,1295.49 L861.4,1295.49 L862.4,1295.49 L863.4,1295.49 L864.4,1295.49 L865.4,1295.50 L866.4,1295.50 L867.4,1295.50 L868.4,1295.50 L869.4,1295.50 L870.4,1295.50 L871.4,1295.50 L872.4,1295.50 L873.4,1295.50 L874.4,1295.50 L875.4,1295.50 L876.4,1295.50 L877.4,1295.50 L878.4,1295.50 L879.4,1295.50 L880.4,1295.50 L881.4,1295.50 L882.4,1295.50 L883.4,1295.50 L884.4,1295.50 L885.4,1295.50 L886.4,1295.50 L887.4,1295.50 L888.4,1295.50 L889.4,1295.50 L890.4,1295.50 L891.4,1295.50 L892.4,1295.50 L893.4,1295.50 L894.4,1295.50 L895.4,1295.50 L896.4,1295.50 L897.4,1295.50 L898.4,1295.50 L899.4,1295.50 L900.4,1295.50 L901.4,1295.50 L902.4,1295.50 L903.4,1295.50 L904.4,1295.50 L905.4,1295.50 L906.4,1295.50 L907.4,1295.50 L908.4,1295.50 L909.4,1295.50 L910.4,1295.50 L911.4,1295.50 L912.4,1295.50 L913.4,1295.50 L914.4,1295.50 L915.4,1295.50 L916.4,1295.50 L917.4,1295.50 L918.4,1295.50 L919.4,1295.50 L920.4,1295.50 L921.4,1295.50 L922.4,1295.50 L923.4,1295.50 L924.4,1295.50 L925.4,1295.50 L926.4,1295.50 L927.4,1295.50 L928.4,1295.50 L929.4,1295.50 L930.4,1295.50 L931.4,1295.50 L932.4,1295.50 L933.4,1295.50 L934.4,1295.50 L935.4,1295.50 L936.4,1295.50 L937.4,1295.50 L938.4,1295.50 L939.4,1295.50 L940.4,1295.50 L941.4,1295.50 L942.4,1295.50 L943.4,1295.50 L944.4,1295.50 L945.4,1295.50 L946.4,1295.50 L947.4,1295.50 L948.4,1295.50 L949.4,1295.50 L950.4,1295.50 L951.4,1295.50 L952.4,1295.50 L953.4,1295.50 L954.4,1295.50 L955.4,1295.50" fill="none" stroke="#BA4240" stroke-width="3.2" stroke-linejoin="round" stroke-linecap="round" />
<path d="M629.4,1358.00 L630.4,1358.00 L631.4,1358.00 L632.4,1358.00 L633.4,1358.00 L634.4,1358.00 L635.4,1358.00 L636.4,1358.00 L637.4,1358.00 L638.4,1358.00 L639.4,1358.00 L640.4,1358.00 L641.4,1358.00 L642.4,1358.00 L643.4,1358.00 L644.4,1358.00 L645.4,1358.00 L646.4,1358.00 L647.4,1358.00 L648.4,1358.00 L649.4,1358.00 L650.4,1358.00 L651.4,1358.00 L652.4,1358.00 L653.4,1358.00 L654.4,1358.00 L655.4,1358.00 L656.4,1358.00 L657.4,1358.00 L658.4,1358.00 L659.4,1358.00 L660.4,1358.00 L661.4,1358.00 L662.4,1358.00 L663.4,1358.00 L664.4,1358.00 L665.4,1358.00 L666.4,1358.00 L667.4,1358.00 L668.4,1358.00 L669.4,1358.00 L670.4,1358.00 L671.4,1358.00 L672.4,1358.00 L673.4,1358.00 L674.4,1358.00 L675.4,1358.00 L676.4,1358.00 L677.4,1358.00 L678.4,1358.00 L679.4,1358.00 L680.4,1358.00 L681.4,1358.00 L682.4,1358.00 L683.4,1358.00 L684.4,1358.00 L685.4,1358.00 L686.4,1358.00 L687.4,1358.00 L688.4,1358.00 L689.4,1358.00 L690.4,1358.00 L691.4,1358.00 L692.4,1358.00 L693.4,1358.00 L694.4,1358.00 L695.4,1358.00 L696.4,1358.00 L697.4,1358.00 L698.4,1358.00 L699.4,1358.00 L700.4,1358.00 L701.4,1358.00 L702.4,1358.00 L703.4,1358.00 L704.4,1358.00 L705.4,1358.00 L706.4,1358.00 L707.4,1358.00 L708.4,1358.00 L709.4,1358.00 L710.4,1358.00 L711.4,1358.00 L712.4,1358.00 L713.4,1358.00 L714.4,1358.00 L715.4,1358.00 L716.4,1358.00 L717.4,1358.00 L718.4,1358.00 L719.4,1358.00 L720.4,1358.00 L721.4,1358.00 L722.4,1358.00 L723.4,1358.00 L724.4,1358.00 L725.4,1358.00 L726.4,1358.00 L727.4,1358.00 L728.4,1357.99 L729.4,1357.99 L730.4,1357.99 L731.4,1357.98 L732.4,1357.97 L733.4,1357.96 L734.4,1357.95 L735.4,1357.93 L736.4,1357.91 L737.4,1357.88 L738.4,1357.85 L739.4,1357.82 L740.4,1357.78 L741.4,1357.75 L742.4,1357.70 L743.4,1357.66 L744.4,1357.62 L745.4,1357.58 L746.4,1357.54 L747.4,1357.51 L748.4,1357.48 L749.4,1357.46 L750.4,1357.44 L751.4,1357.42 L752.4,1357.41 L753.4,1357.40 L754.4,1357.40 L755.4,1357.40 L756.4,1357.41 L757.4,1357.42 L758.4,1357.44 L759.4,1357.47 L760.4,1357.49 L761.4,1357.52 L762.4,1357.54 L763.4,1357.57 L764.4,1357.60 L765.4,1357.62 L766.4,1357.65 L767.4,1357.67 L768.4,1357.70 L769.4,1357.72 L770.4,1357.74 L771.4,1357.77 L772.4,1357.79 L773.4,1357.80 L774.4,1357.82 L775.4,1357.84 L776.4,1357.85 L777.4,1357.87 L778.4,1357.88 L779.4,1357.89 L780.4,1357.91 L781.4,1357.92 L782.4,1357.92 L783.4,1357.93 L784.4,1357.94 L785.4,1357.95 L786.4,1357.95 L787.4,1357.96 L788.4,1357.96 L789.4,1357.97 L790.4,1357.97 L791.4,1357.98 L792.4,1357.98 L793.4,1357.98 L794.4,1357.98 L795.4,1357.99 L796.4,1357.99 L797.4,1357.99 L798.4,1357.99 L799.4,1357.99 L800.4,1357.99 L801.4,1357.99 L802.4,1357.99 L803.4,1358.00 L804.4,1358.00 L805.4,1358.00 L806.4,1358.00 L807.4,1358.00 L808.4,1358.00 L809.4,1358.00 L810.4,1358.00 L811.4,1358.00 L812.4,1358.00 L813.4,1358.00 L814.4,1358.00 L815.4,1358.00 L816.4,1358.00 L817.4,1358.00 L818.4,1358.00 L819.4,1358.00 L820.4,1358.00 L821.4,1358.00 L822.4,1358.00 L823.4,1358.00 L824.4,1358.00 L825.4,1358.00 L826.4,1358.00 L827.4,1358.00 L828.4,1358.00 L829.4,1358.00 L830.4,1358.00 L831.4,1358.00 L832.4,1358.00 L833.4,1358.00 L834.4,1358.00 L835.4,1358.00 L836.4,1358.00 L837.4,1358.00 L838.4,1358.00 L839.4,1358.00 L840.4,1358.00 L841.4,1358.00 L842.4,1358.00 L843.4,1358.00 L844.4,1358.00 L845.4,1358.00 L846.4,1358.00 L847.4,1358.00 L848.4,1358.00 L849.4,1358.00 L850.4,1358.00 L851.4,1358.00 L852.4,1358.00 L853.4,1358.00 L854.4,1358.00 L855.4,1358.00 L856.4,1358.00 L857.4,1358.00 L858.4,1358.00 L859.4,1358.00 L860.4,1358.00 L861.4,1358.00 L862.4,1358.00 L863.4,1358.00 L864.4,1358.00 L865.4,1358.00 L866.4,1358.00 L867.4,1358.00 L868.4,1358.00 L869.4,1358.00 L870.4,1358.00 L871.4,1358.00 L872.4,1358.00 L873.4,1358.00 L874.4,1358.00 L875.4,1358.00 L876.4,1358.00 L877.4,1358.00 L878.4,1358.00 L879.4,1358.00 L880.4,1358.00 L881.4,1358.00 L882.4,1358.00 L883.4,1358.00 L884.4,1358.00 L885.4,1358.00 L886.4,1358.00 L887.4,1358.00 L888.4,1358.00 L889.4,1358.00 L890.4,1358.00 L891.4,1358.00 L892.4,1358.00 L893.4,1358.00 L894.4,1358.00 L895.4,1358.00 L896.4,1358.00 L897.4,1358.00 L898.4,1358.00 L899.4,1358.00 L900.4,1358.00 L901.4,1358.00 L902.4,1358.00 L903.4,1358.00 L904.4,1358.00 L905.4,1358.00 L906.4,1358.00 L907.4,1358.00 L908.4,1358.00 L909.4,1358.00 L910.4,1358.00 L911.4,1358.00 L912.4,1358.00 L913.4,1358.00 L914.4,1358.00 L915.4,1358.00 L916.4,1358.00 L917.4,1358.00 L918.4,1358.00 L919.4,1358.00 L920.4,1358.00 L921.4,1358.00 L922.4,1358.00 L923.4,1358.00 L924.4,1358.00 L925.4,1358.00 L926.4,1358.00 L927.4,1358.00 L928.4,1358.00 L929.4,1358.00 L930.4,1358.00 L931.4,1358.00 L932.4,1358.00 L933.4,1358.00 L934.4,1358.00 L935.4,1358.00 L936.4,1358.00 L937.4,1358.00 L938.4,1358.00 L939.4,1358.00 L940.4,1358.00 L941.4,1358.00 L942.4,1358.00 L943.4,1358.00 L944.4,1358.00 L945.4,1358.00 L946.4,1358.00 L947.4,1358.00 L948.4,1358.00 L949.4,1358.00 L950.4,1358.00 L951.4,1358.00 L952.4,1358.00 L953.4,1358.00 L954.4,1358.00 L955.4,1358.00" fill="none" stroke="#3A72B6" stroke-width="3.2" stroke-linejoin="round" stroke-linecap="round" />
<path d="M629.4,1415.50 L630.4,1415.50 L631.4,1415.50 L632.4,1415.50 L633.4,1415.50 L634.4,1415.50 L635.4,1415.50 L636.4,1415.50 L637.4,1415.50 L638.4,1415.50 L639.4,1415.50 L640.4,1415.50 L641.4,1415.50 L642.4,1415.50 L643.4,1415.50 L644.4,1415.50 L645.4,1415.50 L646.4,1415.50 L647.4,1415.50 L648.4,1415.50 L649.4,1415.50 L650.4,1415.50 L651.4,1415.50 L652.4,1415.50 L653.4,1415.50 L654.4,1415.50 L655.4,1415.50 L656.4,1415.50 L657.4,1415.50 L658.4,1415.50 L659.4,1415.50 L660.4,1415.50 L661.4,1415.50 L662.4,1415.50 L663.4,1415.50 L664.4,1415.50 L665.4,1415.50 L666.4,1415.50 L667.4,1415.50 L668.4,1415.50 L669.4,1415.50 L670.4,1415.50 L671.4,1415.50 L672.4,1415.50 L673.4,1415.50 L674.4,1415.50 L675.4,1415.50 L676.4,1415.50 L677.4,1415.50 L678.4,1415.50 L679.4,1415.50 L680.4,1415.50 L681.4,1415.50 L682.4,1415.50 L683.4,1415.50 L684.4,1415.50 L685.4,1415.50 L686.4,1415.50 L687.4,1415.50 L688.4,1415.50 L689.4,1415.50 L690.4,1415.50 L691.4,1415.50 L692.4,1415.50 L693.4,1415.50 L694.4,1415.50 L695.4,1415.50 L696.4,1415.50 L697.4,1415.50 L698.4,1415.50 L699.4,1415.50 L700.4,1415.50 L701.4,1415.50 L702.4,1415.50 L703.4,1415.50 L704.4,1415.50 L705.4,1415.50 L706.4,1415.50 L707.4,1415.50 L708.4,1415.50 L709.4,1415.50 L710.4,1415.50 L711.4,1415.50 L712.4,1415.50 L713.4,1415.50 L714.4,1415.50 L715.4,1415.49 L716.4,1415.49 L717.4,1415.47 L718.4,1415.46 L719.4,1415.43 L720.4,1415.39 L721.4,1415.33 L722.4,1415.26 L723.4,1415.18 L724.4,1415.08 L725.4,1414.98 L726.4,1414.87 L727.4,1414.78 L728.4,1414.69 L729.4,1414.62 L730.4,1414.56 L731.4,1414.53 L732.4,1414.51 L733.4,1414.50 L734.4,1414.51 L735.4,1414.53 L736.4,1414.56 L737.4,1414.59 L738.4,1414.63 L739.4,1414.68 L740.4,1414.72 L741.4,1414.76 L742.4,1414.81 L743.4,1414.85 L744.4,1414.90 L745.4,1414.94 L746.4,1414.98 L747.4,1415.02 L748.4,1415.06 L749.4,1415.10 L750.4,1415.13 L751.4,1415.16 L752.4,1415.19 L753.4,1415.22 L754.4,1415.25 L755.4,1415.27 L756.4,1415.30 L757.4,1415.32 L758.4,1415.34 L759.4,1415.35 L760.4,1415.37 L761.4,1415.38 L762.4,1415.39 L763.4,1415.39 L764.4,1415.39 L765.4,1415.37 L766.4,1415.32 L767.4,1415.23 L768.4,1415.07 L769.4,1414.80 L770.4,1414.37 L771.4,1413.72 L772.4,1412.79 L773.4,1411.50 L774.4,1409.79 L775.4,1407.62 L776.4,1404.96 L777.4,1401.82 L778.4,1398.28 L779.4,1394.42 L780.4,1390.39 L781.4,1386.35 L782.4,1382.45 L783.4,1378.86 L784.4,1375.72 L785.4,1373.12 L786.4,1371.10 L787.4,1369.68 L788.4,1368.81 L789.4,1368.40 L790.4,1368.30 L791.4,1368.79 L792.4,1369.82 L793.4,1371.15 L794.4,1372.68 L795.4,1374.37 L796.4,1376.16 L797.4,1378.02 L798.4,1379.93 L799.4,1381.85 L800.4,1383.78 L801.4,1385.68 L802.4,1387.55 L803.4,1389.38 L804.4,1391.15 L805.4,1392.86 L806.4,1394.51 L807.4,1396.08 L808.4,1397.57 L809.4,1398.99 L810.4,1400.33 L811.4,1401.59 L812.4,1402.77 L813.4,1403.88 L814.4,1404.91 L815.4,1405.87 L816.4,1406.76 L817.4,1407.58 L818.4,1408.34 L819.4,1409.04 L820.4,1409.67 L821.4,1410.26 L822.4,1410.80 L823.4,1411.28 L824.4,1411.73 L825.4,1412.13 L826.4,1412.49 L827.4,1412.82 L828.4,1413.12 L829.4,1413.39 L830.4,1413.63 L831.4,1413.84 L832.4,1414.03 L833.4,1414.21 L834.4,1414.36 L835.4,1414.50 L836.4,1414.62 L837.4,1414.73 L838.4,1414.82 L839.4,1414.91 L840.4,1414.98 L841.4,1415.05 L842.4,1415.11 L843.4,1415.16 L844.4,1415.20 L845.4,1415.24 L846.4,1415.28 L847.4,1415.31 L848.4,1415.33 L849.4,1415.36 L850.4,1415.38 L851.4,1415.39 L852.4,1415.41 L853.4,1415.42 L854.4,1415.43 L855.4,1415.44 L856.4,1415.45 L857.4,1415.46 L858.4,1415.46 L859.4,1415.47 L860.4,1415.47 L861.4,1415.48 L862.4,1415.48 L863.4,1415.48 L864.4,1415.49 L865.4,1415.49 L866.4,1415.49 L867.4,1415.49 L868.4,1415.49 L869.4,1415.49 L870.4,1415.49 L871.4,1415.50 L872.4,1415.50 L873.4,1415.50 L874.4,1415.50 L875.4,1415.50 L876.4,1415.50 L877.4,1415.50 L878.4,1415.50 L879.4,1415.50 L880.4,1415.50 L881.4,1415.50 L882.4,1415.50 L883.4,1415.50 L884.4,1415.50 L885.4,1415.50 L886.4,1415.50 L887.4,1415.50 L888.4,1415.50 L889.4,1415.50 L890.4,1415.50 L891.4,1415.50 L892.4,1415.50 L893.4,1415.50 L894.4,1415.50 L895.4,1415.50 L896.4,1415.50 L897.4,1415.50 L898.4,1415.50 L899.4,1415.50 L900.4,1415.50 L901.4,1415.50 L902.4,1415.50 L903.4,1415.50 L904.4,1415.50 L905.4,1415.50 L906.4,1415.50 L907.4,1415.50 L908.4,1415.50 L909.4,1415.50 L910.4,1415.50 L911.4,1415.50 L912.4,1415.50 L913.4,1415.50 L914.4,1415.50 L915.4,1415.50 L916.4,1415.50 L917.4,1415.50 L918.4,1415.50 L919.4,1415.50 L920.4,1415.50 L921.4,1415.50 L922.4,1415.50 L923.4,1415.50 L924.4,1415.50 L925.4,1415.50 L926.4,1415.50 L927.4,1415.50 L928.4,1415.50 L929.4,1415.50 L930.4,1415.50 L931.4,1415.50 L932.4,1415.50 L933.4,1415.50 L934.4,1415.50 L935.4,1415.50 L936.4,1415.50 L937.4,1415.50 L938.4,1415.50 L939.4,1415.50 L940.4,1415.50 L941.4,1415.50 L942.4,1415.50 L943.4,1415.50 L944.4,1415.50 L945.4,1415.50 L946.4,1415.50 L947.4,1415.50 L948.4,1415.50 L949.4,1415.50 L950.4,1415.50 L951.4,1415.50 L952.4,1415.50 L953.4,1415.50 L954.4,1415.50 L955.4,1415.50" fill="none" stroke="#8FB447" stroke-width="3.2" stroke-linejoin="round" stroke-linecap="round" />
<path d="M629.4,1476.00 L630.4,1476.00 L631.4,1476.00 L632.4,1476.00 L633.4,1476.00 L634.4,1476.00 L635.4,1476.00 L636.4,1476.00 L637.4,1476.00 L638.4,1476.00 L639.4,1476.00 L640.4,1476.00 L641.4,1476.00 L642.4,1476.00 L643.4,1476.00 L644.4,1476.00 L645.4,1476.00 L646.4,1476.00 L647.4,1476.00 L648.4,1476.00 L649.4,1476.00 L650.4,1476.00 L651.4,1476.00 L652.4,1476.00 L653.4,1476.00 L654.4,1476.00 L655.4,1476.00 L656.4,1476.00 L657.4,1476.00 L658.4,1476.00 L659.4,1476.00 L660.4,1476.00 L661.4,1476.00 L662.4,1476.00 L663.4,1476.00 L664.4,1476.00 L665.4,1476.00 L666.4,1476.00 L667.4,1476.00 L668.4,1476.00 L669.4,1476.00 L670.4,1476.00 L671.4,1476.00 L672.4,1476.00 L673.4,1476.00 L674.4,1476.00 L675.4,1476.00 L676.4,1476.00 L677.4,1476.00 L678.4,1476.00 L679.4,1476.00 L680.4,1476.00 L681.4,1476.00 L682.4,1476.00 L683.4,1476.00 L684.4,1476.00 L685.4,1476.00 L686.4,1476.00 L687.4,1476.00 L688.4,1476.00 L689.4,1476.00 L690.4,1476.00 L691.4,1476.00 L692.4,1476.00 L693.4,1476.00 L694.4,1476.00 L695.4,1476.00 L696.4,1476.00 L697.4,1476.00 L698.4,1476.00 L699.4,1476.00 L700.4,1476.00 L701.4,1476.00 L702.4,1476.00 L703.4,1476.00 L704.4,1476.00 L705.4,1475.99 L706.4,1475.99 L707.4,1475.97 L708.4,1475.94 L709.4,1475.88 L710.4,1475.78 L711.4,1475.60 L712.4,1475.31 L713.4,1474.85 L714.4,1474.16 L715.4,1473.18 L716.4,1471.84 L717.4,1470.07 L718.4,1467.85 L719.4,1465.15 L720.4,1462.02 L721.4,1458.51 L722.4,1454.74 L723.4,1450.83 L724.4,1446.93 L725.4,1443.19 L726.4,1439.76 L727.4,1436.73 L728.4,1434.18 L729.4,1432.16 L730.4,1430.66 L731.4,1429.65 L732.4,1429.05 L733.4,1428.77 L734.4,1428.70 L735.4,1428.77 L736.4,1429.03 L737.4,1429.46 L738.4,1430.03 L739.4,1430.73 L740.4,1431.55 L741.4,1432.48 L742.4,1433.50 L743.4,1434.61 L744.4,1435.79 L745.4,1437.03 L746.4,1438.32 L747.4,1439.67 L748.4,1441.04 L749.4,1442.44 L750.4,1443.86 L751.4,1445.29 L752.4,1446.72 L753.4,1448.15 L754.4,1449.56 L755.4,1450.96 L756.4,1452.33 L757.4,1453.68 L758.4,1454.99 L759.4,1456.27 L760.4,1457.50 L761.4,1458.70 L762.4,1459.85 L763.4,1460.96 L764.4,1462.01 L765.4,1463.02 L766.4,1463.98 L767.4,1464.89 L768.4,1465.75 L769.4,1466.57 L770.4,1467.33 L771.4,1468.05 L772.4,1468.72 L773.4,1469.35 L774.4,1469.94 L775.4,1470.48 L776.4,1470.99 L777.4,1471.46 L778.4,1471.89 L779.4,1472.28 L780.4,1472.65 L781.4,1472.98 L782.4,1473.29 L783.4,1473.57 L784.4,1473.82 L785.4,1474.06 L786.4,1474.27 L787.4,1474.46 L788.4,1474.63 L789.4,1474.78 L790.4,1474.92 L791.4,1475.05 L792.4,1475.16 L793.4,1475.26 L794.4,1475.35 L795.4,1475.43 L796.4,1475.50 L797.4,1475.56 L798.4,1475.62 L799.4,1475.67 L800.4,1475.71 L801.4,1475.75 L802.4,1475.78 L803.4,1475.81 L804.4,1475.84 L805.4,1475.86 L806.4,1475.88 L807.4,1475.89 L808.4,1475.91 L809.4,1475.92 L810.4,1475.93 L811.4,1475.94 L812.4,1475.95 L813.4,1475.96 L814.4,1475.96 L815.4,1475.97 L816.4,1475.97 L817.4,1475.98 L818.4,1475.98 L819.4,1475.98 L820.4,1475.99 L821.4,1475.99 L822.4,1475.99 L823.4,1475.99 L824.4,1475.99 L825.4,1475.99 L826.4,1476.00 L827.4,1476.00 L828.4,1476.00 L829.4,1476.00 L830.4,1476.00 L831.4,1476.00 L832.4,1476.00 L833.4,1476.00 L834.4,1476.00 L835.4,1476.00 L836.4,1476.00 L837.4,1476.00 L838.4,1476.00 L839.4,1476.00 L840.4,1476.00 L841.4,1476.00 L842.4,1476.00 L843.4,1476.00 L844.4,1476.00 L845.4,1476.00 L846.4,1476.00 L847.4,1476.00 L848.4,1476.00 L849.4,1476.00 L850.4,1476.00 L851.4,1476.00 L852.4,1476.00 L853.4,1476.00 L854.4,1476.00 L855.4,1476.00 L856.4,1476.00 L857.4,1476.00 L858.4,1476.00 L859.4,1476.00 L860.4,1476.00 L861.4,1476.00 L862.4,1476.00 L863.4,1476.00 L864.4,1476.00 L865.4,1476.00 L866.4,1476.00 L867.4,1476.00 L868.4,1476.00 L869.4,1476.00 L870.4,1476.00 L871.4,1476.00 L872.4,1476.00 L873.4,1476.00 L874.4,1476.00 L875.4,1476.00 L876.4,1476.00 L877.4,1476.00 L878.4,1476.00 L879.4,1476.00 L880.4,1476.00 L881.4,1476.00 L882.4,1476.00 L883.4,1476.00 L884.4,1476.00 L885.4,1476.00 L886.4,1476.00 L887.4,1476.00 L888.4,1476.00 L889.4,1476.00 L890.4,1476.00 L891.4,1476.00 L892.4,1476.00 L893.4,1476.00 L894.4,1476.00 L895.4,1476.00 L896.4,1476.00 L897.4,1476.00 L898.4,1476.00 L899.4,1476.00 L900.4,1476.00 L901.4,1476.00 L902.4,1476.00 L903.4,1476.00 L904.4,1476.00 L905.4,1476.00 L906.4,1476.00 L907.4,1476.00 L908.4,1476.00 L909.4,1476.00 L910.4,1476.00 L911.4,1476.00 L912.4,1476.00 L913.4,1476.00 L914.4,1476.00 L915.4,1476.00 L916.4,1476.00 L917.4,1476.00 L918.4,1476.00 L919.4,1476.00 L920.4,1476.00 L921.4,1476.00 L922.4,1476.00 L923.4,1476.00 L924.4,1476.00 L925.4,1476.00 L926.4,1476.00 L927.4,1476.00 L928.4,1476.00 L929.4,1476.00 L930.4,1476.00 L931.4,1476.00 L932.4,1476.00 L933.4,1476.00 L934.4,1476.00 L935.4,1476.00 L936.4,1476.00 L937.4,1476.00 L938.4,1476.00 L939.4,1476.00 L940.4,1476.00 L941.4,1476.00 L942.4,1476.00 L943.4,1476.00 L944.4,1476.00 L945.4,1476.00 L946.4,1476.00 L947.4,1476.00 L948.4,1476.00 L949.4,1476.00 L950.4,1476.00 L951.4,1476.00 L952.4,1476.00 L953.4,1476.00 L954.4,1476.00 L955.4,1476.00" fill="none" stroke="#74569B" stroke-width="3.2" stroke-linejoin="round" stroke-linecap="round" />
<line x1="794.30" y1="1238.00" x2="794.30" y2="1424.00" stroke="#001A5A" stroke-width="3.6" stroke-linecap="butt" stroke-dasharray="13.9 10.8"/>
<text transform="translate(623.36,1218.80) scale(1,1.02)" font-size="47.00" font-weight="bold">E</text>
<text transform="translate(667.62,1216.50) scale(1,1.02)" font-size="32.01">[4’-D]-4’-Fluoro-paromamine (</text>
<path d="M856,0L575,0L575,1059Q421,915 212,846L212,1101Q322,1137 451,1238Q580,1339 628,1472L856,1472Z" transform="translate(1089.13,1216.50) scale(0.01563,-0.01526)"/>
<text transform="translate(1106.93,1216.50) scale(1,1.02)" font-size="32.01" font-weight="bold">6</text>
<text transform="translate(1124.73,1216.50) scale(1,1.02)" font-size="32.01">)</text>
<text transform="translate(588.94,1284.40) scale(1,1.02)" font-size="26.20">with AprD4/D3</text>
<text transform="translate(588.94,1345.50) scale(1,1.02)" font-size="26.20">with AprD4/D3</text>
<text transform="translate(588.17,1401.30) scale(1,1.02)" font-size="26.20">standard of </text>
<path d="M856,0L575,0L575,1059Q421,915 212,846L212,1101Q322,1137 451,1238Q580,1339 628,1472L856,1472Z" transform="translate(726.54,1401.30) scale(0.01279,-0.01249)"/>
<text transform="translate(741.11,1401.30) scale(1,1.02)" font-size="26.20" font-weight="bold">6</text>
<text transform="translate(794.47,1462.50) scale(1,1.02)" font-size="26.20">standard of </text>
<text transform="translate(932.84,1462.50) scale(1,1.02)" font-size="26.20" font-weight="bold">4</text>
<text transform="translate(966.64,1289.60) scale(1,1.02)" font-size="30.07">(a) EIC: 349.</text>
<path d="M763,0L583,0L583,1147Q518,1085 412,1023Q306,961 221,930L221,1104Q372,1175 485,1276Q598,1377 645,1472L763,1472Z" transform="translate(1137.10,1289.60) scale(0.01468,-0.01434)"/>
<text transform="translate(1153.82,1289.60) scale(1,1.02)" font-size="30.07">6</text>
<text transform="translate(966.64,1358.30) scale(1,1.02)" font-size="30.07">(b) EIC: 330.</text>
<path d="M763,0L583,0L583,1147Q518,1085 412,1023Q306,961 221,930L221,1104Q372,1175 485,1276Q598,1377 645,1472L763,1472Z" transform="translate(1137.10,1358.30) scale(0.01468,-0.01434)"/>
<text transform="translate(1153.82,1358.30) scale(1,1.02)" font-size="30.07">6</text>
<text transform="translate(966.64,1417.50) scale(1,1.02)" font-size="30.07">(c) EIC: 349.</text>
<path d="M763,0L583,0L583,1147Q518,1085 412,1023Q306,961 221,930L221,1104Q372,1175 485,1276Q598,1377 645,1472L763,1472Z" transform="translate(1135.41,1417.50) scale(0.01468,-0.01434)"/>
<text transform="translate(1152.14,1417.50) scale(1,1.02)" font-size="30.07">6</text>
<text transform="translate(966.64,1478.80) scale(1,1.02)" font-size="30.07">(d) EIC: 330.</text>
<path d="M763,0L583,0L583,1147Q518,1085 412,1023Q306,961 221,930L221,1104Q372,1175 485,1276Q598,1377 645,1472L763,1472Z" transform="translate(1137.10,1478.80) scale(0.01468,-0.01434)"/>
<text transform="translate(1153.82,1478.80) scale(1,1.02)" font-size="30.07">6</text>
<text transform="translate(966.91,1519.00) scale(1,1.02)" font-size="26.10">Time (min)</text>
<line x1="27.80" y1="1867.40" x2="353.40" y2="1867.40" stroke="#A8A8A8" stroke-width="1.8" stroke-linecap="butt" />
<line x1="27.80" y1="1866.50" x2="27.80" y2="1872.40" stroke="#A8A8A8" stroke-width="1.8" stroke-linecap="butt" />
<path d="M763,0L583,0L583,1147Q518,1085 412,1023Q306,961 221,930L221,1104Q372,1175 485,1276Q598,1377 645,1472L763,1472Z" transform="translate(15.96,1899.70) scale(0.01064,-0.01039)"/>
<text transform="translate(28.08,1899.70) scale(1,1.02)" font-size="21.80">5</text>
<line x1="71.07" y1="1866.50" x2="71.07" y2="1872.40" stroke="#A8A8A8" stroke-width="1.8" stroke-linecap="butt" />
<path d="M763,0L583,0L583,1147Q518,1085 412,1023Q306,961 221,930L221,1104Q372,1175 485,1276Q598,1377 645,1472L763,1472Z" transform="translate(59.25,1899.70) scale(0.01064,-0.01039)"/>
<text transform="translate(71.37,1899.70) scale(1,1.02)" font-size="21.80">6</text>
<line x1="114.34" y1="1866.50" x2="114.34" y2="1872.40" stroke="#A8A8A8" stroke-width="1.8" stroke-linecap="butt" />
<path d="M763,0L583,0L583,1147Q518,1085 412,1023Q306,961 221,930L221,1104Q372,1175 485,1276Q598,1377 645,1472L763,1472Z" transform="translate(102.59,1899.70) scale(0.01064,-0.01039)"/>
<text transform="translate(114.71,1899.70) scale(1,1.02)" font-size="21.80">7</text>
<line x1="157.61" y1="1866.50" x2="157.61" y2="1872.40" stroke="#A8A8A8" stroke-width="1.8" stroke-linecap="butt" />
<path d="M763,0L583,0L583,1147Q518,1085 412,1023Q306,961 221,930L221,1104Q372,1175 485,1276Q598,1377 645,1472L763,1472Z" transform="translate(145.78,1899.70) scale(0.01064,-0.01039)"/>
<text transform="translate(157.91,1899.70) scale(1,1.02)" font-size="21.80">8</text>
<line x1="200.88" y1="1866.50" x2="200.88" y2="1872.40" stroke="#A8A8A8" stroke-width="1.8" stroke-linecap="butt" />
<path d="M763,0L583,0L583,1147Q518,1085 412,1023Q306,961 221,930L221,1104Q372,1175 485,1276Q598,1377 645,1472L763,1472Z" transform="translate(189.10,1899.70) scale(0.01064,-0.01039)"/>
<text transform="translate(201.22,1899.70) scale(1,1.02)" font-size="21.80">9</text>
<line x1="244.15" y1="1866.50" x2="244.15" y2="1872.40" stroke="#A8A8A8" stroke-width="1.8" stroke-linecap="butt" />
<text transform="translate(232.90,1899.70) scale(1,1.02)" font-size="21.80">20</text>
<line x1="287.42" y1="1866.50" x2="287.42" y2="1872.40" stroke="#A8A8A8" stroke-width="1.8" stroke-linecap="butt" />
<text transform="translate(277.75,1899.70) scale(1,1.02)" font-size="21.80">2</text>
<path d="M763,0L583,0L583,1147Q518,1085 412,1023Q306,961 221,930L221,1104Q372,1175 485,1276Q598,1377 645,1472L763,1472Z" transform="translate(289.87,1899.70) scale(0.01064,-0.01039)"/>
<line x1="330.69" y1="1866.50" x2="330.69" y2="1872.40" stroke="#A8A8A8" stroke-width="1.8" stroke-linecap="butt" />
<text transform="translate(319.57,1899.70) scale(1,1.02)" font-size="21.80">22</text>
<path d="M27.2,1685.00 L28.2,1685.00 L29.2,1685.00 L30.2,1685.00 L31.2,1685.00 L32.2,1685.00 L33.2,1685.00 L34.2,1685.00 L35.2,1685.00 L36.2,1685.00 L37.2,1685.00 L38.2,1685.00 L39.2,1685.00 L40.2,1685.00 L41.2,1685.00 L42.2,1685.00 L43.2,1685.00 L44.2,1685.00 L45.2,1685.00 L46.2,1685.00 L47.2,1685.00 L48.2,1685.00 L49.2,1685.00 L50.2,1685.00 L51.2,1685.00 L52.2,1685.00 L53.2,1685.00 L54.2,1685.00 L55.2,1685.00 L56.2,1685.00 L57.2,1685.00 L58.2,1685.00 L59.2,1685.00 L60.2,1685.00 L61.2,1685.00 L62.2,1685.00 L63.2,1685.00 L64.2,1685.00 L65.2,1685.00 L66.2,1685.00 L67.2,1685.00 L68.2,1685.00 L69.2,1685.00 L70.2,1685.00 L71.2,1685.00 L72.2,1685.00 L73.2,1685.00 L74.2,1685.00 L75.2,1684.99 L76.2,1684.97 L77.2,1684.93 L78.2,1684.83 L79.2,1684.65 L80.2,1684.31 L81.2,1683.71 L82.2,1682.73 L83.2,1681.24 L84.2,1679.11 L85.2,1676.24 L86.2,1672.62 L87.2,1668.31 L88.2,1663.48 L89.2,1658.40 L90.2,1653.39 L91.2,1648.76 L92.2,1644.79 L93.2,1641.68 L94.2,1639.51 L95.2,1638.22 L96.2,1637.68 L97.2,1637.65 L98.2,1638.45 L99.2,1639.71 L100.2,1641.27 L101.2,1643.03 L102.2,1644.93 L103.2,1646.92 L104.2,1648.97 L105.2,1651.04 L106.2,1653.12 L107.2,1655.18 L108.2,1657.19 L109.2,1659.16 L110.2,1661.05 L111.2,1662.88 L112.2,1664.62 L113.2,1666.28 L114.2,1667.85 L115.2,1669.33 L116.2,1670.71 L117.2,1672.01 L118.2,1673.21 L119.2,1674.33 L120.2,1675.37 L121.2,1676.32 L122.2,1677.20 L123.2,1678.00 L124.2,1678.73 L125.2,1679.40 L126.2,1680.01 L127.2,1680.56 L128.2,1681.06 L129.2,1681.50 L130.2,1681.91 L131.2,1682.27 L132.2,1682.59 L133.2,1682.88 L134.2,1683.14 L135.2,1683.37 L136.2,1683.57 L137.2,1683.75 L138.2,1683.91 L139.2,1684.05 L140.2,1684.18 L141.2,1684.29 L142.2,1684.38 L143.2,1684.46 L144.2,1684.54 L145.2,1684.60 L146.2,1684.66 L147.2,1684.70 L148.2,1684.75 L149.2,1684.78 L150.2,1684.81 L151.2,1684.84 L152.2,1684.86 L153.2,1684.88 L154.2,1684.90 L155.2,1684.92 L156.2,1684.93 L157.2,1684.94 L158.2,1684.95 L159.2,1684.96 L160.2,1684.96 L161.2,1684.97 L162.2,1684.97 L163.2,1684.98 L164.2,1684.98 L165.2,1684.98 L166.2,1684.99 L167.2,1684.99 L168.2,1684.99 L169.2,1684.99 L170.2,1684.99 L171.2,1684.99 L172.2,1685.00 L173.2,1685.00 L174.2,1685.00 L175.2,1685.00 L176.2,1685.00 L177.2,1685.00 L178.2,1685.00 L179.2,1685.00 L180.2,1685.00 L181.2,1685.00 L182.2,1685.00 L183.2,1685.00 L184.2,1685.00 L185.2,1685.00 L186.2,1685.00 L187.2,1685.00 L188.2,1685.00 L189.2,1685.00 L190.2,1685.00 L191.2,1685.00 L192.2,1685.00 L193.2,1685.00 L194.2,1685.00 L195.2,1685.00 L196.2,1685.00 L197.2,1685.00 L198.2,1685.00 L199.2,1685.00 L200.2,1685.00 L201.2,1685.00 L202.2,1685.00 L203.2,1685.00 L204.2,1685.00 L205.2,1685.00 L206.2,1685.00 L207.2,1685.00 L208.2,1685.00 L209.2,1685.00 L210.2,1685.00 L211.2,1685.00 L212.2,1685.00 L213.2,1685.00 L214.2,1685.00 L215.2,1685.00 L216.2,1685.00 L217.2,1685.00 L218.2,1685.00 L219.2,1685.00 L220.2,1685.00 L221.2,1685.00 L222.2,1685.00 L223.2,1685.00 L224.2,1685.00 L225.2,1685.00 L226.2,1685.00 L227.2,1685.00 L228.2,1685.00 L229.2,1685.00 L230.2,1685.00 L231.2,1685.00 L232.2,1685.00 L233.2,1685.00 L234.2,1685.00 L235.2,1685.00 L236.2,1685.00 L237.2,1685.00 L238.2,1685.00 L239.2,1685.00 L240.2,1685.00 L241.2,1685.00 L242.2,1685.00 L243.2,1685.00 L244.2,1685.00 L245.2,1685.00 L246.2,1685.00 L247.2,1685.00 L248.2,1685.00 L249.2,1685.00 L250.2,1685.00 L251.2,1685.00 L252.2,1685.00 L253.2,1685.00 L254.2,1685.00 L255.2,1685.00 L256.2,1685.00 L257.2,1685.00 L258.2,1685.00 L259.2,1685.00 L260.2,1685.00 L261.2,1685.00 L262.2,1685.00 L263.2,1685.00 L264.2,1685.00 L265.2,1685.00 L266.2,1685.00 L267.2,1685.00 L268.2,1685.00 L269.2,1685.00 L270.2,1685.00 L271.2,1685.00 L272.2,1685.00 L273.2,1685.00 L274.2,1685.00 L275.2,1685.00 L276.2,1685.00 L277.2,1685.00 L278.2,1685.00 L279.2,1685.00 L280.2,1685.00 L281.2,1685.00 L282.2,1685.00 L283.2,1685.00 L284.2,1685.00 L285.2,1685.00 L286.2,1685.00 L287.2,1685.00 L288.2,1685.00 L289.2,1685.00 L290.2,1685.00 L291.2,1685.00 L292.2,1685.00 L293.2,1685.00 L294.2,1685.00 L295.2,1685.00 L296.2,1685.00 L297.2,1685.00 L298.2,1685.00 L299.2,1685.00 L300.2,1685.00 L301.2,1685.00 L302.2,1685.00 L303.2,1685.00 L304.2,1685.00 L305.2,1685.00 L306.2,1685.00 L307.2,1685.00 L308.2,1685.00 L309.2,1685.00 L310.2,1685.00 L311.2,1685.00 L312.2,1685.00 L313.2,1685.00 L314.2,1685.00 L315.2,1685.00 L316.2,1685.00 L317.2,1685.00 L318.2,1685.00 L319.2,1685.00 L320.2,1685.00 L321.2,1685.00 L322.2,1685.00 L323.2,1685.00 L324.2,1685.00 L325.2,1685.00 L326.2,1685.00 L327.2,1685.00 L328.2,1685.00 L329.2,1685.00 L330.2,1685.00 L331.2,1685.00 L332.2,1685.00 L333.2,1685.00 L334.2,1685.00 L335.2,1685.00 L336.2,1685.00 L337.2,1685.00 L338.2,1685.00 L339.2,1685.00 L340.2,1685.00 L341.2,1685.00 L342.2,1685.00 L343.2,1685.00 L344.2,1685.00 L345.2,1685.00 L346.2,1685.00 L347.2,1685.00 L348.2,1685.00 L349.2,1685.00 L350.2,1685.00 L351.2,1685.00 L352.2,1685.00 L353.2,1685.00" fill="none" stroke="#BA4240" stroke-width="3.2" stroke-linejoin="round" stroke-linecap="round" />
<path d="M27.2,1744.80 L28.2,1744.80 L29.2,1744.80 L30.2,1744.80 L31.2,1744.80 L32.2,1744.80 L33.2,1744.80 L34.2,1744.80 L35.2,1744.80 L36.2,1744.80 L37.2,1744.80 L38.2,1744.80 L39.2,1744.80 L40.2,1744.80 L41.2,1744.80 L42.2,1744.80 L43.2,1744.80 L44.2,1744.80 L45.2,1744.80 L46.2,1744.80 L47.2,1744.80 L48.2,1744.80 L49.2,1744.80 L50.2,1744.80 L51.2,1744.80 L52.2,1744.80 L53.2,1744.80 L54.2,1744.80 L55.2,1744.80 L56.2,1744.80 L57.2,1744.80 L58.2,1744.80 L59.2,1744.80 L60.2,1744.80 L61.2,1744.80 L62.2,1744.80 L63.2,1744.80 L64.2,1744.80 L65.2,1744.80 L66.2,1744.80 L67.2,1744.80 L68.2,1744.80 L69.2,1744.80 L70.2,1744.80 L71.2,1744.80 L72.2,1744.80 L73.2,1744.80 L74.2,1744.80 L75.2,1744.80 L76.2,1744.80 L77.2,1744.80 L78.2,1744.80 L79.2,1744.80 L80.2,1744.80 L81.2,1744.80 L82.2,1744.80 L83.2,1744.80 L84.2,1744.80 L85.2,1744.80 L86.2,1744.80 L87.2,1744.80 L88.2,1744.80 L89.2,1744.80 L90.2,1744.80 L91.2,1744.80 L92.2,1744.80 L93.2,1744.80 L94.2,1744.80 L95.2,1744.80 L96.2,1744.80 L97.2,1744.80 L98.2,1744.80 L99.2,1744.80 L100.2,1744.80 L101.2,1744.80 L102.2,1744.80 L103.2,1744.80 L104.2,1744.80 L105.2,1744.80 L106.2,1744.80 L107.2,1744.80 L108.2,1744.80 L109.2,1744.80 L110.2,1744.80 L111.2,1744.79 L112.2,1744.79 L113.2,1744.77 L114.2,1744.74 L115.2,1744.69 L116.2,1744.61 L117.2,1744.49 L118.2,1744.30 L119.2,1744.04 L120.2,1743.70 L121.2,1743.27 L122.2,1742.77 L123.2,1742.20 L124.2,1741.59 L125.2,1740.98 L126.2,1740.40 L127.2,1739.88 L128.2,1739.45 L129.2,1739.12 L130.2,1738.89 L131.2,1738.76 L132.2,1738.71 L133.2,1738.71 L134.2,1738.81 L135.2,1738.97 L136.2,1739.16 L137.2,1739.37 L138.2,1739.60 L139.2,1739.84 L140.2,1740.09 L141.2,1740.34 L142.2,1740.60 L143.2,1740.85 L144.2,1741.10 L145.2,1741.34 L146.2,1741.58 L147.2,1741.81 L148.2,1742.03 L149.2,1742.24 L150.2,1742.44 L151.2,1742.63 L152.2,1742.81 L153.2,1742.97 L154.2,1743.13 L155.2,1743.28 L156.2,1743.42 L157.2,1743.54 L158.2,1743.66 L159.2,1743.77 L160.2,1743.87 L161.2,1743.96 L162.2,1744.05 L163.2,1744.13 L164.2,1744.20 L165.2,1744.26 L166.2,1744.32 L167.2,1744.37 L168.2,1744.42 L169.2,1744.46 L170.2,1744.50 L171.2,1744.53 L172.2,1744.56 L173.2,1744.59 L174.2,1744.62 L175.2,1744.64 L176.2,1744.66 L177.2,1744.68 L178.2,1744.69 L179.2,1744.71 L180.2,1744.72 L181.2,1744.73 L182.2,1744.74 L183.2,1744.75 L184.2,1744.75 L185.2,1744.76 L186.2,1744.76 L187.2,1744.77 L188.2,1744.77 L189.2,1744.78 L190.2,1744.78 L191.2,1744.78 L192.2,1744.79 L193.2,1744.79 L194.2,1744.79 L195.2,1744.79 L196.2,1744.79 L197.2,1744.79 L198.2,1744.79 L199.2,1744.80 L200.2,1744.80 L201.2,1744.80 L202.2,1744.80 L203.2,1744.80 L204.2,1744.80 L205.2,1744.80 L206.2,1744.80 L207.2,1744.80 L208.2,1744.80 L209.2,1744.80 L210.2,1744.80 L211.2,1744.80 L212.2,1744.80 L213.2,1744.80 L214.2,1744.80 L215.2,1744.80 L216.2,1744.80 L217.2,1744.80 L218.2,1744.80 L219.2,1744.80 L220.2,1744.80 L221.2,1744.80 L222.2,1744.80 L223.2,1744.80 L224.2,1744.80 L225.2,1744.80 L226.2,1744.80 L227.2,1744.80 L228.2,1744.80 L229.2,1744.80 L230.2,1744.80 L231.2,1744.80 L232.2,1744.80 L233.2,1744.80 L234.2,1744.80 L235.2,1744.80 L236.2,1744.80 L237.2,1744.80 L238.2,1744.80 L239.2,1744.80 L240.2,1744.80 L241.2,1744.80 L242.2,1744.80 L243.2,1744.80 L244.2,1744.80 L245.2,1744.80 L246.2,1744.80 L247.2,1744.80 L248.2,1744.80 L249.2,1744.80 L250.2,1744.80 L251.2,1744.80 L252.2,1744.80 L253.2,1744.80 L254.2,1744.80 L255.2,1744.80 L256.2,1744.80 L257.2,1744.80 L258.2,1744.80 L259.2,1744.80 L260.2,1744.80 L261.2,1744.80 L262.2,1744.80 L263.2,1744.80 L264.2,1744.80 L265.2,1744.80 L266.2,1744.80 L267.2,1744.80 L268.2,1744.80 L269.2,1744.80 L270.2,1744.80 L271.2,1744.80 L272.2,1744.80 L273.2,1744.80 L274.2,1744.80 L275.2,1744.80 L276.2,1744.80 L277.2,1744.80 L278.2,1744.80 L279.2,1744.80 L280.2,1744.80 L281.2,1744.80 L282.2,1744.80 L283.2,1744.80 L284.2,1744.80 L285.2,1744.80 L286.2,1744.80 L287.2,1744.80 L288.2,1744.80 L289.2,1744.80 L290.2,1744.80 L291.2,1744.80 L292.2,1744.80 L293.2,1744.80 L294.2,1744.80 L295.2,1744.80 L296.2,1744.80 L297.2,1744.80 L298.2,1744.80 L299.2,1744.80 L300.2,1744.80 L301.2,1744.80 L302.2,1744.80 L303.2,1744.80 L304.2,1744.80 L305.2,1744.80 L306.2,1744.80 L307.2,1744.80 L308.2,1744.80 L309.2,1744.80 L310.2,1744.80 L311.2,1744.80 L312.2,1744.80 L313.2,1744.80 L314.2,1744.80 L315.2,1744.80 L316.2,1744.80 L317.2,1744.80 L318.2,1744.80 L319.2,1744.80 L320.2,1744.80 L321.2,1744.80 L322.2,1744.80 L323.2,1744.80 L324.2,1744.80 L325.2,1744.80 L326.2,1744.80 L327.2,1744.80 L328.2,1744.80 L329.2,1744.80 L330.2,1744.80 L331.2,1744.80 L332.2,1744.80 L333.2,1744.80 L334.2,1744.80 L335.2,1744.80 L336.2,1744.80 L337.2,1744.80 L338.2,1744.80 L339.2,1744.80 L340.2,1744.80 L341.2,1744.80 L342.2,1744.80 L343.2,1744.80 L344.2,1744.80 L345.2,1744.80 L346.2,1744.80 L347.2,1744.80 L348.2,1744.80 L349.2,1744.80 L350.2,1744.80 L351.2,1744.80 L352.2,1744.80 L353.2,1744.80" fill="none" stroke="#3A72B6" stroke-width="3.2" stroke-linejoin="round" stroke-linecap="round" />
<path d="M27.2,1802.50 L28.2,1802.50 L29.2,1802.50 L30.2,1802.50 L31.2,1802.50 L32.2,1802.50 L33.2,1802.50 L34.2,1802.50 L35.2,1802.50 L36.2,1802.50 L37.2,1802.50 L38.2,1802.50 L39.2,1802.50 L40.2,1802.50 L41.2,1802.50 L42.2,1802.50 L43.2,1802.50 L44.2,1802.50 L45.2,1802.50 L46.2,1802.50 L47.2,1802.50 L48.2,1802.50 L49.2,1802.50 L50.2,1802.50 L51.2,1802.50 L52.2,1802.50 L53.2,1802.50 L54.2,1802.50 L55.2,1802.50 L56.2,1802.50 L57.2,1802.50 L58.2,1802.50 L59.2,1802.50 L60.2,1802.50 L61.2,1802.50 L62.2,1802.50 L63.2,1802.50 L64.2,1802.50 L65.2,1802.50 L66.2,1802.50 L67.2,1802.50 L68.2,1802.50 L69.2,1802.50 L70.2,1802.49 L71.2,1802.48 L72.2,1802.47 L73.2,1802.43 L74.2,1802.37 L75.2,1802.25 L76.2,1802.06 L77.2,1801.76 L78.2,1801.29 L79.2,1800.58 L80.2,1799.59 L81.2,1798.22 L82.2,1796.44 L83.2,1794.18 L84.2,1791.44 L85.2,1788.23 L86.2,1784.63 L87.2,1780.74 L88.2,1776.68 L89.2,1772.63 L90.2,1768.74 L91.2,1765.17 L92.2,1762.05 L93.2,1759.47 L94.2,1757.47 L95.2,1756.07 L96.2,1755.21 L97.2,1754.80 L98.2,1754.70 L99.2,1755.30 L100.2,1756.58 L101.2,1758.21 L102.2,1760.08 L103.2,1762.11 L104.2,1764.26 L105.2,1766.46 L106.2,1768.69 L107.2,1770.91 L108.2,1773.11 L109.2,1775.25 L110.2,1777.33 L111.2,1779.33 L112.2,1781.24 L113.2,1783.05 L114.2,1784.77 L115.2,1786.38 L116.2,1787.88 L117.2,1789.28 L118.2,1790.58 L119.2,1791.78 L120.2,1792.89 L121.2,1793.90 L122.2,1794.82 L123.2,1795.67 L124.2,1796.43 L125.2,1797.12 L126.2,1797.74 L127.2,1798.30 L128.2,1798.81 L129.2,1799.25 L130.2,1799.66 L131.2,1800.01 L132.2,1800.33 L133.2,1800.61 L134.2,1800.85 L135.2,1801.07 L136.2,1801.26 L137.2,1801.43 L138.2,1801.58 L139.2,1801.71 L140.2,1801.82 L141.2,1801.91 L142.2,1802.00 L143.2,1802.07 L144.2,1802.13 L145.2,1802.19 L146.2,1802.23 L147.2,1802.27 L148.2,1802.31 L149.2,1802.34 L150.2,1802.36 L151.2,1802.38 L152.2,1802.40 L153.2,1802.42 L154.2,1802.43 L155.2,1802.44 L156.2,1802.45 L157.2,1802.46 L158.2,1802.47 L159.2,1802.47 L160.2,1802.48 L161.2,1802.48 L162.2,1802.48 L163.2,1802.49 L164.2,1802.49 L165.2,1802.49 L166.2,1802.49 L167.2,1802.49 L168.2,1802.49 L169.2,1802.50 L170.2,1802.50 L171.2,1802.50 L172.2,1802.50 L173.2,1802.50 L174.2,1802.50 L175.2,1802.50 L176.2,1802.50 L177.2,1802.50 L178.2,1802.50 L179.2,1802.50 L180.2,1802.50 L181.2,1802.50 L182.2,1802.50 L183.2,1802.50 L184.2,1802.50 L185.2,1802.50 L186.2,1802.50 L187.2,1802.50 L188.2,1802.50 L189.2,1802.50 L190.2,1802.50 L191.2,1802.50 L192.2,1802.50 L193.2,1802.50 L194.2,1802.50 L195.2,1802.50 L196.2,1802.50 L197.2,1802.50 L198.2,1802.50 L199.2,1802.50 L200.2,1802.50 L201.2,1802.50 L202.2,1802.50 L203.2,1802.50 L204.2,1802.50 L205.2,1802.50 L206.2,1802.50 L207.2,1802.50 L208.2,1802.50 L209.2,1802.50 L210.2,1802.50 L211.2,1802.50 L212.2,1802.50 L213.2,1802.50 L214.2,1802.50 L215.2,1802.50 L216.2,1802.50 L217.2,1802.50 L218.2,1802.50 L219.2,1802.50 L220.2,1802.50 L221.2,1802.50 L222.2,1802.50 L223.2,1802.50 L224.2,1802.50 L225.2,1802.50 L226.2,1802.50 L227.2,1802.50 L228.2,1802.50 L229.2,1802.50 L230.2,1802.50 L231.2,1802.50 L232.2,1802.50 L233.2,1802.50 L234.2,1802.50 L235.2,1802.50 L236.2,1802.50 L237.2,1802.50 L238.2,1802.50 L239.2,1802.50 L240.2,1802.50 L241.2,1802.50 L242.2,1802.50 L243.2,1802.50 L244.2,1802.50 L245.2,1802.50 L246.2,1802.50 L247.2,1802.50 L248.2,1802.50 L249.2,1802.50 L250.2,1802.50 L251.2,1802.50 L252.2,1802.50 L253.2,1802.50 L254.2,1802.50 L255.2,1802.50 L256.2,1802.50 L257.2,1802.50 L258.2,1802.50 L259.2,1802.50 L260.2,1802.50 L261.2,1802.50 L262.2,1802.50 L263.2,1802.50 L264.2,1802.50 L265.2,1802.50 L266.2,1802.50 L267.2,1802.50 L268.2,1802.50 L269.2,1802.50 L270.2,1802.50 L271.2,1802.50 L272.2,1802.50 L273.2,1802.50 L274.2,1802.50 L275.2,1802.50 L276.2,1802.50 L277.2,1802.50 L278.2,1802.50 L279.2,1802.50 L280.2,1802.50 L281.2,1802.50 L282.2,1802.50 L283.2,1802.50 L284.2,1802.50 L285.2,1802.50 L286.2,1802.50 L287.2,1802.50 L288.2,1802.50 L289.2,1802.50 L290.2,1802.50 L291.2,1802.50 L292.2,1802.50 L293.2,1802.50 L294.2,1802.50 L295.2,1802.50 L296.2,1802.50 L297.2,1802.50 L298.2,1802.50 L299.2,1802.50 L300.2,1802.50 L301.2,1802.50 L302.2,1802.50 L303.2,1802.50 L304.2,1802.50 L305.2,1802.50 L306.2,1802.50 L307.2,1802.50 L308.2,1802.50 L309.2,1802.50 L310.2,1802.50 L311.2,1802.50 L312.2,1802.50 L313.2,1802.50 L314.2,1802.50 L315.2,1802.50 L316.2,1802.50 L317.2,1802.50 L318.2,1802.50 L319.2,1802.50 L320.2,1802.50 L321.2,1802.50 L322.2,1802.50 L323.2,1802.50 L324.2,1802.50 L325.2,1802.50 L326.2,1802.50 L327.2,1802.50 L328.2,1802.50 L329.2,1802.50 L330.2,1802.50 L331.2,1802.50 L332.2,1802.50 L333.2,1802.50 L334.2,1802.50 L335.2,1802.50 L336.2,1802.50 L337.2,1802.50 L338.2,1802.50 L339.2,1802.50 L340.2,1802.50 L341.2,1802.50 L342.2,1802.50 L343.2,1802.50 L344.2,1802.50 L345.2,1802.50 L346.2,1802.50 L347.2,1802.50 L348.2,1802.50 L349.2,1802.50 L350.2,1802.50 L351.2,1802.50 L352.2,1802.50 L353.2,1802.50" fill="none" stroke="#8FB447" stroke-width="3.2" stroke-linejoin="round" stroke-linecap="round" />
<path d="M27.2,1862.90 L28.2,1862.90 L29.2,1862.90 L30.2,1862.90 L31.2,1862.90 L32.2,1862.90 L33.2,1862.90 L34.2,1862.90 L35.2,1862.90 L36.2,1862.90 L37.2,1862.90 L38.2,1862.90 L39.2,1862.90 L40.2,1862.90 L41.2,1862.90 L42.2,1862.90 L43.2,1862.90 L44.2,1862.90 L45.2,1862.90 L46.2,1862.90 L47.2,1862.90 L48.2,1862.90 L49.2,1862.90 L50.2,1862.90 L51.2,1862.90 L52.2,1862.90 L53.2,1862.90 L54.2,1862.90 L55.2,1862.90 L56.2,1862.90 L57.2,1862.90 L58.2,1862.90 L59.2,1862.90 L60.2,1862.89 L61.2,1862.89 L62.2,1862.89 L63.2,1862.89 L64.2,1862.88 L65.2,1862.88 L66.2,1862.87 L67.2,1862.86 L68.2,1862.85 L69.2,1862.84 L70.2,1862.82 L71.2,1862.80 L72.2,1862.78 L73.2,1862.75 L74.2,1862.72 L75.2,1862.69 L76.2,1862.65 L77.2,1862.60 L78.2,1862.55 L79.2,1862.49 L80.2,1862.43 L81.2,1862.37 L82.2,1862.29 L83.2,1862.22 L84.2,1862.14 L85.2,1862.06 L86.2,1861.97 L87.2,1861.89 L88.2,1861.81 L89.2,1861.73 L90.2,1861.66 L91.2,1861.60 L92.2,1861.54 L93.2,1861.49 L94.2,1861.45 L95.2,1861.42 L96.2,1861.40 L97.2,1861.40 L98.2,1861.41 L99.2,1861.43 L100.2,1861.46 L101.2,1861.50 L102.2,1861.55 L103.2,1861.60 L104.2,1861.66 L105.2,1861.71 L106.2,1861.73 L107.2,1861.72 L108.2,1861.64 L109.2,1861.47 L110.2,1861.14 L111.2,1860.62 L112.2,1859.83 L113.2,1858.72 L114.2,1857.22 L115.2,1855.29 L116.2,1852.92 L117.2,1850.11 L118.2,1846.90 L119.2,1843.38 L120.2,1839.65 L121.2,1835.85 L122.2,1832.10 L123.2,1828.55 L124.2,1825.31 L125.2,1822.49 L126.2,1820.13 L127.2,1818.26 L128.2,1816.88 L129.2,1815.95 L130.2,1815.41 L131.2,1815.15 L132.2,1815.09 L133.2,1815.16 L134.2,1815.44 L135.2,1815.90 L136.2,1816.51 L137.2,1817.26 L138.2,1818.13 L139.2,1819.11 L140.2,1820.19 L141.2,1821.36 L142.2,1822.60 L143.2,1823.91 L144.2,1825.27 L145.2,1826.68 L146.2,1828.12 L147.2,1829.59 L148.2,1831.07 L149.2,1832.55 L150.2,1834.04 L151.2,1835.51 L152.2,1836.97 L153.2,1838.41 L154.2,1839.82 L155.2,1841.20 L156.2,1842.54 L157.2,1843.84 L158.2,1845.10 L159.2,1846.30 L160.2,1847.46 L161.2,1848.57 L162.2,1849.63 L163.2,1850.63 L164.2,1851.59 L165.2,1852.49 L166.2,1853.33 L167.2,1854.13 L168.2,1854.88 L169.2,1855.58 L170.2,1856.23 L171.2,1856.83 L172.2,1857.39 L173.2,1857.91 L174.2,1858.39 L175.2,1858.83 L176.2,1859.24 L177.2,1859.61 L178.2,1859.95 L179.2,1860.26 L180.2,1860.54 L181.2,1860.79 L182.2,1861.02 L183.2,1861.23 L184.2,1861.42 L185.2,1861.59 L186.2,1861.74 L187.2,1861.88 L188.2,1862.00 L189.2,1862.11 L190.2,1862.21 L191.2,1862.30 L192.2,1862.37 L193.2,1862.44 L194.2,1862.50 L195.2,1862.55 L196.2,1862.60 L197.2,1862.64 L198.2,1862.67 L199.2,1862.70 L200.2,1862.73 L201.2,1862.76 L202.2,1862.78 L203.2,1862.79 L204.2,1862.81 L205.2,1862.82 L206.2,1862.83 L207.2,1862.84 L208.2,1862.85 L209.2,1862.86 L210.2,1862.87 L211.2,1862.87 L212.2,1862.88 L213.2,1862.88 L214.2,1862.88 L215.2,1862.89 L216.2,1862.89 L217.2,1862.89 L218.2,1862.89 L219.2,1862.89 L220.2,1862.89 L221.2,1862.90 L222.2,1862.90 L223.2,1862.90 L224.2,1862.90 L225.2,1862.90 L226.2,1862.90 L227.2,1862.90 L228.2,1862.90 L229.2,1862.90 L230.2,1862.90 L231.2,1862.90 L232.2,1862.90 L233.2,1862.90 L234.2,1862.90 L235.2,1862.90 L236.2,1862.90 L237.2,1862.90 L238.2,1862.90 L239.2,1862.90 L240.2,1862.90 L241.2,1862.90 L242.2,1862.90 L243.2,1862.90 L244.2,1862.90 L245.2,1862.90 L246.2,1862.90 L247.2,1862.90 L248.2,1862.90 L249.2,1862.90 L250.2,1862.90 L251.2,1862.90 L252.2,1862.90 L253.2,1862.90 L254.2,1862.90 L255.2,1862.90 L256.2,1862.90 L257.2,1862.90 L258.2,1862.90 L259.2,1862.90 L260.2,1862.90 L261.2,1862.90 L262.2,1862.90 L263.2,1862.90 L264.2,1862.90 L265.2,1862.90 L266.2,1862.90 L267.2,1862.90 L268.2,1862.90 L269.2,1862.90 L270.2,1862.90 L271.2,1862.90 L272.2,1862.90 L273.2,1862.90 L274.2,1862.90 L275.2,1862.90 L276.2,1862.90 L277.2,1862.90 L278.2,1862.90 L279.2,1862.90 L280.2,1862.90 L281.2,1862.90 L282.2,1862.90 L283.2,1862.90 L284.2,1862.90 L285.2,1862.90 L286.2,1862.90 L287.2,1862.90 L288.2,1862.90 L289.2,1862.90 L290.2,1862.90 L291.2,1862.90 L292.2,1862.90 L293.2,1862.90 L294.2,1862.90 L295.2,1862.90 L296.2,1862.90 L297.2,1862.90 L298.2,1862.90 L299.2,1862.90 L300.2,1862.90 L301.2,1862.90 L302.2,1862.90 L303.2,1862.90 L304.2,1862.90 L305.2,1862.90 L306.2,1862.90 L307.2,1862.90 L308.2,1862.90 L309.2,1862.90 L310.2,1862.90 L311.2,1862.90 L312.2,1862.90 L313.2,1862.90 L314.2,1862.90 L315.2,1862.90 L316.2,1862.90 L317.2,1862.90 L318.2,1862.90 L319.2,1862.90 L320.2,1862.90 L321.2,1862.90 L322.2,1862.90 L323.2,1862.90 L324.2,1862.90 L325.2,1862.90 L326.2,1862.90 L327.2,1862.90 L328.2,1862.90 L329.2,1862.90 L330.2,1862.90 L331.2,1862.90 L332.2,1862.90 L333.2,1862.90 L334.2,1862.90 L335.2,1862.90 L336.2,1862.90 L337.2,1862.90 L338.2,1862.90 L339.2,1862.90 L340.2,1862.90 L341.2,1862.90 L342.2,1862.90 L343.2,1862.90 L344.2,1862.90 L345.2,1862.90 L346.2,1862.90 L347.2,1862.90 L348.2,1862.90 L349.2,1862.90 L350.2,1862.90 L351.2,1862.90 L352.2,1862.90 L353.2,1862.90" fill="none" stroke="#74569B" stroke-width="3.2" stroke-linejoin="round" stroke-linecap="round" />
<line x1="99.30" y1="1622.50" x2="97.40" y2="1801.50" stroke="#001A5A" stroke-width="3.6" stroke-linecap="butt" stroke-dasharray="13.9 10.8"/>
<line x1="135.90" y1="1710.00" x2="135.90" y2="1860.40" stroke="#C20000" stroke-width="3.6" stroke-linecap="butt" stroke-dasharray="13.9 10.8"/>
<text transform="translate(13.06,1604.30) scale(1,1.02)" font-size="47.00" font-weight="bold">F</text>
<text transform="translate(52.01,1594.30) scale(1,1.02)" font-size="32.06">(3’</text>
<text transform="translate(87.64,1594.30) scale(1,1.02)" font-size="32.06" font-style="italic">S</text>
<text transform="translate(109.03,1594.30) scale(1,1.02)" font-size="32.06">)-3’-Fluoro-paromamine (</text>
<path d="M856,0L575,0L575,1059Q421,915 212,846L212,1101Q322,1137 451,1238Q580,1339 628,1472L856,1472Z" transform="translate(465.35,1594.30) scale(0.01565,-0.01528)"/>
<text transform="translate(483.18,1594.30) scale(1,1.02)" font-size="32.06" font-weight="bold">7</text>
<text transform="translate(501.01,1594.30) scale(1,1.02)" font-size="32.06">)</text>
<text transform="translate(182.74,1669.60) scale(1,1.02)" font-size="26.20">with AprD4/D3</text>
<text transform="translate(182.74,1727.80) scale(1,1.02)" font-size="26.20">with AprD4/D3</text>
<text transform="translate(183.47,1789.20) scale(1,1.02)" font-size="26.20">standard of </text>
<path d="M856,0L575,0L575,1059Q421,915 212,846L212,1101Q322,1137 451,1238Q580,1339 628,1472L856,1472Z" transform="translate(321.84,1789.20) scale(0.01279,-0.01249)"/>
<text transform="translate(336.41,1789.20) scale(1,1.02)" font-size="26.20" font-weight="bold">7</text>
<text transform="translate(188.07,1849.00) scale(1,1.02)" font-size="26.20">standard of </text>
<text transform="translate(326.44,1849.00) scale(1,1.02)" font-size="26.20" font-weight="bold">4</text>
<text transform="translate(365.44,1683.20) scale(1,1.02)" font-size="30.07">(a) EIC: 348.</text>
<path d="M763,0L583,0L583,1147Q518,1085 412,1023Q306,961 221,930L221,1104Q372,1175 485,1276Q598,1377 645,1472L763,1472Z" transform="translate(535.90,1683.20) scale(0.01468,-0.01434)"/>
<text transform="translate(552.62,1683.20) scale(1,1.02)" font-size="30.07">5</text>
<text transform="translate(365.44,1746.40) scale(1,1.02)" font-size="30.07">(b) EIC: 330.</text>
<path d="M763,0L583,0L583,1147Q518,1085 412,1023Q306,961 221,930L221,1104Q372,1175 485,1276Q598,1377 645,1472L763,1472Z" transform="translate(535.90,1746.40) scale(0.01468,-0.01434)"/>
<text transform="translate(552.62,1746.40) scale(1,1.02)" font-size="30.07">6</text>
<text transform="translate(365.44,1804.20) scale(1,1.02)" font-size="30.07">(c) EIC: 348.</text>
<path d="M763,0L583,0L583,1147Q518,1085 412,1023Q306,961 221,930L221,1104Q372,1175 485,1276Q598,1377 645,1472L763,1472Z" transform="translate(534.21,1804.20) scale(0.01468,-0.01434)"/>
<text transform="translate(550.94,1804.20) scale(1,1.02)" font-size="30.07">5</text>
<text transform="translate(365.44,1863.10) scale(1,1.02)" font-size="30.07">(d) EIC: 330.</text>
<path d="M763,0L583,0L583,1147Q518,1085 412,1023Q306,961 221,930L221,1104Q372,1175 485,1276Q598,1377 645,1472L763,1472Z" transform="translate(535.90,1863.10) scale(0.01468,-0.01434)"/>
<text transform="translate(552.62,1863.10) scale(1,1.02)" font-size="30.07">6</text>
<text transform="translate(368.81,1901.20) scale(1,1.02)" font-size="26.10">Time (min)</text>
<line x1="621.70" y1="1866.50" x2="951.80" y2="1866.50" stroke="#A8A8A8" stroke-width="1.8" stroke-linecap="butt" />
<line x1="622.70" y1="1865.60" x2="622.70" y2="1871.50" stroke="#A8A8A8" stroke-width="1.8" stroke-linecap="butt" />
<path d="M763,0L583,0L583,1147Q518,1085 412,1023Q306,961 221,930L221,1104Q372,1175 485,1276Q598,1377 645,1472L763,1472Z" transform="translate(610.86,1896.70) scale(0.01064,-0.01039)"/>
<text transform="translate(622.98,1896.70) scale(1,1.02)" font-size="21.80">5</text>
<line x1="666.49" y1="1865.60" x2="666.49" y2="1871.50" stroke="#A8A8A8" stroke-width="1.8" stroke-linecap="butt" />
<path d="M763,0L583,0L583,1147Q518,1085 412,1023Q306,961 221,930L221,1104Q372,1175 485,1276Q598,1377 645,1472L763,1472Z" transform="translate(654.67,1896.70) scale(0.01064,-0.01039)"/>
<text transform="translate(666.79,1896.70) scale(1,1.02)" font-size="21.80">6</text>
<line x1="710.28" y1="1865.60" x2="710.28" y2="1871.50" stroke="#A8A8A8" stroke-width="1.8" stroke-linecap="butt" />
<path d="M763,0L583,0L583,1147Q518,1085 412,1023Q306,961 221,930L221,1104Q372,1175 485,1276Q598,1377 645,1472L763,1472Z" transform="translate(698.53,1896.70) scale(0.01064,-0.01039)"/>
<text transform="translate(710.65,1896.70) scale(1,1.02)" font-size="21.80">7</text>
<line x1="754.07" y1="1865.60" x2="754.07" y2="1871.50" stroke="#A8A8A8" stroke-width="1.8" stroke-linecap="butt" />
<path d="M763,0L583,0L583,1147Q518,1085 412,1023Q306,961 221,930L221,1104Q372,1175 485,1276Q598,1377 645,1472L763,1472Z" transform="translate(742.24,1896.70) scale(0.01064,-0.01039)"/>
<text transform="translate(754.37,1896.70) scale(1,1.02)" font-size="21.80">8</text>
<line x1="797.86" y1="1865.60" x2="797.86" y2="1871.50" stroke="#A8A8A8" stroke-width="1.8" stroke-linecap="butt" />
<path d="M763,0L583,0L583,1147Q518,1085 412,1023Q306,961 221,930L221,1104Q372,1175 485,1276Q598,1377 645,1472L763,1472Z" transform="translate(786.08,1896.70) scale(0.01064,-0.01039)"/>
<text transform="translate(798.20,1896.70) scale(1,1.02)" font-size="21.80">9</text>
<line x1="841.65" y1="1865.60" x2="841.65" y2="1871.50" stroke="#A8A8A8" stroke-width="1.8" stroke-linecap="butt" />
<text transform="translate(830.40,1896.70) scale(1,1.02)" font-size="21.80">20</text>
<line x1="885.44" y1="1865.60" x2="885.44" y2="1871.50" stroke="#A8A8A8" stroke-width="1.8" stroke-linecap="butt" />
<text transform="translate(875.77,1896.70) scale(1,1.02)" font-size="21.80">2</text>
<path d="M763,0L583,0L583,1147Q518,1085 412,1023Q306,961 221,930L221,1104Q372,1175 485,1276Q598,1377 645,1472L763,1472Z" transform="translate(887.89,1896.70) scale(0.01064,-0.01039)"/>
<line x1="929.23" y1="1865.60" x2="929.23" y2="1871.50" stroke="#A8A8A8" stroke-width="1.8" stroke-linecap="butt" />
<text transform="translate(918.11,1896.70) scale(1,1.02)" font-size="21.80">22</text>
<path d="M621.7,1682.90 L622.7,1682.90 L623.7,1682.90 L624.7,1682.90 L625.7,1682.90 L626.7,1682.90 L627.7,1682.90 L628.7,1682.90 L629.7,1682.90 L630.7,1682.90 L631.7,1682.90 L632.7,1682.90 L633.7,1682.90 L634.7,1682.90 L635.7,1682.90 L636.7,1682.90 L637.7,1682.90 L638.7,1682.90 L639.7,1682.90 L640.7,1682.90 L641.7,1682.90 L642.7,1682.90 L643.7,1682.90 L644.7,1682.90 L645.7,1682.90 L646.7,1682.90 L647.7,1682.90 L648.7,1682.90 L649.7,1682.90 L650.7,1682.90 L651.7,1682.90 L652.7,1682.90 L653.7,1682.90 L654.7,1682.90 L655.7,1682.90 L656.7,1682.90 L657.7,1682.90 L658.7,1682.90 L659.7,1682.90 L660.7,1682.89 L661.7,1682.89 L662.7,1682.89 L663.7,1682.88 L664.7,1682.87 L665.7,1682.86 L666.7,1682.85 L667.7,1682.83 L668.7,1682.80 L669.7,1682.77 L670.7,1682.73 L671.7,1682.68 L672.7,1682.62 L673.7,1682.55 L674.7,1682.46 L675.7,1682.36 L676.7,1682.23 L677.7,1682.09 L678.7,1681.94 L679.7,1681.76 L680.7,1681.57 L681.7,1681.37 L682.7,1681.15 L683.7,1680.92 L684.7,1680.70 L685.7,1680.47 L686.7,1680.25 L687.7,1680.03 L688.7,1679.82 L689.7,1679.61 L690.7,1679.34 L691.7,1678.97 L692.7,1678.37 L693.7,1677.38 L694.7,1675.87 L695.7,1673.69 L696.7,1670.65 L697.7,1666.64 L698.7,1661.77 L699.7,1656.31 L700.7,1650.71 L701.7,1645.52 L702.7,1641.22 L703.7,1638.17 L704.7,1636.50 L705.7,1636.02 L706.7,1637.33 L707.7,1639.66 L708.7,1642.26 L709.7,1644.98 L710.7,1647.71 L711.7,1650.41 L712.7,1653.02 L713.7,1655.53 L714.7,1657.91 L715.7,1660.16 L716.7,1662.26 L717.7,1664.22 L718.7,1666.04 L719.7,1667.72 L720.7,1669.27 L721.7,1670.68 L722.7,1671.97 L723.7,1673.14 L724.7,1674.21 L725.7,1675.17 L726.7,1676.04 L727.7,1676.82 L728.7,1677.52 L729.7,1678.15 L730.7,1678.71 L731.7,1679.21 L732.7,1679.65 L733.7,1680.05 L734.7,1680.40 L735.7,1680.71 L736.7,1680.99 L737.7,1681.23 L738.7,1681.44 L739.7,1681.63 L740.7,1681.80 L741.7,1681.94 L742.7,1682.07 L743.7,1682.18 L744.7,1682.28 L745.7,1682.36 L746.7,1682.43 L747.7,1682.50 L748.7,1682.55 L749.7,1682.60 L750.7,1682.64 L751.7,1682.68 L752.7,1682.71 L753.7,1682.74 L754.7,1682.76 L755.7,1682.78 L756.7,1682.80 L757.7,1682.81 L758.7,1682.83 L759.7,1682.84 L760.7,1682.85 L761.7,1682.85 L762.7,1682.86 L763.7,1682.87 L764.7,1682.87 L765.7,1682.88 L766.7,1682.88 L767.7,1682.88 L768.7,1682.89 L769.7,1682.89 L770.7,1682.89 L771.7,1682.89 L772.7,1682.89 L773.7,1682.89 L774.7,1682.89 L775.7,1682.90 L776.7,1682.90 L777.7,1682.90 L778.7,1682.90 L779.7,1682.90 L780.7,1682.90 L781.7,1682.90 L782.7,1682.90 L783.7,1682.90 L784.7,1682.90 L785.7,1682.90 L786.7,1682.90 L787.7,1682.90 L788.7,1682.90 L789.7,1682.90 L790.7,1682.90 L791.7,1682.90 L792.7,1682.90 L793.7,1682.90 L794.7,1682.90 L795.7,1682.90 L796.7,1682.90 L797.7,1682.90 L798.7,1682.90 L799.7,1682.90 L800.7,1682.90 L801.7,1682.90 L802.7,1682.90 L803.7,1682.90 L804.7,1682.90 L805.7,1682.90 L806.7,1682.90 L807.7,1682.90 L808.7,1682.90 L809.7,1682.90 L810.7,1682.90 L811.7,1682.90 L812.7,1682.90 L813.7,1682.90 L814.7,1682.90 L815.7,1682.90 L816.7,1682.90 L817.7,1682.90 L818.7,1682.90 L819.7,1682.90 L820.7,1682.90 L821.7,1682.90 L822.7,1682.90 L823.7,1682.90 L824.7,1682.90 L825.7,1682.90 L826.7,1682.90 L827.7,1682.90 L828.7,1682.90 L829.7,1682.90 L830.7,1682.90 L831.7,1682.90 L832.7,1682.90 L833.7,1682.90 L834.7,1682.90 L835.7,1682.90 L836.7,1682.90 L837.7,1682.90 L838.7,1682.90 L839.7,1682.90 L840.7,1682.90 L841.7,1682.90 L842.7,1682.90 L843.7,1682.90 L844.7,1682.90 L845.7,1682.90 L846.7,1682.90 L847.7,1682.90 L848.7,1682.90 L849.7,1682.90 L850.7,1682.90 L851.7,1682.90 L852.7,1682.90 L853.7,1682.90 L854.7,1682.90 L855.7,1682.90 L856.7,1682.90 L857.7,1682.90 L858.7,1682.90 L859.7,1682.90 L860.7,1682.90 L861.7,1682.90 L862.7,1682.90 L863.7,1682.90 L864.7,1682.90 L865.7,1682.90 L866.7,1682.90 L867.7,1682.90 L868.7,1682.90 L869.7,1682.90 L870.7,1682.90 L871.7,1682.90 L872.7,1682.90 L873.7,1682.90 L874.7,1682.90 L875.7,1682.90 L876.7,1682.90 L877.7,1682.90 L878.7,1682.90 L879.7,1682.90 L880.7,1682.90 L881.7,1682.90 L882.7,1682.90 L883.7,1682.90 L884.7,1682.90 L885.7,1682.90 L886.7,1682.90 L887.7,1682.90 L888.7,1682.90 L889.7,1682.90 L890.7,1682.90 L891.7,1682.90 L892.7,1682.90 L893.7,1682.90 L894.7,1682.90 L895.7,1682.90 L896.7,1682.90 L897.7,1682.90 L898.7,1682.90 L899.7,1682.90 L900.7,1682.90 L901.7,1682.90 L902.7,1682.90 L903.7,1682.90 L904.7,1682.90 L905.7,1682.90 L906.7,1682.90 L907.7,1682.90 L908.7,1682.90 L909.7,1682.90 L910.7,1682.90 L911.7,1682.90 L912.7,1682.90 L913.7,1682.90 L914.7,1682.90 L915.7,1682.90 L916.7,1682.90 L917.7,1682.90 L918.7,1682.90 L919.7,1682.90 L920.7,1682.90 L921.7,1682.90 L922.7,1682.90 L923.7,1682.90 L924.7,1682.90 L925.7,1682.90 L926.7,1682.90 L927.7,1682.90 L928.7,1682.90 L929.7,1682.90 L930.7,1682.90 L931.7,1682.90 L932.7,1682.90 L933.7,1682.90 L934.7,1682.90 L935.7,1682.90 L936.7,1682.90 L937.7,1682.90 L938.7,1682.90 L939.7,1682.90 L940.7,1682.90 L941.7,1682.90 L942.7,1682.90 L943.7,1682.90 L944.7,1682.90 L945.7,1682.90 L946.7,1682.90 L947.7,1682.90 L948.7,1682.90 L949.7,1682.90 L950.7,1682.90 L951.7,1682.90 L952.7,1682.90" fill="none" stroke="#BA4240" stroke-width="3.2" stroke-linejoin="round" stroke-linecap="round" />
<path d="M621.7,1742.70 L622.7,1742.70 L623.7,1742.70 L624.7,1742.70 L625.7,1742.70 L626.7,1742.70 L627.7,1742.70 L628.7,1742.70 L629.7,1742.70 L630.7,1742.70 L631.7,1742.70 L632.7,1742.70 L633.7,1742.70 L634.7,1742.70 L635.7,1742.70 L636.7,1742.70 L637.7,1742.70 L638.7,1742.70 L639.7,1742.70 L640.7,1742.70 L641.7,1742.70 L642.7,1742.70 L643.7,1742.70 L644.7,1742.70 L645.7,1742.70 L646.7,1742.70 L647.7,1742.70 L648.7,1742.70 L649.7,1742.70 L650.7,1742.70 L651.7,1742.70 L652.7,1742.70 L653.7,1742.70 L654.7,1742.70 L655.7,1742.70 L656.7,1742.70 L657.7,1742.70 L658.7,1742.70 L659.7,1742.70 L660.7,1742.70 L661.7,1742.70 L662.7,1742.70 L663.7,1742.70 L664.7,1742.70 L665.7,1742.70 L666.7,1742.70 L667.7,1742.70 L668.7,1742.70 L669.7,1742.70 L670.7,1742.70 L671.7,1742.70 L672.7,1742.70 L673.7,1742.70 L674.7,1742.70 L675.7,1742.70 L676.7,1742.70 L677.7,1742.70 L678.7,1742.70 L679.7,1742.70 L680.7,1742.70 L681.7,1742.70 L682.7,1742.70 L683.7,1742.70 L684.7,1742.70 L685.7,1742.70 L686.7,1742.70 L687.7,1742.70 L688.7,1742.70 L689.7,1742.70 L690.7,1742.70 L691.7,1742.70 L692.7,1742.70 L693.7,1742.70 L694.7,1742.70 L695.7,1742.70 L696.7,1742.70 L697.7,1742.70 L698.7,1742.70 L699.7,1742.70 L700.7,1742.70 L701.7,1742.70 L702.7,1742.70 L703.7,1742.70 L704.7,1742.70 L705.7,1742.70 L706.7,1742.70 L707.7,1742.69 L708.7,1742.68 L709.7,1742.65 L710.7,1742.58 L711.7,1742.43 L712.7,1742.15 L713.7,1741.66 L714.7,1740.88 L715.7,1739.73 L716.7,1738.16 L717.7,1736.16 L718.7,1733.82 L719.7,1731.28 L720.7,1728.72 L721.7,1726.37 L722.7,1724.38 L723.7,1722.88 L724.7,1721.92 L725.7,1721.43 L726.7,1721.30 L727.7,1721.54 L728.7,1722.13 L729.7,1722.89 L730.7,1723.77 L731.7,1724.72 L732.7,1725.73 L733.7,1726.76 L734.7,1727.80 L735.7,1728.83 L736.7,1729.85 L737.7,1730.84 L738.7,1731.79 L739.7,1732.71 L740.7,1733.58 L741.7,1734.40 L742.7,1735.17 L743.7,1735.90 L744.7,1736.57 L745.7,1737.19 L746.7,1737.76 L747.7,1738.29 L748.7,1738.77 L749.7,1739.21 L750.7,1739.60 L751.7,1739.96 L752.7,1740.29 L753.7,1740.58 L754.7,1740.84 L755.7,1741.07 L756.7,1741.28 L757.7,1741.46 L758.7,1741.62 L759.7,1741.76 L760.7,1741.89 L761.7,1742.00 L762.7,1742.10 L763.7,1742.18 L764.7,1742.25 L765.7,1742.32 L766.7,1742.37 L767.7,1742.42 L768.7,1742.46 L769.7,1742.50 L770.7,1742.53 L771.7,1742.56 L772.7,1742.58 L773.7,1742.60 L774.7,1742.61 L775.7,1742.63 L776.7,1742.64 L777.7,1742.65 L778.7,1742.66 L779.7,1742.66 L780.7,1742.67 L781.7,1742.68 L782.7,1742.68 L783.7,1742.68 L784.7,1742.69 L785.7,1742.69 L786.7,1742.69 L787.7,1742.69 L788.7,1742.69 L789.7,1742.69 L790.7,1742.70 L791.7,1742.70 L792.7,1742.70 L793.7,1742.70 L794.7,1742.70 L795.7,1742.70 L796.7,1742.70 L797.7,1742.70 L798.7,1742.70 L799.7,1742.70 L800.7,1742.70 L801.7,1742.70 L802.7,1742.70 L803.7,1742.70 L804.7,1742.70 L805.7,1742.70 L806.7,1742.70 L807.7,1742.70 L808.7,1742.70 L809.7,1742.70 L810.7,1742.70 L811.7,1742.70 L812.7,1742.70 L813.7,1742.70 L814.7,1742.70 L815.7,1742.70 L816.7,1742.70 L817.7,1742.70 L818.7,1742.70 L819.7,1742.70 L820.7,1742.70 L821.7,1742.70 L822.7,1742.70 L823.7,1742.70 L824.7,1742.70 L825.7,1742.70 L826.7,1742.70 L827.7,1742.70 L828.7,1742.70 L829.7,1742.70 L830.7,1742.70 L831.7,1742.70 L832.7,1742.70 L833.7,1742.70 L834.7,1742.70 L835.7,1742.70 L836.7,1742.70 L837.7,1742.70 L838.7,1742.70 L839.7,1742.70 L840.7,1742.70 L841.7,1742.70 L842.7,1742.70 L843.7,1742.70 L844.7,1742.70 L845.7,1742.70 L846.7,1742.70 L847.7,1742.70 L848.7,1742.70 L849.7,1742.70 L850.7,1742.70 L851.7,1742.70 L852.7,1742.70 L853.7,1742.70 L854.7,1742.70 L855.7,1742.70 L856.7,1742.70 L857.7,1742.70 L858.7,1742.70 L859.7,1742.70 L860.7,1742.70 L861.7,1742.70 L862.7,1742.70 L863.7,1742.70 L864.7,1742.70 L865.7,1742.70 L866.7,1742.70 L867.7,1742.70 L868.7,1742.70 L869.7,1742.70 L870.7,1742.70 L871.7,1742.70 L872.7,1742.70 L873.7,1742.70 L874.7,1742.70 L875.7,1742.70 L876.7,1742.70 L877.7,1742.70 L878.7,1742.70 L879.7,1742.70 L880.7,1742.70 L881.7,1742.70 L882.7,1742.70 L883.7,1742.70 L884.7,1742.70 L885.7,1742.70 L886.7,1742.70 L887.7,1742.70 L888.7,1742.70 L889.7,1742.70 L890.7,1742.70 L891.7,1742.70 L892.7,1742.70 L893.7,1742.70 L894.7,1742.70 L895.7,1742.70 L896.7,1742.70 L897.7,1742.70 L898.7,1742.70 L899.7,1742.70 L900.7,1742.70 L901.7,1742.70 L902.7,1742.70 L903.7,1742.70 L904.7,1742.70 L905.7,1742.70 L906.7,1742.70 L907.7,1742.70 L908.7,1742.70 L909.7,1742.70 L910.7,1742.70 L911.7,1742.70 L912.7,1742.70 L913.7,1742.70 L914.7,1742.70 L915.7,1742.70 L916.7,1742.70 L917.7,1742.70 L918.7,1742.70 L919.7,1742.70 L920.7,1742.70 L921.7,1742.70 L922.7,1742.70 L923.7,1742.70 L924.7,1742.70 L925.7,1742.70 L926.7,1742.70 L927.7,1742.70 L928.7,1742.70 L929.7,1742.70 L930.7,1742.70 L931.7,1742.70 L932.7,1742.70 L933.7,1742.70 L934.7,1742.70 L935.7,1742.70 L936.7,1742.70 L937.7,1742.70 L938.7,1742.70 L939.7,1742.70 L940.7,1742.70 L941.7,1742.70 L942.7,1742.70 L943.7,1742.70 L944.7,1742.70 L945.7,1742.70 L946.7,1742.70 L947.7,1742.70 L948.7,1742.70 L949.7,1742.70 L950.7,1742.70 L951.7,1742.70 L952.7,1742.70" fill="none" stroke="#3A72B6" stroke-width="3.2" stroke-linejoin="round" stroke-linecap="round" />
<path d="M621.7,1801.00 L622.7,1801.00 L623.7,1801.00 L624.7,1801.00 L625.7,1801.00 L626.7,1801.00 L627.7,1801.00 L628.7,1801.00 L629.7,1801.00 L630.7,1801.00 L631.7,1801.00 L632.7,1801.00 L633.7,1801.00 L634.7,1801.00 L635.7,1801.00 L636.7,1801.00 L637.7,1801.00 L638.7,1801.00 L639.7,1801.00 L640.7,1801.00 L641.7,1801.00 L642.7,1801.00 L643.7,1801.00 L644.7,1801.00 L645.7,1801.00 L646.7,1801.00 L647.7,1801.00 L648.7,1801.00 L649.7,1801.00 L650.7,1801.00 L651.7,1801.00 L652.7,1801.00 L653.7,1801.00 L654.7,1801.00 L655.7,1801.00 L656.7,1801.00 L657.7,1801.00 L658.7,1801.00 L659.7,1801.00 L660.7,1801.00 L661.7,1801.00 L662.7,1801.00 L663.7,1801.00 L664.7,1801.00 L665.7,1801.00 L666.7,1801.00 L667.7,1801.00 L668.7,1801.00 L669.7,1801.00 L670.7,1801.00 L671.7,1801.00 L672.7,1801.00 L673.7,1801.00 L674.7,1801.00 L675.7,1801.00 L676.7,1801.00 L677.7,1801.00 L678.7,1801.00 L679.7,1801.00 L680.7,1801.00 L681.7,1800.99 L682.7,1800.97 L683.7,1800.93 L684.7,1800.85 L685.7,1800.68 L686.7,1800.37 L687.7,1799.84 L688.7,1798.97 L689.7,1797.67 L690.7,1795.83 L691.7,1793.36 L692.7,1790.26 L693.7,1786.56 L694.7,1782.38 L695.7,1777.90 L696.7,1773.36 L697.7,1768.97 L698.7,1764.95 L699.7,1761.46 L700.7,1758.61 L701.7,1756.43 L702.7,1754.90 L703.7,1753.94 L704.7,1753.43 L705.7,1753.23 L706.7,1753.20 L707.7,1753.75 L708.7,1754.82 L709.7,1756.20 L710.7,1757.78 L711.7,1759.51 L712.7,1761.34 L713.7,1763.25 L714.7,1765.19 L715.7,1767.16 L716.7,1769.12 L717.7,1771.05 L718.7,1772.96 L719.7,1774.81 L720.7,1776.61 L721.7,1778.35 L722.7,1780.01 L723.7,1781.60 L724.7,1783.11 L725.7,1784.54 L726.7,1785.89 L727.7,1787.16 L728.7,1788.35 L729.7,1789.46 L730.7,1790.50 L731.7,1791.46 L732.7,1792.35 L733.7,1793.17 L734.7,1793.93 L735.7,1794.63 L736.7,1795.26 L737.7,1795.85 L738.7,1796.38 L739.7,1796.86 L740.7,1797.30 L741.7,1797.70 L742.7,1798.06 L743.7,1798.39 L744.7,1798.68 L745.7,1798.94 L746.7,1799.18 L747.7,1799.39 L748.7,1799.58 L749.7,1799.75 L750.7,1799.90 L751.7,1800.03 L752.7,1800.15 L753.7,1800.26 L754.7,1800.35 L755.7,1800.43 L756.7,1800.50 L757.7,1800.57 L758.7,1800.62 L759.7,1800.67 L760.7,1800.72 L761.7,1800.75 L762.7,1800.79 L763.7,1800.82 L764.7,1800.84 L765.7,1800.86 L766.7,1800.88 L767.7,1800.90 L768.7,1800.91 L769.7,1800.93 L770.7,1800.94 L771.7,1800.95 L772.7,1800.95 L773.7,1800.96 L774.7,1800.97 L775.7,1800.97 L776.7,1800.98 L777.7,1800.98 L778.7,1800.98 L779.7,1800.98 L780.7,1800.99 L781.7,1800.99 L782.7,1800.99 L783.7,1800.99 L784.7,1800.99 L785.7,1800.99 L786.7,1801.00 L787.7,1801.00 L788.7,1801.00 L789.7,1801.00 L790.7,1801.00 L791.7,1801.00 L792.7,1801.00 L793.7,1801.00 L794.7,1801.00 L795.7,1801.00 L796.7,1801.00 L797.7,1801.00 L798.7,1801.00 L799.7,1801.00 L800.7,1801.00 L801.7,1801.00 L802.7,1801.00 L803.7,1801.00 L804.7,1801.00 L805.7,1801.00 L806.7,1801.00 L807.7,1801.00 L808.7,1801.00 L809.7,1801.00 L810.7,1801.00 L811.7,1801.00 L812.7,1801.00 L813.7,1801.00 L814.7,1801.00 L815.7,1801.00 L816.7,1801.00 L817.7,1801.00 L818.7,1801.00 L819.7,1801.00 L820.7,1801.00 L821.7,1801.00 L822.7,1801.00 L823.7,1801.00 L824.7,1801.00 L825.7,1801.00 L826.7,1801.00 L827.7,1801.00 L828.7,1801.00 L829.7,1801.00 L830.7,1801.00 L831.7,1801.00 L832.7,1801.00 L833.7,1801.00 L834.7,1801.00 L835.7,1801.00 L836.7,1801.00 L837.7,1801.00 L838.7,1801.00 L839.7,1801.00 L840.7,1801.00 L841.7,1801.00 L842.7,1801.00 L843.7,1801.00 L844.7,1801.00 L845.7,1801.00 L846.7,1801.00 L847.7,1801.00 L848.7,1801.00 L849.7,1801.00 L850.7,1801.00 L851.7,1801.00 L852.7,1801.00 L853.7,1801.00 L854.7,1801.00 L855.7,1801.00 L856.7,1801.00 L857.7,1801.00 L858.7,1801.00 L859.7,1801.00 L860.7,1801.00 L861.7,1801.00 L862.7,1801.00 L863.7,1801.00 L864.7,1801.00 L865.7,1801.00 L866.7,1801.00 L867.7,1801.00 L868.7,1801.00 L869.7,1801.00 L870.7,1801.00 L871.7,1801.00 L872.7,1801.00 L873.7,1801.00 L874.7,1801.00 L875.7,1801.00 L876.7,1801.00 L877.7,1801.00 L878.7,1801.00 L879.7,1801.00 L880.7,1801.00 L881.7,1801.00 L882.7,1801.00 L883.7,1801.00 L884.7,1801.00 L885.7,1801.00 L886.7,1801.00 L887.7,1801.00 L888.7,1801.00 L889.7,1801.00 L890.7,1801.00 L891.7,1801.00 L892.7,1801.00 L893.7,1801.00 L894.7,1801.00 L895.7,1801.00 L896.7,1801.00 L897.7,1801.00 L898.7,1801.00 L899.7,1801.00 L900.7,1801.00 L901.7,1801.00 L902.7,1801.00 L903.7,1801.00 L904.7,1801.00 L905.7,1801.00 L906.7,1801.00 L907.7,1801.00 L908.7,1801.00 L909.7,1801.00 L910.7,1801.00 L911.7,1801.00 L912.7,1801.00 L913.7,1801.00 L914.7,1801.00 L915.7,1801.00 L916.7,1801.00 L917.7,1801.00 L918.7,1801.00 L919.7,1801.00 L920.7,1801.00 L921.7,1801.00 L922.7,1801.00 L923.7,1801.00 L924.7,1801.00 L925.7,1801.00 L926.7,1801.00 L927.7,1801.00 L928.7,1801.00 L929.7,1801.00 L930.7,1801.00 L931.7,1801.00 L932.7,1801.00 L933.7,1801.00 L934.7,1801.00 L935.7,1801.00 L936.7,1801.00 L937.7,1801.00 L938.7,1801.00 L939.7,1801.00 L940.7,1801.00 L941.7,1801.00 L942.7,1801.00 L943.7,1801.00 L944.7,1801.00 L945.7,1801.00 L946.7,1801.00 L947.7,1801.00 L948.7,1801.00 L949.7,1801.00 L950.7,1801.00 L951.7,1801.00 L952.7,1801.00" fill="none" stroke="#8FB447" stroke-width="3.2" stroke-linejoin="round" stroke-linecap="round" />
<path d="M621.7,1859.50 L622.7,1859.50 L623.7,1859.50 L624.7,1859.50 L625.7,1859.50 L626.7,1859.50 L627.7,1859.50 L628.7,1859.50 L629.7,1859.50 L630.7,1859.50 L631.7,1859.50 L632.7,1859.50 L633.7,1859.50 L634.7,1859.50 L635.7,1859.50 L636.7,1859.50 L637.7,1859.50 L638.7,1859.50 L639.7,1859.50 L640.7,1859.50 L641.7,1859.50 L642.7,1859.50 L643.7,1859.50 L644.7,1859.50 L645.7,1859.50 L646.7,1859.50 L647.7,1859.50 L648.7,1859.50 L649.7,1859.50 L650.7,1859.50 L651.7,1859.50 L652.7,1859.50 L653.7,1859.50 L654.7,1859.50 L655.7,1859.50 L656.7,1859.50 L657.7,1859.50 L658.7,1859.50 L659.7,1859.50 L660.7,1859.50 L661.7,1859.50 L662.7,1859.50 L663.7,1859.50 L664.7,1859.50 L665.7,1859.50 L666.7,1859.50 L667.7,1859.50 L668.7,1859.50 L669.7,1859.50 L670.7,1859.50 L671.7,1859.50 L672.7,1859.50 L673.7,1859.50 L674.7,1859.50 L675.7,1859.50 L676.7,1859.50 L677.7,1859.50 L678.7,1859.50 L679.7,1859.50 L680.7,1859.50 L681.7,1859.50 L682.7,1859.50 L683.7,1859.50 L684.7,1859.50 L685.7,1859.50 L686.7,1859.50 L687.7,1859.50 L688.7,1859.50 L689.7,1859.50 L690.7,1859.50 L691.7,1859.50 L692.7,1859.50 L693.7,1859.50 L694.7,1859.50 L695.7,1859.50 L696.7,1859.50 L697.7,1859.50 L698.7,1859.50 L699.7,1859.50 L700.7,1859.50 L701.7,1859.50 L702.7,1859.50 L703.7,1859.50 L704.7,1859.49 L705.7,1859.47 L706.7,1859.43 L707.7,1859.33 L708.7,1859.14 L709.7,1858.79 L710.7,1858.18 L711.7,1857.19 L712.7,1855.70 L713.7,1853.58 L714.7,1850.76 L715.7,1847.22 L716.7,1843.05 L717.7,1838.40 L718.7,1833.52 L719.7,1828.68 L720.7,1824.16 L721.7,1820.21 L722.7,1816.98 L723.7,1814.55 L724.7,1812.92 L725.7,1811.98 L726.7,1811.58 L727.7,1811.50 L728.7,1811.60 L729.7,1811.88 L730.7,1812.31 L731.7,1812.88 L732.7,1813.56 L733.7,1814.36 L734.7,1815.25 L735.7,1816.23 L736.7,1817.29 L737.7,1818.42 L738.7,1819.61 L739.7,1820.86 L740.7,1822.15 L741.7,1823.47 L742.7,1824.82 L743.7,1826.19 L744.7,1827.57 L745.7,1828.96 L746.7,1830.35 L747.7,1831.73 L748.7,1833.09 L749.7,1834.44 L750.7,1835.77 L751.7,1837.07 L752.7,1838.34 L753.7,1839.57 L754.7,1840.77 L755.7,1841.93 L756.7,1843.05 L757.7,1844.12 L758.7,1845.15 L759.7,1846.14 L760.7,1847.08 L761.7,1847.98 L762.7,1848.83 L763.7,1849.63 L764.7,1850.39 L765.7,1851.11 L766.7,1851.78 L767.7,1852.42 L768.7,1853.01 L769.7,1853.56 L770.7,1854.07 L771.7,1854.55 L772.7,1855.00 L773.7,1855.41 L774.7,1855.79 L775.7,1856.14 L776.7,1856.46 L777.7,1856.76 L778.7,1857.03 L779.7,1857.27 L780.7,1857.50 L781.7,1857.71 L782.7,1857.90 L783.7,1858.07 L784.7,1858.22 L785.7,1858.36 L786.7,1858.49 L787.7,1858.60 L788.7,1858.70 L789.7,1858.79 L790.7,1858.87 L791.7,1858.95 L792.7,1859.01 L793.7,1859.07 L794.7,1859.12 L795.7,1859.17 L796.7,1859.21 L797.7,1859.25 L798.7,1859.28 L799.7,1859.31 L800.7,1859.33 L801.7,1859.35 L802.7,1859.37 L803.7,1859.39 L804.7,1859.41 L805.7,1859.42 L806.7,1859.43 L807.7,1859.44 L808.7,1859.45 L809.7,1859.46 L810.7,1859.46 L811.7,1859.47 L812.7,1859.47 L813.7,1859.48 L814.7,1859.48 L815.7,1859.48 L816.7,1859.49 L817.7,1859.49 L818.7,1859.49 L819.7,1859.49 L820.7,1859.49 L821.7,1859.49 L822.7,1859.49 L823.7,1859.50 L824.7,1859.50 L825.7,1859.50 L826.7,1859.50 L827.7,1859.50 L828.7,1859.50 L829.7,1859.50 L830.7,1859.50 L831.7,1859.50 L832.7,1859.50 L833.7,1859.50 L834.7,1859.50 L835.7,1859.50 L836.7,1859.50 L837.7,1859.50 L838.7,1859.50 L839.7,1859.50 L840.7,1859.50 L841.7,1859.50 L842.7,1859.50 L843.7,1859.50 L844.7,1859.50 L845.7,1859.50 L846.7,1859.50 L847.7,1859.50 L848.7,1859.50 L849.7,1859.50 L850.7,1859.50 L851.7,1859.50 L852.7,1859.50 L853.7,1859.50 L854.7,1859.50 L855.7,1859.50 L856.7,1859.50 L857.7,1859.50 L858.7,1859.50 L859.7,1859.50 L860.7,1859.50 L861.7,1859.50 L862.7,1859.50 L863.7,1859.50 L864.7,1859.50 L865.7,1859.50 L866.7,1859.50 L867.7,1859.50 L868.7,1859.50 L869.7,1859.50 L870.7,1859.50 L871.7,1859.50 L872.7,1859.50 L873.7,1859.50 L874.7,1859.50 L875.7,1859.50 L876.7,1859.50 L877.7,1859.50 L878.7,1859.50 L879.7,1859.50 L880.7,1859.50 L881.7,1859.50 L882.7,1859.50 L883.7,1859.50 L884.7,1859.50 L885.7,1859.50 L886.7,1859.50 L887.7,1859.50 L888.7,1859.50 L889.7,1859.50 L890.7,1859.50 L891.7,1859.50 L892.7,1859.50 L893.7,1859.50 L894.7,1859.50 L895.7,1859.50 L896.7,1859.50 L897.7,1859.50 L898.7,1859.50 L899.7,1859.50 L900.7,1859.50 L901.7,1859.50 L902.7,1859.50 L903.7,1859.50 L904.7,1859.50 L905.7,1859.50 L906.7,1859.50 L907.7,1859.50 L908.7,1859.50 L909.7,1859.50 L910.7,1859.50 L911.7,1859.50 L912.7,1859.50 L913.7,1859.50 L914.7,1859.50 L915.7,1859.50 L916.7,1859.50 L917.7,1859.50 L918.7,1859.50 L919.7,1859.50 L920.7,1859.50 L921.7,1859.50 L922.7,1859.50 L923.7,1859.50 L924.7,1859.50 L925.7,1859.50 L926.7,1859.50 L927.7,1859.50 L928.7,1859.50 L929.7,1859.50 L930.7,1859.50 L931.7,1859.50 L932.7,1859.50 L933.7,1859.50 L934.7,1859.50 L935.7,1859.50 L936.7,1859.50 L937.7,1859.50 L938.7,1859.50 L939.7,1859.50 L940.7,1859.50 L941.7,1859.50 L942.7,1859.50 L943.7,1859.50 L944.7,1859.50 L945.7,1859.50 L946.7,1859.50 L947.7,1859.50 L948.7,1859.50 L949.7,1859.50 L950.7,1859.50 L951.7,1859.50 L952.7,1859.50" fill="none" stroke="#74569B" stroke-width="3.2" stroke-linejoin="round" stroke-linecap="round" />
<line x1="705.40" y1="1632.00" x2="703.20" y2="1812.00" stroke="#001A5A" stroke-width="3.6" stroke-linecap="butt" stroke-dasharray="13.9 10.8"/>
<line x1="725.30" y1="1708.60" x2="725.30" y2="1862.00" stroke="#C20000" stroke-width="3.6" stroke-linecap="butt" stroke-dasharray="13.9 10.8"/>
<text transform="translate(623.07,1604.30) scale(1,1.02)" font-size="47.00" font-weight="bold">G</text>
<text transform="translate(667.80,1597.00) scale(1,1.02)" font-size="32.05" font-style="italic">(3’R)</text>
<text transform="translate(737.24,1597.00) scale(1,1.02)" font-size="32.05">-3’-Fluoro-paromamine (</text>
<path d="M856,0L575,0L575,1059Q421,915 212,846L212,1101Q322,1137 451,1238Q580,1339 628,1472L856,1472Z" transform="translate(1082.76,1597.00) scale(0.01565,-0.01528)"/>
<text transform="translate(1100.59,1597.00) scale(1,1.02)" font-size="32.05" font-weight="bold">8</text>
<text transform="translate(1118.41,1597.00) scale(1,1.02)" font-size="32.05">)</text>
<text transform="translate(781.24,1669.00) scale(1,1.02)" font-size="26.20">with AprD4/D3</text>
<text transform="translate(781.24,1728.90) scale(1,1.02)" font-size="26.20">with AprD4/D3</text>
<text transform="translate(777.47,1789.20) scale(1,1.02)" font-size="26.20">standard of </text>
<path d="M856,0L575,0L575,1059Q421,915 212,846L212,1101Q322,1137 451,1238Q580,1339 628,1472L856,1472Z" transform="translate(915.84,1789.20) scale(0.01279,-0.01249)"/>
<text transform="translate(930.41,1789.20) scale(1,1.02)" font-size="26.20" font-weight="bold">8</text>
<text transform="translate(784.07,1849.60) scale(1,1.02)" font-size="26.20">standard of </text>
<text transform="translate(922.44,1849.60) scale(1,1.02)" font-size="26.20" font-weight="bold">4</text>
<text transform="translate(966.64,1684.40) scale(1,1.02)" font-size="30.07">(a) EIC: 348.</text>
<path d="M763,0L583,0L583,1147Q518,1085 412,1023Q306,961 221,930L221,1104Q372,1175 485,1276Q598,1377 645,1472L763,1472Z" transform="translate(1137.10,1684.40) scale(0.01468,-0.01434)"/>
<text transform="translate(1153.82,1684.40) scale(1,1.02)" font-size="30.07">5</text>
<text transform="translate(966.64,1743.60) scale(1,1.02)" font-size="30.07">(b) EIC: 330.</text>
<path d="M763,0L583,0L583,1147Q518,1085 412,1023Q306,961 221,930L221,1104Q372,1175 485,1276Q598,1377 645,1472L763,1472Z" transform="translate(1137.10,1743.60) scale(0.01468,-0.01434)"/>
<text transform="translate(1153.82,1743.60) scale(1,1.02)" font-size="30.07">6</text>
<text transform="translate(966.64,1803.80) scale(1,1.02)" font-size="30.07">(c) EIC: 348.</text>
<path d="M763,0L583,0L583,1147Q518,1085 412,1023Q306,961 221,930L221,1104Q372,1175 485,1276Q598,1377 645,1472L763,1472Z" transform="translate(1135.41,1803.80) scale(0.01468,-0.01434)"/>
<text transform="translate(1152.14,1803.80) scale(1,1.02)" font-size="30.07">5</text>
<text transform="translate(966.64,1856.70) scale(1,1.02)" font-size="30.07">(d) EIC: 330.</text>
<path d="M763,0L583,0L583,1147Q518,1085 412,1023Q306,961 221,930L221,1104Q372,1175 485,1276Q598,1377 645,1472L763,1472Z" transform="translate(1137.10,1856.70) scale(0.01468,-0.01434)"/>
<text transform="translate(1153.82,1856.70) scale(1,1.02)" font-size="30.07">6</text>
<text transform="translate(966.91,1899.00) scale(1,1.02)" font-size="26.10">Time (min)</text>
</svg></body></html>
